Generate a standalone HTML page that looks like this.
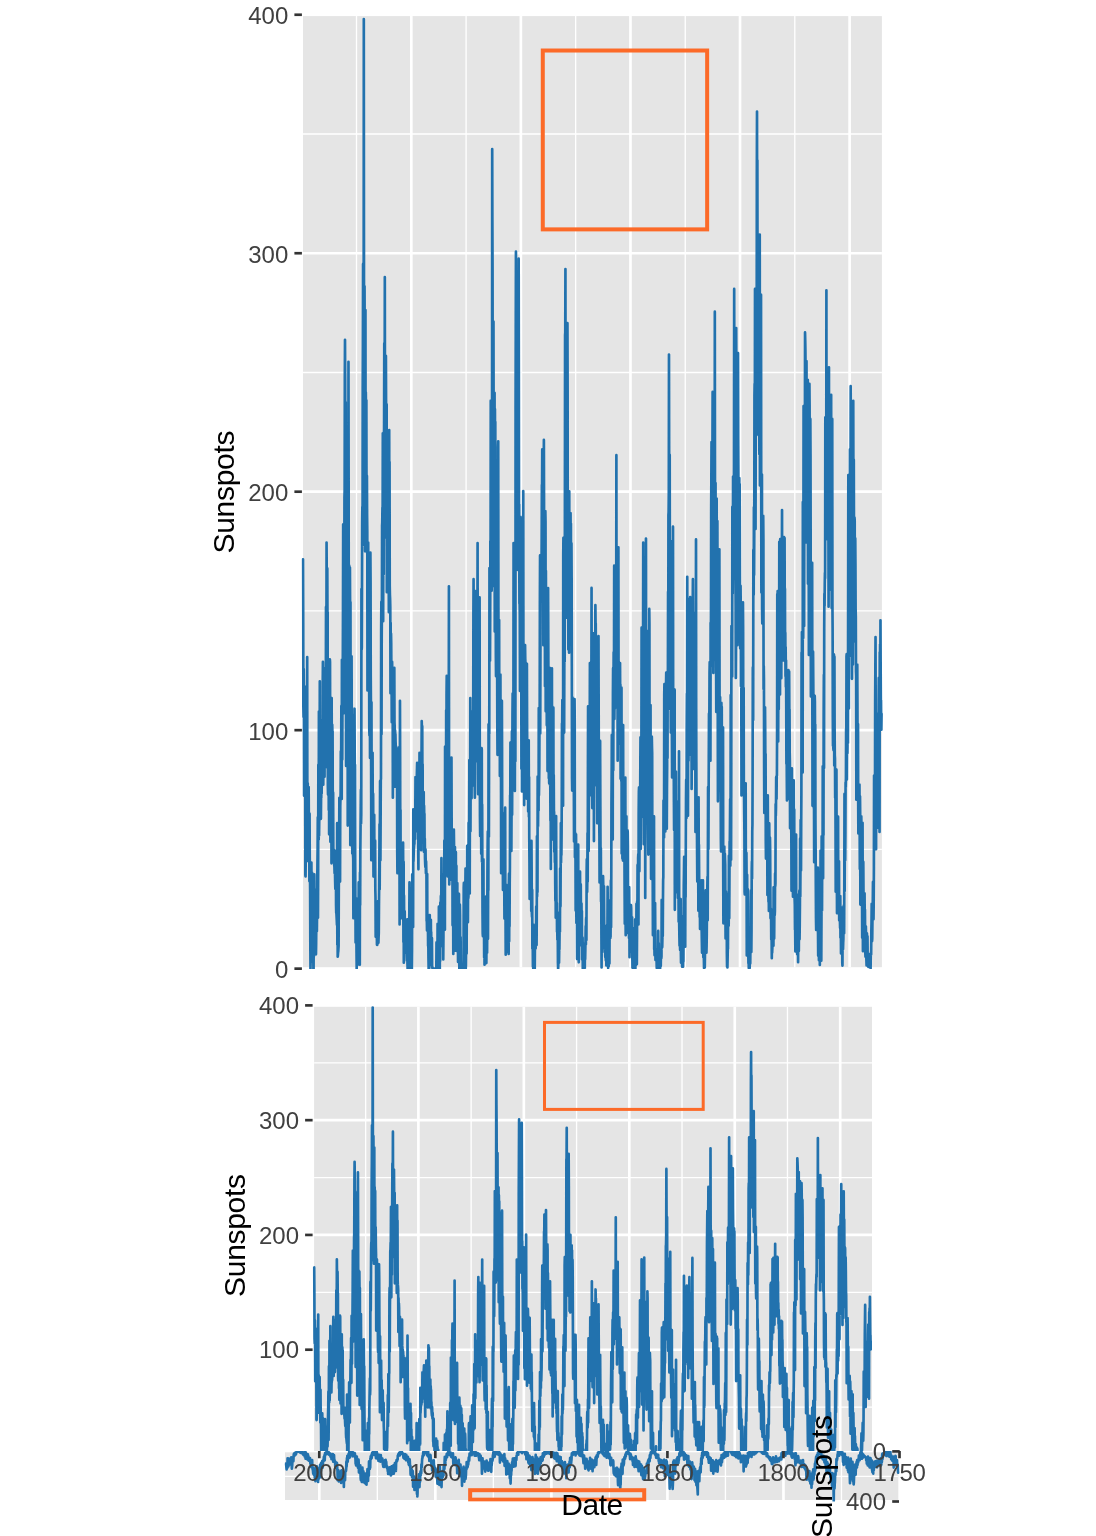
<!DOCTYPE html>
<html lang="en"><head><meta charset="utf-8"><title>Sunspots</title>
<style>
html,body{margin:0;padding:0;background:#fff}
svg{display:block}
text{font-family:"Liberation Sans",sans-serif}
.t{letter-spacing:-0.35px}
</style></head>
<body>
<svg width="1096" height="1536" viewBox="0 0 1096 1536">
<rect width="1096" height="1536" fill="#fff"/>
<clipPath id="ca"><rect x="301.5" y="14.75" width="581.9" height="954.2"/></clipPath>
<rect x="303" y="16.1" width="578.9" height="951.1" fill="#E5E5E5"/>
<path d="M356.51 16.1V967.2M466.08 16.1V967.2M575.66 16.1V967.2M685.23 16.1V967.2M794.81 16.1V967.2M303 849.41H881.9M303 610.94H881.9M303 372.46H881.9M303 133.99H881.9" stroke="#fff" stroke-width="1.33" fill="none"/>
<path d="M411.3 16.1V967.2M520.87 16.1V967.2M630.45 16.1V967.2M740.02 16.1V967.2M849.6 16.1V967.2M303 730.17H881.9M303 491.7H881.9M303 253.23H881.9" stroke="#fff" stroke-width="2.67" fill="none"/>
<g clip-path="url(#ca)">
<polyline points="303,559.27 303.18,606.17 303.37,707.52 303.55,717.06 303.73,668.97 303.91,690.43 304.1,795.76 304.28,788.6 304.46,744.48 304.64,727.39 304.83,767.14 305.01,705.14 305.19,730.97 305.37,875.25 305.56,876.44 305.74,855.37 305.92,793.77 306.1,829.54 306.29,769.92 306.47,686.45 306.65,732.96 306.84,731.37 307.02,811.26 307.2,657.04 307.38,852.19 307.57,860.94 307.75,783.43 307.93,819.21 308.11,809.67 308.3,793.77 308.48,841.46 308.66,787.01 308.84,817.62 309.03,825.56 309.21,842.66 309.39,881.21 309.57,813.64 309.76,857.36 309.94,869.29 310.12,889.16 310.31,942.02 310.49,968.65 310.67,956.73 310.85,961.89 311.04,914.2 311.22,886.38 311.4,862.53 311.58,893.93 311.77,919.76 311.95,936.06 312.13,872.86 312.31,916.19 312.5,951.96 312.68,928.11 312.86,924.13 313.04,941.62 313.23,942.82 313.41,968.65 313.59,968.65 313.77,934.47 313.96,955.93 314.14,897.9 314.32,874.45 314.51,941.62 314.69,889.16 314.87,918.97 315.05,940.43 315.24,947.19 315.42,931.29 315.6,918.97 315.78,917.38 315.97,954.34 316.15,943.21 316.33,921.75 316.51,911.81 316.7,901.08 316.88,931.29 317.06,912.61 317.24,884.39 317.43,864.52 317.61,849.41 317.79,817.22 317.98,917.78 318.16,869.29 318.34,764.75 318.52,810.86 318.71,839.48 318.89,711.49 319.07,835.5 319.25,819.21 319.44,761.97 319.62,773.9 319.8,681.29 319.98,784.23 320.17,789.79 320.35,793.77 320.53,814.83 320.71,720.24 320.9,818.81 321.08,797.74 321.26,797.74 321.45,776.68 321.63,793.77 321.81,782.64 321.99,781.84 322.18,773.9 322.36,769.92 322.54,765.95 322.72,685.26 322.91,661.81 323.09,731.37 323.27,784.63 323.45,742.1 323.64,701.16 323.82,732.16 324,671.75 324.18,736.93 324.37,682.48 324.55,776.68 324.73,706.33 324.92,668.17 325.1,725.01 325.28,767.54 325.46,731.37 325.65,726.2 325.83,690.43 326.01,606.96 326.19,647.9 326.38,683.67 326.56,542.57 326.74,573.97 326.92,594.64 327.11,606.57 327.29,568.41 327.47,616.1 327.65,612.13 327.84,785.82 328.02,794.56 328.2,679.3 328.38,787.01 328.57,729.38 328.75,810.06 328.93,662.21 329.12,834.31 329.3,699.57 329.48,696.39 329.66,693.21 329.85,659.43 330.03,661.81 330.21,744.09 330.39,841.86 330.58,832.72 330.76,837.89 330.94,838.68 331.12,826.36 331.31,753.23 331.49,863.32 331.67,697.98 331.85,784.63 332.04,726.6 332.22,724.61 332.4,731.37 332.59,731.37 332.77,808.87 332.95,831.92 333.13,792.58 333.32,849.41 333.5,849.41 333.68,849.41 333.86,856.57 334.05,857.36 334.23,865.31 334.41,866.5 334.59,873.26 334.78,865.31 334.96,869.29 335.14,881.21 335.32,888.36 335.51,889.16 335.69,861.34 335.87,850.6 336.06,905.06 336.24,913.01 336.42,913.01 336.6,916.98 336.79,920.95 336.97,924.93 337.15,823.18 337.33,944.8 337.52,862.13 337.7,956.73 337.88,955.53 338.06,952.75 338.25,951.56 338.43,948.78 338.61,945.99 338.79,892.34 338.98,859.75 339.16,849.41 339.34,797.74 339.53,837.89 339.71,850.21 339.89,836.3 340.07,881.61 340.26,806.49 340.44,798.94 340.62,793.37 340.8,751.24 340.99,756.8 341.17,756.01 341.35,705.93 341.53,784.63 341.72,798.94 341.9,659.82 342.08,661.02 342.26,759.59 342.45,703.15 342.63,671.35 342.81,659.43 342.99,608.55 343.18,524.29 343.36,674.93 343.54,713.48 343.73,713.08 343.91,584.31 344.09,676.12 344.27,593.45 344.46,497.26 344.64,490.51 344.82,377.23 345,339.87 345.19,380.01 345.37,523.5 345.55,555.29 345.73,402.27 345.92,650.29 346.1,765.95 346.28,690.03 346.46,637.57 346.65,532.24 346.83,466.66 347.01,553.7 347.2,556.88 347.38,443.21 347.56,562.05 347.74,825.56 347.93,785.02 348.11,783.04 348.29,710.7 348.47,361.73 348.66,493.69 348.84,699.57 349.02,736.14 349.2,565.63 349.39,610.94 349.57,572.38 349.75,588.28 349.93,567.61 350.12,607.76 350.3,845.04 350.48,602.19 350.67,817.62 350.85,742.1 351.03,661.41 351.21,745.28 351.4,767.93 351.58,656.25 351.76,725.01 351.94,714.28 352.13,751.64 352.31,853.39 352.49,765.15 352.67,837.89 352.86,805.29 353.04,855.77 353.22,858.55 353.4,918.17 353.59,852.19 353.77,864.12 353.95,806.09 354.14,796.95 354.32,782.64 354.5,708.71 354.68,747.27 354.87,794.56 355.05,764.75 355.23,855.37 355.41,899.09 355.6,942.42 355.78,937.25 355.96,913.01 356.14,898.3 356.33,920.16 356.51,951.16 356.69,968.65 356.87,922.54 357.06,924.13 357.24,953.15 357.42,919.76 357.6,964.68 357.79,937.25 357.97,955.93 358.15,946.39 358.34,908.63 358.52,937.25 358.7,882.4 358.88,922.54 359.07,943.61 359.25,882 359.43,924.13 359.61,893.13 359.8,964.68 359.98,872.47 360.16,905.06 360.34,849.41 360.53,829.54 360.71,809.67 360.89,789.79 361.07,823.58 361.26,813.64 361.44,589.08 361.62,649.49 361.81,647.9 361.99,591.06 362.17,523.5 362.35,506.8 362.54,545.36 362.72,388.36 362.9,343.45 363.08,263.96 363.27,534.23 363.45,436.06 363.63,392.34 363.81,19.12 364,286.61 364.18,360.54 364.36,412.21 364.54,286.21 364.73,347.42 364.91,371.27 365.09,551.32 365.28,512.77 365.46,310.06 365.64,499.65 365.82,392.34 366.01,412.21 366.19,516.74 366.37,400.28 366.55,523.5 366.74,527.47 366.92,475.8 367.1,515.55 367.28,531.45 367.47,690.43 367.65,579.14 367.83,579.14 368.01,591.06 368.2,542.57 368.38,618.89 368.56,626.84 368.75,626.84 368.93,596.23 369.11,662.61 369.29,730.17 369.48,735.34 369.66,576.36 369.84,671.75 370.02,758 370.21,697.19 370.39,552.51 370.57,580.33 370.75,676.52 370.94,706.33 371.12,765.95 371.3,860.14 371.48,702.35 371.67,828.74 371.85,754.02 372.03,819.6 372.21,821.59 372.4,805.69 372.58,752.83 372.76,817.62 372.95,821.59 373.13,793.77 373.31,833.51 373.49,876.44 373.68,843.45 373.86,849.41 374.04,857.36 374.22,814.83 374.41,862.53 374.59,856.17 374.77,877.23 374.95,868.49 375.14,840.67 375.32,889.16 375.5,897.11 375.68,936.85 375.87,909.03 376.05,926.92 376.23,916.98 376.42,936.85 376.6,924.93 376.78,928.9 376.96,944.8 377.15,932.88 377.33,944.8 377.51,928.9 377.69,928.9 377.88,936.85 378.06,901.08 378.24,913.01 378.42,942.82 378.61,936.85 378.79,932.88 378.97,906.25 379.15,886.38 379.34,864.12 379.52,824.37 379.7,889.16 379.89,841.46 380.07,781.05 380.25,808.87 380.43,860.14 380.62,820.8 380.8,779.46 380.98,779.06 381.16,629.22 381.35,601.8 381.53,734.15 381.71,638.76 381.89,612.13 382.08,525.48 382.26,522.3 382.44,507.6 382.62,520.71 382.81,433.27 382.99,547.34 383.17,621.27 383.36,463.08 383.54,432.88 383.72,574.37 383.9,459.9 384.09,423.34 384.27,343.45 384.45,344.64 384.63,406.25 384.82,277.07 385,420.16 385.18,455.13 385.36,399.09 385.55,537.41 385.73,519.52 385.91,355.77 386.09,406.25 386.28,428.11 386.46,408.23 386.64,404.26 386.82,592.26 387.01,453.94 387.19,515.55 387.37,470.63 387.56,491.7 387.74,478.58 387.92,477.79 388.1,491.7 388.29,503.62 388.47,559.27 388.65,523.5 388.83,612.13 389.02,436.06 389.2,430.09 389.38,559.27 389.56,461.89 389.75,585.9 389.93,595.04 390.11,599.01 390.29,606.96 390.48,693.21 390.66,622.86 390.84,661.41 391.03,633.59 391.21,642.73 391.39,674.53 391.57,679.7 391.76,722.23 391.94,674.53 392.12,661.81 392.3,675.72 392.49,713.48 392.67,686.45 392.85,797.74 393.03,704.34 393.22,723.42 393.4,702.35 393.58,706.33 393.76,738.12 393.95,714.28 394.13,718.25 394.31,667.77 394.5,722.23 394.68,726.2 394.86,786.61 395.04,730.17 395.23,734.15 395.41,734.15 395.59,742.1 395.77,746.07 395.96,746.07 396.14,750.05 396.32,748.06 396.5,758 396.69,760.78 396.87,765.95 397.05,769.92 397.23,852.19 397.42,873.26 397.6,781.84 397.78,793.77 397.97,787.01 398.15,789.79 398.33,793.77 398.51,817.62 398.7,855.77 398.88,747.27 399.06,803.7 399.24,805.69 399.43,809.67 399.61,924.53 399.79,855.37 399.97,700.76 400.16,764.36 400.34,883.59 400.52,810.06 400.7,918.57 400.89,894.72 401.07,845.44 401.25,900.68 401.43,917.38 401.62,866.5 401.8,914.99 401.98,891.15 402.17,869.29 402.35,897.11 402.53,881.21 402.71,874.05 402.9,906.25 403.08,842.66 403.26,885.18 403.44,942.02 403.63,861.73 403.81,962.69 403.99,895.52 404.17,924.93 404.36,935.26 404.54,948.38 404.72,911.42 404.9,951.96 405.09,952.75 405.27,952.75 405.45,939.64 405.64,924.53 405.82,951.56 406,944.8 406.18,945.99 406.37,941.23 406.55,945.6 406.73,956.73 406.91,960.7 407.1,952.75 407.28,919.37 407.46,964.28 407.64,968.65 407.83,968.65 408.01,968.65 408.19,956.73 408.37,959.11 408.56,962.69 408.74,918.97 408.92,929.3 409.11,962.29 409.29,918.57 409.47,882.4 409.65,935.26 409.84,936.06 410.02,926.52 410.2,960.3 410.38,968.65 410.57,968.65 410.75,950.37 410.93,957.92 411.11,934.47 411.3,941.23 411.48,931.69 411.66,913.4 411.84,968.65 412.03,948.78 412.21,874.45 412.39,885.18 412.57,891.15 412.76,922.94 412.94,919.76 413.12,926.92 413.31,809.27 413.49,861.34 413.67,853.39 413.85,849.41 414.04,845.44 414.22,841.46 414.4,844.64 414.58,829.54 414.77,814.83 414.95,835.5 415.13,839.08 415.31,810.46 415.5,777.08 415.68,778.66 415.86,781.84 416.04,806.49 416.23,801.72 416.41,793.77 416.59,785.82 416.78,777.87 416.96,769.92 417.14,762.77 417.32,815.63 417.51,831.53 417.69,769.92 417.87,769.92 418.05,766.74 418.24,851.4 418.42,869.29 418.6,792.58 418.78,825.56 418.97,776.68 419.15,833.12 419.33,788.6 419.51,752.83 419.7,765.95 419.88,777.87 420.06,788.6 420.25,776.68 420.43,777.87 420.61,767.54 420.79,835.9 420.98,830.33 421.16,850.21 421.34,797.35 421.52,758 421.71,721.03 421.89,726.2 422.07,730.17 422.25,726.2 422.44,793.37 422.62,764.36 422.8,819.6 422.98,813.64 423.17,807.68 423.35,819.21 423.53,798.94 423.72,792.18 423.9,851.8 424.08,805.69 424.26,816.42 424.45,813.64 424.63,851 424.81,838.68 424.99,858.55 425.18,863.72 425.36,866.9 425.54,849.41 425.72,864.12 425.91,873.26 426.09,861.34 426.27,869.29 426.45,873.26 426.64,920.95 426.82,920.16 427,930.49 427.19,874.05 427.37,928.9 427.55,920.95 427.73,918.17 427.92,920.95 428.1,945.99 428.28,936.85 428.46,958.32 428.65,968.65 428.83,968.65 429.01,950.76 429.19,968.65 429.38,919.76 429.56,914.99 429.74,914.99 429.92,942.02 430.11,936.85 430.29,922.15 430.47,949.97 430.65,926.92 430.84,919.76 431.02,940.03 431.2,932.08 431.39,965.07 431.57,958.71 431.75,960.7 431.93,938.05 432.12,967.46 432.3,967.86 432.48,967.06 432.66,968.65 432.85,968.65 433.03,968.65 433.21,968.65 433.39,968.65 433.58,968.65 433.76,968.65 433.94,968.65 434.12,968.65 434.31,968.65 434.49,968.65 434.67,968.65 434.86,968.65 435.04,968.65 435.22,968.65 435.4,968.65 435.59,968.65 435.77,968.65 435.95,968.65 436.13,968.65 436.32,968.65 436.5,942.42 436.68,968.65 436.86,959.11 437.05,944.41 437.23,965.47 437.41,964.28 437.59,923.74 437.78,961.1 437.96,965.87 438.14,968.65 438.33,964.68 438.51,963.48 438.69,966.66 438.87,906.65 439.06,947.98 439.24,953.15 439.42,937.25 439.6,928.51 439.79,968.65 439.97,927.71 440.15,961.1 440.33,902.67 440.52,946.79 440.7,924.13 440.88,895.92 441.06,935.26 441.25,907.84 441.43,858.16 441.61,902.27 441.8,911.81 441.98,880.41 442.16,920.95 442.34,945.99 442.53,874.05 442.71,945.6 442.89,909.43 443.07,895.12 443.26,959.51 443.44,936.46 443.62,891.94 443.8,911.02 443.99,888.76 444.17,892.34 444.35,840.67 444.53,864.52 444.72,843.05 444.9,929.7 445.08,746.47 445.26,827.55 445.45,781.05 445.63,843.45 445.81,835.5 446,820.8 446.18,710.3 446.36,864.12 446.54,695.2 446.73,675.72 446.91,734.94 447.09,792.58 447.27,795.36 447.46,814.44 447.64,876.44 447.82,778.66 448,744.48 448.19,817.22 448.37,849.81 448.55,823.98 448.73,738.52 448.92,586.3 449.1,863.72 449.28,884.39 449.47,809.67 449.65,769.92 449.83,789.79 450.01,822.78 450.2,866.9 450.38,853.78 450.56,855.77 450.74,829.94 450.93,879.62 451.11,867.7 451.29,831.53 451.47,757.6 451.66,823.98 451.84,857.36 452.02,843.45 452.2,864.91 452.39,842.66 452.57,925.33 452.75,866.11 452.94,839.48 453.12,886.38 453.3,953.94 453.48,888.36 453.67,890.75 453.85,829.54 454.03,843.85 454.21,864.91 454.4,909.43 454.58,859.35 454.76,868.89 454.94,847.03 455.13,892.34 455.31,862.93 455.49,950.76 455.67,891.54 455.86,852.19 456.04,925.72 456.22,886.77 456.4,865.71 456.59,947.98 456.77,932.88 456.95,937.25 457.14,930.1 457.32,883.2 457.5,951.56 457.68,945.99 457.87,932.08 458.05,961.89 458.23,961.5 458.41,958.71 458.6,949.57 458.78,951.16 458.96,893.93 459.14,951.16 459.33,968.65 459.51,968.65 459.69,965.07 459.87,904.66 460.06,914.99 460.24,962.69 460.42,946.39 460.61,937.25 460.79,960.3 460.97,968.65 461.15,967.06 461.34,968.65 461.52,968.65 461.7,968.65 461.88,968.65 462.07,966.27 462.25,968.65 462.43,968.65 462.61,968.65 462.8,966.66 462.98,968.65 463.16,968.65 463.34,968.65 463.53,968.65 463.71,887.57 463.89,882.8 464.08,925.72 464.26,968.65 464.44,891.54 464.62,957.52 464.81,968.65 464.99,968.65 465.17,963.09 465.35,887.17 465.54,868.49 465.72,968.65 465.9,965.47 466.08,948.78 466.27,907.04 466.45,879.62 466.63,953.55 466.81,907.44 467,907.44 467.18,845.84 467.36,867.7 467.55,906.25 467.73,906.65 467.91,922.15 468.09,881.21 468.28,898.3 468.46,896.31 468.64,822.78 468.82,873.26 469.01,839.87 469.19,821.19 469.37,759.98 469.55,811.26 469.74,893.53 469.92,767.54 470.1,811.65 470.28,697.98 470.47,831.13 470.65,780.25 470.83,738.92 471.02,785.82 471.2,744.88 471.38,743.29 471.56,798.14 471.75,755.21 471.93,771.51 472.11,741.3 472.29,777.08 472.48,785.42 472.66,758.79 472.84,712.69 473.02,710.3 473.21,725.8 473.39,614.51 473.57,579.14 473.75,752.83 473.94,664.99 474.12,768.33 474.3,751.24 474.48,742.1 474.67,783.43 474.85,797.74 475.03,772.31 475.22,681.29 475.4,591.06 475.58,700.37 475.76,674.93 475.95,607.76 476.13,657.44 476.31,758.79 476.49,741.3 476.68,699.97 476.86,744.09 477.04,761.18 477.22,682.08 477.41,632.4 477.59,542.97 477.77,705.14 477.95,709.9 478.14,794.17 478.32,767.14 478.5,721.83 478.69,633.2 478.87,645.91 479.05,642.34 479.23,779.86 479.42,769.52 479.6,597.42 479.78,751.64 479.96,817.22 480.15,835.9 480.33,789 480.51,750.45 480.69,818.01 480.88,785.02 481.06,795.76 481.24,853.78 481.42,845.84 481.61,748.06 481.79,749.65 481.97,861.73 482.16,804.5 482.34,862.53 482.52,913.4 482.7,933.28 482.89,936.06 483.07,884.79 483.25,911.81 483.43,859.35 483.62,923.74 483.8,909.43 483.98,921.75 484.16,957.52 484.35,917.38 484.53,964.68 484.71,940.83 484.89,945.99 485.08,922.54 485.26,938.84 485.44,945.2 485.63,929.3 485.81,949.17 485.99,896.71 486.17,953.15 486.36,963.09 486.54,933.67 486.72,937.65 486.9,934.07 487.09,952.75 487.27,922.94 487.45,870.08 487.63,847.43 487.82,831.53 488,938.84 488.18,871.27 488.36,890.35 488.55,724.21 488.73,795.36 488.91,836.69 489.09,730.97 489.28,734.15 489.46,568.01 489.64,590.27 489.83,571.19 490.01,660.62 490.19,616.5 490.37,540.98 490.56,578.74 490.74,400.68 490.92,525.88 491.1,473.02 491.29,504.82 491.47,540.19 491.65,590.67 491.83,422.54 492.02,488.12 492.2,149.09 492.38,221.43 492.56,270.71 492.75,433.67 492.93,419.36 493.11,526.28 493.3,340.67 493.48,321.59 493.66,436.06 493.84,585.9 494.03,476.99 494.21,543.37 494.39,452.75 494.57,392.73 494.76,631.61 494.94,409.03 495.12,465.47 495.3,421.75 495.49,593.05 495.67,538.6 495.85,655.45 496.03,676.12 496.22,607.76 496.4,661.02 496.58,651.48 496.77,540.98 496.95,561.26 497.13,659.82 497.31,723.02 497.5,754.82 497.68,751.64 497.86,632 498.04,447.18 498.23,441.22 498.41,607.76 498.59,695.2 498.77,715.87 498.96,645.91 499.14,620.08 499.32,748.06 499.5,706.72 499.69,693.61 499.87,775.88 500.05,727.39 500.24,738.92 500.42,674.53 500.6,770.72 500.78,752.83 500.97,755.21 501.15,873.26 501.33,849.81 501.51,850.6 501.7,799.33 501.88,700.76 502.06,747.27 502.24,846.23 502.43,812.45 502.61,829.14 502.79,855.37 502.97,889.95 503.16,814.44 503.34,887.57 503.52,880.81 503.7,882.4 503.89,861.73 504.07,869.68 504.25,887.17 504.44,918.57 504.62,863.32 504.8,895.12 504.98,817.22 505.17,807.68 505.35,898.7 505.53,915.79 505.71,954.74 505.9,935.66 506.08,933.67 506.26,884.79 506.44,926.92 506.63,930.89 506.81,921.75 506.99,951.96 507.17,947.58 507.36,892.74 507.54,918.17 507.72,931.29 507.91,910.22 508.09,914.6 508.27,885.98 508.45,920.95 508.64,953.94 508.82,884.39 509,873.66 509.18,941.23 509.37,883.2 509.55,926.12 509.73,882.8 509.91,866.5 510.1,795.36 510.28,796.55 510.46,742.5 510.64,778.66 510.83,845.04 511.01,847.03 511.19,840.27 511.38,851 511.56,806.88 511.74,812.05 511.92,731.37 512.11,814.83 512.29,765.95 512.47,714.67 512.65,693.61 512.84,730.57 513.02,709.9 513.2,783.83 513.38,750.84 513.57,542.97 513.75,746.47 513.93,728.59 514.11,708.31 514.3,719.84 514.48,790.19 514.66,628.03 514.85,790.99 515.03,668.97 515.21,629.62 515.39,761.18 515.58,409.82 515.76,327.95 515.94,251.64 516.12,416.58 516.31,533.04 516.49,336.29 516.67,524.29 516.85,535.82 517.04,542.97 517.22,562.45 517.4,476.6 517.58,415.39 517.77,442.02 517.95,570 518.13,442.42 518.31,513.16 518.5,333.11 518.68,258.64 518.86,371.91 519.05,531.41 519.23,504.22 519.41,603.45 519.59,600.73 519.78,615.23 519.96,690.9 520.14,544.09 520.32,644.68 520.51,516.91 520.69,529.14 520.87,615.23 521.05,563.58 521.24,594.39 521.42,768.83 521.6,689.54 521.78,651.48 521.97,791.49 522.15,689.54 522.33,578.08 522.52,646.95 522.7,720.35 522.88,696.79 523.06,626.56 523.25,491.08 523.43,675.95 523.61,712.65 523.79,685.01 523.98,682.29 524.16,805.08 524.34,708.57 524.52,660.99 524.71,685.46 524.89,738.02 525.07,645.13 525.25,658.73 525.44,662.81 525.62,691.35 525.8,672.32 525.99,719.9 526.17,756.14 526.35,778.35 526.53,788.77 526.72,798.74 526.9,663.71 527.08,722.62 527.26,762.94 527.45,782.42 527.63,774.27 527.81,797.83 527.99,752.97 528.18,811.42 528.36,787.41 528.54,760.68 528.72,740.29 528.91,816.86 529.09,776.99 529.27,838.16 529.46,862.62 529.64,898.87 529.82,878.03 530,874.86 530.19,849.03 530.37,859.91 530.55,873.05 530.73,883.92 530.92,897.06 531.1,867.16 531.28,911.11 531.46,840.88 531.65,871.69 531.83,912.92 532.01,917 532.19,889.81 532.38,948.71 532.56,927.42 532.74,944.64 532.92,966.84 533.11,954.6 533.29,968.65 533.47,924.7 533.66,949.17 533.84,954.6 534.02,966.38 534.2,946.45 534.39,966.84 534.57,939.2 534.75,968.65 534.93,945.99 535.12,947.81 535.3,941.92 535.48,948.71 535.66,948.26 535.85,933.76 536.03,936.03 536.21,906.57 536.39,935.12 536.58,945.09 536.76,918.36 536.94,836.34 537.13,896.15 537.31,868.06 537.49,892.08 537.67,776.53 537.86,784.69 538.04,826.38 538.22,800.1 538.4,791.94 538.59,810.52 538.77,708.12 538.95,795.11 539.13,781.07 539.32,767.02 539.5,711.74 539.68,718.08 539.86,605.71 540.05,555.42 540.23,733.49 540.41,665.52 540.6,589.4 540.78,571.73 540.96,559.5 541.14,580.34 541.33,556.33 541.51,574 541.69,537.3 541.87,484.74 542.06,489.27 542.24,449.39 542.42,528.23 542.6,601.64 542.79,599.37 542.97,569.92 543.15,520.53 543.33,645.13 543.52,483.38 543.7,476.58 543.88,439.88 544.07,514.19 544.25,550.89 544.43,560.4 544.61,525.06 544.8,535.48 544.98,686.37 545.16,616.14 545.34,511.02 545.53,522.34 545.71,711.29 545.89,570.83 546.07,615.23 546.26,594.84 546.44,606.62 546.62,664.17 546.8,725.33 546.99,603.9 547.17,682.74 547.35,676.4 547.53,771.1 547.72,725.33 547.9,676.85 548.08,588.04 548.27,636.07 548.45,685.46 548.63,666.88 548.81,778.35 549,739.38 549.18,783.33 549.36,749.8 549.54,711.74 549.73,667.79 549.91,784.69 550.09,724.88 550.27,783.78 550.46,820.49 550.64,750.71 550.82,868.97 551,787.86 551.19,797.83 551.37,781.97 551.55,707.21 551.74,755.24 551.92,668.24 552.1,806.44 552.28,784.69 552.47,706.76 552.65,720.8 552.83,720.35 553.01,839.52 553.2,815.05 553.38,707.66 553.56,839.06 553.74,775.09 553.93,812.45 554.11,811.65 554.29,851.8 554.47,831.53 554.66,835.1 554.84,862.13 555.02,818.41 555.21,882.8 555.39,900.68 555.57,870.88 555.75,917.78 555.94,843.05 556.12,816.03 556.3,870.88 556.48,898.7 556.67,917.38 556.85,903.07 557.03,931.69 557.21,918.17 557.4,939.64 557.58,912.61 557.76,932.88 557.94,962.69 558.13,968.65 558.31,965.87 558.49,932.08 558.68,948.38 558.86,957.12 559.04,962.69 559.22,948.78 559.41,949.17 559.59,929.7 559.77,914.99 559.95,931.69 560.14,868.49 560.32,906.65 560.5,905.85 560.68,863.32 560.87,823.18 561.05,862.53 561.23,845.04 561.41,854.98 561.6,831.92 561.78,794.56 561.96,723.42 562.14,733.75 562.33,699.97 562.51,726.6 562.69,732.96 562.88,759.19 563.06,805.69 563.24,555.29 563.42,537.81 563.61,733.35 563.79,652.27 563.97,648.3 564.15,732.56 564.34,661.02 564.52,554.1 564.7,661.41 564.88,511.97 565.07,335.1 565.25,332.72 565.43,269.12 565.61,429.7 565.8,442.42 565.98,357.36 566.16,428.11 566.35,386.77 566.53,382.4 566.71,451.95 566.89,617.69 567.08,470.63 567.26,399.49 567.44,323.18 567.62,390.35 567.81,604.18 567.99,559.27 568.17,531.45 568.35,649.49 568.54,614.91 568.72,549.73 568.9,609.75 569.08,652.67 569.27,491.3 569.45,617.3 569.63,562.85 569.82,540.98 570,531.84 570.18,549.33 570.36,599.41 570.55,513.16 570.73,557.28 570.91,523.5 571.09,635.18 571.28,624.05 571.46,543.37 571.64,577.95 571.82,665.79 572.01,778.27 572.19,790.59 572.37,702.75 572.55,697.58 572.74,779.86 572.92,780.25 573.1,748.46 573.29,773.1 573.47,727 573.65,713.48 573.83,784.23 574.02,841.46 574.2,791.38 574.38,816.82 574.56,699.17 574.75,725.01 574.93,857.36 575.11,832.32 575.29,853.78 575.48,852.19 575.66,910.62 575.84,880.41 576.02,834.31 576.21,852.99 576.39,922.94 576.57,873.66 576.75,918.97 576.94,910.62 577.12,959.11 577.3,918.17 577.49,898.3 577.67,929.3 577.85,911.81 578.03,909.03 578.22,844.64 578.4,959.51 578.58,948.38 578.76,962.29 578.95,908.24 579.13,933.67 579.31,929.3 579.49,911.81 579.68,929.3 579.86,936.06 580.04,871.67 580.22,934.07 580.41,922.15 580.59,905.85 580.77,884.39 580.96,915.39 581.14,945.2 581.32,943.61 581.5,903.47 581.69,942.02 581.87,911.02 582.05,959.51 582.23,955.53 582.42,944.8 582.6,937.65 582.78,968.25 582.96,945.6 583.15,943.21 583.33,968.25 583.51,968.65 583.69,947.58 583.88,964.28 584.06,952.35 584.24,966.66 584.43,965.47 584.61,966.27 584.79,968.65 584.97,944.01 585.16,959.11 585.34,949.57 585.52,938.84 585.7,926.12 585.89,944.41 586.07,919.76 586.25,917.38 586.43,940.03 586.62,873.26 586.8,859.35 586.98,891.15 587.16,891.94 587.35,875.25 587.53,833.12 587.71,881.61 587.89,777.47 588.08,706.33 588.26,797.74 588.44,846.63 588.63,851 588.81,823.98 588.99,757.2 589.17,763.96 589.36,763.16 589.54,795.76 589.72,728.19 589.9,663 590.09,738.12 590.27,757.2 590.45,714.28 590.63,750.84 590.82,780.65 591,789.79 591.18,693.21 591.36,700.37 591.55,587.88 591.73,713.88 591.91,789 592.1,788.2 592.28,808.08 592.46,739.32 592.64,733.35 592.83,633.2 593.01,802.51 593.19,727.79 593.37,782.24 593.56,798.54 593.74,642.34 593.92,841.07 594.1,664.59 594.29,648.3 594.47,785.82 594.65,759.59 594.83,635.58 595.02,632.8 595.2,666.98 595.38,604.98 595.57,623.26 595.75,623.66 595.93,666.18 596.11,704.34 596.3,765.15 596.48,757.6 596.66,746.87 596.84,722.62 597.03,778.66 597.21,823.18 597.39,781.05 597.57,798.54 597.76,683.27 597.94,770.72 598.12,750.05 598.3,678.51 598.49,635.98 598.67,704.34 598.85,769.92 599.04,811.26 599.22,814.83 599.4,836.3 599.58,882.4 599.77,849.81 599.95,865.71 600.13,740.91 600.31,794.96 600.5,846.63 600.68,860.94 600.86,848.22 601.04,901.48 601.23,883.59 601.41,934.47 601.59,967.46 601.77,919.37 601.96,927.71 602.14,916.19 602.32,951.96 602.51,941.23 602.69,889.16 602.87,906.25 603.05,876.04 603.24,883.59 603.42,939.24 603.6,942.42 603.78,941.23 603.97,886.38 604.15,918.17 604.33,940.43 604.51,937.65 604.7,948.38 604.88,940.83 605.06,940.43 605.24,956.33 605.43,957.52 605.61,933.67 605.79,960.3 605.97,926.12 606.16,942.02 606.34,965.47 606.52,934.87 606.71,942.02 606.89,951.56 607.07,959.11 607.25,943.21 607.44,931.29 607.62,886.77 607.8,942.82 607.98,960.3 608.17,967.86 608.35,942.02 608.53,947.58 608.71,966.27 608.9,948.38 609.08,962.29 609.26,949.57 609.44,963.48 609.63,922.54 609.81,934.87 609.99,900.29 610.18,924.13 610.36,930.49 610.54,937.65 610.72,914.99 610.91,880.41 611.09,927.31 611.27,887.17 611.45,805.29 611.64,776.68 611.82,734.94 612,837.49 612.18,754.82 612.37,763.96 612.55,802.11 612.73,839.48 612.91,694.01 613.1,668.17 613.28,770.32 613.46,692.02 613.65,652.27 613.83,665.39 614.01,664.59 614.19,565.63 614.38,719.05 614.56,688.44 614.74,708.71 614.92,656.25 615.11,670.56 615.29,678.51 615.47,707.52 615.65,618.49 615.84,632 616.02,611.33 616.2,616.5 616.38,455.13 616.57,659.03 616.75,650.68 616.93,670.16 617.12,595.83 617.3,637.96 617.48,632.4 617.66,760.78 617.85,644.32 618.03,566.42 618.21,575.56 618.39,547.34 618.58,689.24 618.76,706.72 618.94,668.57 619.12,743.69 619.31,730.17 619.49,717.06 619.67,701.56 619.85,726.2 620.04,663 620.22,700.37 620.4,684.47 620.58,778.66 620.77,694.8 620.95,739.32 621.13,698.78 621.32,781.05 621.5,687.65 621.68,853.39 621.86,740.51 622.05,761.97 622.23,794.56 622.41,858.55 622.59,773.9 622.78,789.79 622.96,860.54 623.14,725.01 623.32,854.58 623.51,817.62 623.69,799.33 623.87,807.28 624.05,851.8 624.24,852.99 624.42,845.44 624.6,889.16 624.79,923.74 624.97,858.95 625.15,882 625.33,777.47 625.52,911.81 625.7,935.26 625.88,836.3 626.06,848.62 626.25,823.98 626.43,816.42 626.61,911.02 626.79,866.11 626.98,880.02 627.16,932.88 627.34,843.85 627.52,830.33 627.71,831.92 627.89,845.84 628.07,918.57 628.26,891.15 628.44,932.08 628.62,896.71 628.8,912.21 628.99,938.05 629.17,887.17 629.35,914.99 629.53,957.12 629.72,935.26 629.9,916.98 630.08,937.65 630.26,926.92 630.45,931.29 630.63,914.6 630.81,934.47 630.99,905.06 631.18,908.24 631.36,920.56 631.54,935.66 631.73,951.56 631.91,935.66 632.09,917.38 632.27,950.76 632.46,967.46 632.64,967.86 632.82,959.11 633,950.76 633.19,968.65 633.37,928.11 633.55,945.6 633.73,965.87 633.92,964.68 634.1,966.27 634.28,953.94 634.46,953.55 634.65,968.65 634.83,946.79 635.01,968.65 635.19,919.37 635.38,968.65 635.56,957.52 635.74,963.09 635.93,965.07 636.11,959.51 636.29,938.44 636.47,903.86 636.66,927.71 636.84,964.28 637.02,935.66 637.2,901.08 637.39,914.99 637.57,864.91 637.75,910.62 637.93,903.86 638.12,857.76 638.3,854.18 638.48,924.53 638.66,814.04 638.85,791.78 639.03,787.41 639.21,843.05 639.4,871.27 639.58,820.8 639.76,797.74 639.94,811.65 640.13,802.11 640.31,767.54 640.49,737.33 640.67,849.02 640.86,753.23 641.04,817.62 641.22,751.64 641.4,750.84 641.59,627.63 641.77,744.09 641.95,812.45 642.13,777.87 642.32,773.9 642.5,678.51 642.68,734.94 642.87,750.05 643.05,655.85 643.23,542.57 643.41,748.06 643.6,787.81 643.78,844.25 643.96,712.29 644.14,748.86 644.33,739.32 644.51,717.46 644.69,556.88 644.87,779.06 645.06,745.68 645.24,897.9 645.42,814.04 645.6,711.49 645.79,664.99 645.97,538.6 646.15,727.39 646.34,759.59 646.52,798.14 646.7,808.08 646.88,771.11 647.07,752.83 647.25,630.81 647.43,708.71 647.61,724.21 647.8,780.65 647.98,812.85 648.16,833.91 648.34,854.58 648.53,739.71 648.71,806.49 648.89,777.47 649.07,811.65 649.26,608.95 649.44,623.26 649.62,840.27 649.8,787.81 649.99,811.65 650.17,743.29 650.35,783.43 650.54,705.14 650.72,840.27 650.9,825.56 651.08,878.82 651.27,826.36 651.45,876.84 651.63,814.44 651.81,736.53 652,746.87 652.18,753.23 652.36,863.72 652.54,843.45 652.73,883.59 652.91,935.26 653.09,880.41 653.27,919.76 653.46,912.61 653.64,922.94 653.82,864.52 654.01,816.42 654.19,949.17 654.37,945.6 654.55,955.14 654.74,932.88 654.92,937.65 655.1,903.07 655.28,932.88 655.47,959.91 655.65,954.74 655.83,952.75 656.01,952.75 656.2,958.32 656.38,951.96 656.56,959.91 656.74,967.46 656.93,968.65 657.11,949.17 657.29,950.76 657.48,951.16 657.66,952.35 657.84,956.73 658.02,967.46 658.21,930.89 658.39,950.37 658.57,964.28 658.75,943.21 658.94,959.51 659.12,957.12 659.3,966.66 659.48,965.07 659.67,968.65 659.85,968.65 660.03,961.89 660.21,967.86 660.4,963.88 660.58,956.33 660.76,965.87 660.95,953.55 661.13,957.52 661.31,958.32 661.49,956.33 661.68,899.89 661.86,947.98 662.04,923.34 662.22,947.19 662.41,938.05 662.59,918.17 662.77,936.06 662.95,903.47 663.14,880.02 663.32,877.23 663.5,800.53 663.68,814.44 663.87,804.5 664.05,837.49 664.23,695.2 664.41,684.07 664.6,692.02 664.78,771.91 664.96,756.01 665.15,799.73 665.33,831.53 665.51,788.6 665.69,748.46 665.88,702.35 666.06,683.27 666.24,672.54 666.42,699.57 666.61,756.01 666.79,828.74 666.97,789.4 667.15,767.14 667.34,707.92 667.52,758 667.7,671.75 667.88,682.88 668.07,591.86 668.25,671.75 668.43,515.15 668.62,511.97 668.8,492.49 668.98,354.58 669.16,454.34 669.35,681.69 669.53,585.5 669.71,454.74 669.89,587.09 670.08,709.11 670.26,681.69 670.44,648.7 670.62,663.8 670.81,732.56 670.99,540.98 671.17,564.43 671.35,651.08 671.54,630.81 671.72,637.17 671.9,733.35 672.09,777.47 672.27,652.67 672.45,704.34 672.63,762.77 672.82,618.49 673,526.68 673.18,711.49 673.36,694.4 673.55,751.24 673.73,758.79 673.91,801.72 674.09,829.94 674.28,765.55 674.46,754.42 674.64,689.63 674.82,909.83 675.01,836.3 675.19,814.83 675.37,859.35 675.56,892.34 675.74,824.37 675.92,771.51 676.1,860.54 676.29,849.81 676.47,843.45 676.65,856.17 676.83,862.53 677.02,839.87 677.2,880.41 677.38,834.71 677.56,802.11 677.75,878.03 677.93,897.9 678.11,896.31 678.29,897.9 678.48,887.97 678.66,921.75 678.84,863.72 679.02,751.24 679.21,924.93 679.39,936.85 679.57,945.6 679.76,925.33 679.94,942.82 680.12,949.97 680.3,944.01 680.49,939.24 680.67,899.09 680.85,950.76 681.03,962.69 681.22,955.53 681.4,944.41 681.58,955.93 681.76,932.48 681.95,954.74 682.13,966.66 682.31,916.19 682.49,922.54 682.68,928.9 682.86,957.52 683.04,966.66 683.23,948.38 683.41,961.5 683.59,923.74 683.77,885.98 683.96,873.26 684.14,856.96 684.32,891.94 684.5,868.89 684.69,866.9 684.87,879.22 685.05,903.07 685.23,946.79 685.42,876.44 685.6,897.11 685.78,842.66 685.96,798.54 686.15,779.86 686.33,815.63 686.51,818.01 686.7,729.38 686.88,693.61 687.06,735.74 687.24,576.76 687.43,683.27 687.61,690.43 687.79,720.24 687.97,815.63 688.16,713.08 688.34,676.52 688.52,760.78 688.7,723.82 688.89,727 689.07,684.47 689.25,728.19 689.43,653.07 689.62,644.32 689.8,599.01 689.98,692.02 690.17,597.03 690.35,654.26 690.53,733.75 690.71,750.45 690.9,754.82 691.08,696.79 691.26,717.85 691.44,701.56 691.63,789 691.81,636.77 691.99,676.52 692.17,629.22 692.36,648.3 692.54,663 692.72,605.37 692.9,579.14 693.09,635.58 693.27,612.13 693.45,724.61 693.63,768.73 693.82,734.15 694,694.8 694.18,713.88 694.37,769.13 694.55,758.79 694.73,737.33 694.91,682.88 695.1,689.63 695.28,707.12 695.46,831.92 695.64,754.02 695.83,646.31 696.01,539.39 696.19,709.11 696.37,773.1 696.56,829.54 696.74,816.82 696.92,822.39 697.1,854.18 697.29,881.61 697.47,869.68 697.65,841.07 697.84,831.92 698.02,827.15 698.2,866.11 698.38,910.62 698.57,797.35 698.75,849.41 698.93,844.64 699.11,870.88 699.3,907.84 699.48,899.49 699.66,916.98 699.84,893.13 700.03,928.9 700.21,894.33 700.39,897.9 700.57,920.56 700.76,926.52 700.94,924.13 701.12,924.13 701.31,897.5 701.49,880.41 701.67,930.49 701.85,941.62 702.04,952.75 702.22,933.28 702.4,936.06 702.58,924.93 702.77,919.76 702.95,880.41 703.13,928.51 703.31,957.12 703.5,955.93 703.68,947.98 703.86,957.52 704.04,967.86 704.23,948.38 704.41,956.73 704.59,966.27 704.78,967.46 704.96,955.14 705.14,937.65 705.32,951.56 705.51,923.74 705.69,890.35 705.87,942.02 706.05,931.69 706.24,935.66 706.42,952.75 706.6,945.99 706.78,934.07 706.97,907.44 707.15,893.53 707.33,887.17 707.51,876.84 707.7,920.16 707.88,860.14 708.06,787.01 708.24,833.91 708.43,849.02 708.61,801.32 708.79,757.2 708.98,713.48 709.16,724.21 709.34,719.05 709.52,673.34 709.71,662.21 709.89,670.95 710.07,751.64 710.25,690.43 710.44,760.78 710.62,622.86 710.8,666.58 710.98,614.91 711.17,509.98 711.35,478.19 711.53,442.02 711.71,457.92 711.9,635.18 712.08,534.23 712.26,504.82 712.45,450.76 712.63,391.94 712.81,421.35 712.99,568.41 713.18,472.22 713.36,672.94 713.54,615.71 713.72,577.55 713.91,494.88 714.09,624.85 714.27,567.22 714.45,462.29 714.64,581.13 714.82,311.65 715,508.79 715.18,612.53 715.37,574.77 715.55,482.96 715.73,600.21 715.92,649.49 716.1,661.02 716.28,711.89 716.46,535.02 716.65,498.46 716.83,567.22 717.01,580.73 717.19,548.14 717.38,521.11 717.56,618.49 717.74,697.98 717.92,801.32 718.11,767.93 718.29,732.56 718.47,637.57 718.65,727.39 718.84,752.43 719.02,635.18 719.2,700.37 719.38,549.33 719.57,704.34 719.75,750.05 719.93,736.53 720.12,697.19 720.3,787.41 720.48,791.78 720.66,784.23 720.85,838.28 721.03,851.4 721.21,730.97 721.39,702.75 721.58,730.17 721.76,706.72 721.94,784.63 722.12,816.03 722.31,834.71 722.49,827.15 722.67,758.79 722.85,753.23 723.04,727.39 723.22,869.29 723.4,923.34 723.59,898.3 723.77,888.36 723.95,900.29 724.13,892.34 724.32,846.63 724.5,879.22 724.68,919.37 724.86,853.78 725.05,859.75 725.23,864.91 725.41,912.61 725.59,938.44 725.78,916.19 725.96,891.54 726.14,928.9 726.32,937.65 726.51,928.11 726.69,893.93 726.87,953.94 727.06,966.66 727.24,924.93 727.42,967.46 727.6,958.71 727.79,948.78 727.97,948.78 728.15,902.27 728.33,911.81 728.52,901.48 728.7,925.72 728.88,855.77 729.06,895.12 729.25,918.17 729.43,883.2 729.61,841.46 729.79,847.03 729.98,824.77 730.16,799.33 730.34,865.71 730.53,829.94 730.71,695.2 730.89,785.82 731.07,859.75 731.26,779.46 731.44,626.04 731.62,664.2 731.8,667.77 731.99,631.21 732.17,676.52 732.35,506.8 732.53,542.57 732.72,593.45 732.9,562.05 733.08,476.6 733.26,484.94 733.45,577.95 733.63,518.17 733.81,530.33 734,462.79 734.18,288.88 734.36,415.18 734.54,435.44 734.73,331.1 734.91,396.61 735.09,416.19 735.27,536.41 735.46,575.24 735.64,602.26 735.82,677.9 736,648.52 736.19,328.06 736.37,381.07 736.55,402.01 736.73,488.46 736.92,435.44 737.1,484.74 737.28,508.38 737.46,645.15 737.65,502.64 737.83,566.46 738.01,353.05 738.2,436.79 738.38,472.25 738.56,610.03 738.74,557.68 738.93,543.84 739.11,550.59 739.29,477.99 739.47,524.25 739.66,484.07 739.84,571.53 740.02,625.56 740.2,648.52 740.39,598.21 740.57,585.71 740.75,610.03 740.93,686.34 741.12,661.35 741.3,680.94 741.48,795.42 741.67,761.31 741.85,783.6 742.03,785.96 742.21,766.38 742.4,766.38 742.58,779.88 742.76,654.94 742.94,602.26 743.13,628.94 743.31,760.97 743.49,762.66 743.67,688.03 743.86,794.4 744.04,791.7 744.22,813.99 744.4,831.21 744.59,891.99 744.77,894.36 744.95,870.38 745.14,889.63 745.32,845.73 745.5,835.94 745.68,783.26 745.87,873.42 746.05,888.28 746.23,894.02 746.41,852.82 746.6,879.16 746.78,955.48 746.96,934.88 747.14,874.77 747.33,926.44 747.51,895.03 747.69,939.61 747.87,889.29 748.06,903.48 748.24,940.96 748.42,963.25 748.61,960.21 748.79,967.97 748.97,966.96 749.15,931.84 749.34,962.57 749.52,965.95 749.7,967.97 749.88,952.44 750.07,940.28 750.25,963.58 750.43,945.01 750.61,937.58 750.8,942.99 750.98,890.64 751.16,898.41 751.34,952.1 751.53,930.49 751.71,871.06 751.89,861.6 752.07,878.49 752.26,831.21 752.44,824.46 752.62,771.1 752.81,667.43 752.99,708.97 753.17,720.11 753.35,549.92 753.54,568.83 753.72,594.83 753.9,507.37 754.08,574.91 754.27,532.7 754.45,395.93 754.63,383.78 754.81,444.22 755,288.88 755.18,319.95 755.36,411.47 755.54,528.98 755.73,437.13 755.91,377.02 756.09,412.82 756.28,290.91 756.46,336.5 756.64,435.1 756.82,172.38 757.01,111.6 757.19,256.47 757.37,160.23 757.55,284.83 757.74,411.8 757.92,324.68 758.1,306.78 758.28,376.68 758.47,389.52 758.65,322.32 758.83,292.6 759.01,289.22 759.2,355.75 759.38,454.35 759.56,335.15 759.75,234.52 759.93,485.42 760.11,341.56 760.29,417.21 760.48,387.83 760.66,398.97 760.84,463.47 761.02,294.63 761.21,478.33 761.39,592.47 761.57,549.92 761.75,546.54 761.94,474.61 762.12,610.7 762.3,623.53 762.48,556.67 762.67,564.78 762.85,596.52 763.03,557.68 763.21,515.81 763.4,539.11 763.58,689.04 763.76,666.08 763.95,679.59 764.13,773.13 764.31,812.98 764.49,789.68 764.68,761.31 764.86,796.43 765.04,707.28 765.22,731.59 765.41,780.22 765.59,753.88 765.77,841.34 765.95,858.56 766.14,833.91 766.32,837.96 766.5,798.79 766.68,814.66 766.87,811.96 767.05,821.08 767.23,826.82 767.42,895.03 767.6,895.03 767.78,795.42 767.96,835.26 768.15,877.81 768.33,890.31 768.51,901.79 768.69,886.25 768.88,910.91 769.06,869.71 769.24,823.44 769.42,847.42 769.61,902.46 769.79,856.54 769.97,837.63 770.15,849.45 770.34,889.63 770.52,918.33 770.7,916.98 770.89,908.88 771.07,912.93 771.25,939.61 771.43,936.57 771.62,937.92 771.8,958.18 771.98,937.25 772.16,952.78 772.35,948.05 772.53,943.66 772.71,917.66 772.89,909.55 773.08,920.7 773.26,929.14 773.44,945.69 773.62,887.27 773.81,914.96 773.99,928.47 774.17,938.6 774.36,911.92 774.54,900.77 774.72,915.3 774.9,911.24 775.09,873.42 775.27,886.25 775.45,883.22 775.63,804.2 775.82,815.68 776,807.57 776.18,777.18 776.36,795.75 776.55,799.13 776.73,775.49 776.91,775.49 777.09,730.92 777.28,594.15 777.46,652.57 777.64,591.12 777.83,733.96 778.01,676.55 778.19,741.39 778.37,659.67 778.56,606.65 778.74,709.31 778.92,670.81 779.1,650.21 779.29,541.81 779.47,557.35 779.65,590.78 779.83,657.3 780.02,694.45 780.2,539.11 780.38,596.18 780.56,644.13 780.75,599.56 780.93,572.88 781.11,604.96 781.29,678.24 781.48,597.87 781.66,616.1 781.84,561.74 782.03,510.07 782.21,608 782.39,563.42 782.57,610.7 782.76,641.77 782.94,637.72 783.12,660.34 783.3,645.48 783.49,652.91 783.67,638.05 783.85,592.13 784.03,537.09 784.22,621.17 784.4,598.88 784.58,538.1 784.76,608 784.95,588.75 785.13,654.6 785.31,632.65 785.5,676.21 785.68,647.17 785.86,686.68 786.04,660.34 786.23,701.88 786.41,763.67 786.59,726.19 786.77,774.48 786.96,800.48 787.14,695.12 787.32,761.31 787.5,799.13 787.69,794.07 787.87,755.23 788.05,691.07 788.23,760.97 788.42,670.13 788.6,698.16 788.78,755.23 788.97,696.81 789.15,671.48 789.33,710.32 789.51,709.31 789.7,752.53 789.88,761.65 790.06,828.17 790.24,815.68 790.43,822.09 790.61,823.78 790.79,813.31 790.97,773.8 791.16,825.47 791.34,835.26 791.52,890.64 791.7,882.2 791.89,768.4 792.07,864.98 792.25,887.94 792.44,889.97 792.62,875.45 792.8,880.85 792.98,896.72 793.17,832.56 793.35,835.26 793.53,847.08 793.71,780.22 793.9,855.19 794.08,832.9 794.26,809.6 794.44,884.23 794.63,899.42 794.81,904.83 794.99,929.82 795.17,929.82 795.36,951.43 795.54,938.26 795.72,930.15 795.9,873.42 796.09,834.59 796.27,921.71 796.45,937.92 796.64,903.14 796.82,942.31 797,941.3 797.18,954.13 797.37,894.7 797.55,905.16 797.73,926.78 797.91,927.45 798.1,962.23 798.28,913.27 798.46,923.06 798.64,899.09 798.83,951.09 799.01,916.98 799.19,913.27 799.37,890.64 799.56,939.27 799.74,925.09 799.92,905.84 800.11,838.64 800.29,896.38 800.47,867.01 800.65,820.07 800.84,820.74 801.02,870.38 801.2,822.77 801.38,793.39 801.57,652.57 801.75,710.32 801.93,631.98 802.11,689.38 802.3,647.51 802.48,730.92 802.66,772.45 802.84,501.97 803.03,546.2 803.21,638.05 803.39,554.31 803.58,406.06 803.76,504.33 803.94,502.64 804.12,625.9 804.31,514.8 804.49,463.81 804.67,430.38 804.85,488.46 805.04,332.45 805.22,339.88 805.4,349.67 805.58,373.31 805.77,429.7 805.95,445.23 806.13,542.49 806.31,414.5 806.5,361.15 806.68,437.47 806.86,508.38 807.05,511.42 807.23,445.23 807.41,412.48 807.59,469.21 807.78,379.72 807.96,583.69 808.14,489.4 808.32,507.05 808.51,433.52 808.69,530.51 808.87,654.92 809.05,470.21 809.24,416.19 809.42,383.76 809.6,405.31 809.78,495.42 809.97,456.14 810.15,591.98 810.33,418.94 810.51,454.4 810.7,562.73 810.88,696.51 811.06,604.96 811.25,620.87 811.43,617.73 811.61,583.15 811.79,662.91 811.98,653.55 812.16,562.81 812.34,699.26 812.52,805.68 812.71,756.14 812.89,710.77 813.07,651.65 813.25,677.53 813.44,705.97 813.62,739.21 813.8,807.91 813.98,790.34 814.17,862.24 814.35,861.92 814.53,786.5 814.72,695.75 814.9,701.82 815.08,745.92 815.26,724.51 815.45,821.33 815.63,849.14 815.81,886.96 815.99,918.23 816.18,930.02 816.36,895.07 816.54,908.15 816.72,915.14 816.91,916.96 817.09,912.59 817.27,915.72 817.45,878.59 817.64,889.2 817.82,867.62 818,932.03 818.19,955.75 818.37,906.99 818.55,914.82 818.73,911.03 818.92,960.3 819.1,891.19 819.28,918.24 819.46,906.88 819.65,922.91 819.83,964.98 820.01,908.22 820.19,943.94 820.38,955.96 820.56,850.46 820.74,917.9 820.92,945.95 821.11,933.93 821.29,960.64 821.47,919.57 821.66,836.44 821.84,858.47 822.02,910.56 822.2,858.47 822.39,839.44 822.57,855.47 822.75,766.33 822.93,835.44 823.12,878.17 823.3,771.67 823.48,835.1 823.66,714.24 823.85,674.85 824.03,768 824.21,628.78 824.39,593.69 824.58,605.82 824.76,583.43 824.94,572.86 825.12,578.33 825.31,417.37 825.49,462.18 825.67,439.75 825.86,539.35 826.04,533.66 826.22,498.54 826.4,290.21 826.59,536.91 826.77,403.41 826.95,387.14 827.13,444.07 827.32,399.31 827.5,424 827.68,385.16 827.86,539.18 828.05,501.91 828.23,496.89 828.41,519.4 828.59,606.7 828.78,487.85 828.96,367.27 829.14,590.11 829.33,525.67 829.51,565.83 829.69,568.31 829.87,543.2 830.06,444.58 830.24,521.69 830.42,524.72 830.6,581.46 830.79,423.39 830.97,406.88 831.15,394.76 831.33,557.49 831.52,492.02 831.7,607.92 831.88,483.45 832.06,460.7 832.25,418.88 832.43,604.39 832.61,627.82 832.8,716.52 832.98,745.81 833.16,675.64 833.34,748.04 833.53,750.01 833.71,665.04 833.89,654.31 834.07,685.7 834.26,765.44 834.44,656.69 834.62,729.28 834.8,755.26 834.99,758.27 835.17,797.67 835.35,769.79 835.53,823.66 835.72,891.66 835.9,774.72 836.08,846.19 836.27,800.38 836.45,769.68 836.63,846.4 836.81,859.45 837,913.17 837.18,907.28 837.36,872.08 837.54,847.55 837.73,890.99 837.91,879.92 838.09,816.67 838.27,906.45 838.46,878.09 838.64,884.97 838.82,865.31 839,861.21 839.19,920.31 839.37,918.6 839.55,914.83 839.73,918.65 839.92,919.36 840.1,928 840.28,896 840.47,937.68 840.65,934.25 840.83,929.11 841.01,953.53 841.2,937.05 841.38,952.17 841.56,949.77 841.74,928.17 841.93,940.54 842.11,919.3 842.29,963.17 842.47,965.57 842.66,907.39 842.84,923.16 843.02,949.16 843.2,942.68 843.39,938.93 843.57,915.73 843.75,905.52 843.94,925.33 844.12,933.2 844.3,885.51 844.48,793.93 844.67,891.03 844.85,835.95 845.03,828.53 845.21,860.21 845.4,831.72 845.58,782.54 845.76,787.39 845.94,777.63 846.13,728.89 846.31,742.9 846.49,656.28 846.67,654.06 846.86,779.49 847.04,714.81 847.22,685.9 847.41,753.24 847.59,736.84 847.77,726.59 847.95,743.13 848.14,589.62 848.32,475.09 848.5,559.76 848.68,629.38 848.87,708.45 849.05,541.83 849.23,479.05 849.41,656.14 849.6,634.18 849.78,547.47 849.96,449.44 850.14,508.35 850.33,532.51 850.51,530.8 850.69,386.14 850.88,518.55 851.06,587.6 851.24,620.94 851.42,592.43 851.61,598.33 851.79,627.2 851.97,678.8 852.15,557.7 852.34,576.06 852.52,614.15 852.7,473.61 852.88,664.45 853.07,570.35 853.25,400.83 853.43,492.39 853.61,561.61 853.8,459.81 853.98,532.69 854.16,561.31 854.34,598.22 854.53,517.66 854.71,520.69 854.89,641.57 855.08,600.12 855.26,538.44 855.44,564.02 855.62,609.09 855.81,616.86 855.99,671.34 856.17,675.71 856.35,799.77 856.54,744.58 856.72,748.86 856.9,768.86 857.08,685.75 857.27,664.53 857.45,703.53 857.63,791.25 857.81,730.32 858,724.05 858.18,799.84 858.36,833.39 858.55,802.75 858.73,791 858.91,826.62 859.09,818.84 859.28,812.88 859.46,784.6 859.64,821.51 859.82,869.11 860.01,796.36 860.19,812.69 860.37,904.55 860.55,856.69 860.74,864.27 860.92,881.13 861.1,882.26 861.28,816.33 861.47,828.56 861.65,825.8 861.83,839.08 862.02,890.75 862.2,937.72 862.38,904.71 862.56,822.75 862.75,914.38 862.93,951.28 863.11,931.1 863.29,861.75 863.48,889.77 863.66,919.51 863.84,925.55 864.02,923.11 864.21,917.85 864.39,931.64 864.57,893.27 864.75,920.78 864.94,909.56 865.12,931.04 865.3,952.84 865.49,956.72 865.67,927.61 865.85,926.24 866.03,934.67 866.22,947.65 866.4,960.26 866.58,965.5 866.76,962.71 866.95,933.4 867.13,957.14 867.31,961.33 867.49,936.26 867.68,958.56 867.86,957.52 868.04,956.83 868.22,965.87 868.41,966.91 868.59,964.84 868.77,958.6 868.95,954.45 869.14,965.88 869.32,964.15 869.5,963.81 869.69,966.23 869.87,965.89 870.05,958.63 870.23,958.63 870.42,957.6 870.6,968.65 870.78,953.81 870.96,952.09 871.15,954.51 871.33,931.4 871.51,923.14 871.69,903.85 871.88,915.58 872.06,941.09 872.24,938.68 872.42,921.82 872.61,913.22 872.79,901.19 872.97,881.94 873.16,887.81 873.34,894.7 873.52,919.14 873.7,903.33 873.89,867.61 874.07,775.55 874.25,781.78 874.43,825.78 874.62,841.61 874.8,817.96 874.98,795 875.16,701.04 875.35,666.8 875.53,637.04 875.71,713.44 875.89,760.94 876.08,849.24 876.26,730.97 876.44,764.61 876.63,713.6 876.81,730.23 876.99,722.84 877.17,735.78 877.36,741.69 877.54,771.63 877.72,740.21 877.9,817.84 878.09,736.15 878.27,827.82 878.45,754.63 878.63,701.03 878.82,677.75 879,774.59 879.18,757.96 879.36,724.69 879.55,831.88 879.73,652.24 879.91,681.81 880.1,644.13 880.28,689.63 880.46,620.24 880.64,661.73 880.83,700.37 881.01,700.37 881.19,723.26 881.37,729.7 881.56,713.72" fill="none" stroke="#2272AE" stroke-width="2.67" stroke-linejoin="round" stroke-linecap="round"/>
<rect x="542.79" y="50.52" width="164.36" height="178.86" fill="none" stroke="#FC6A28" stroke-width="4"/>
</g>
<path d="M294.4 968.65H301.9" stroke="#333333" stroke-width="2.67"/><text x="288.3" y="978.05" text-anchor="end" font-size="24" fill="#404040">0</text>
<path d="M294.4 730.17H301.9" stroke="#333333" stroke-width="2.67"/><text x="288.3" y="739.57" text-anchor="end" font-size="24" fill="#404040">100</text>
<path d="M294.4 491.7H301.9" stroke="#333333" stroke-width="2.67"/><text x="288.3" y="501.1" text-anchor="end" font-size="24" fill="#404040">200</text>
<path d="M294.4 253.23H301.9" stroke="#333333" stroke-width="2.67"/><text x="288.3" y="262.62" text-anchor="end" font-size="24" fill="#404040">300</text>
<path d="M294.4 14.75H301.9" stroke="#333333" stroke-width="2.67"/><text x="288.3" y="24.15" text-anchor="end" font-size="24" fill="#404040">400</text>
<text transform="translate(234.4,492.2) rotate(-90)" text-anchor="middle" font-size="30" letter-spacing="-0.3" fill="#000">Sunspots</text>
<clipPath id="cb"><rect x="312.6" y="1005.4" width="559.4" height="445.5"/></clipPath>
<rect x="314.1" y="1006.8" width="557.9" height="444.1" fill="#E5E5E5"/>
<path d="M365.67 1006.8V1450.9M471.12 1006.8V1450.9M576.57 1006.8V1450.9M682.02 1006.8V1450.9M787.47 1006.8V1450.9M314.1 1407.1H872M314.1 1292.33H872M314.1 1177.56H872M314.1 1062.79H872" stroke="#fff" stroke-width="1.33" fill="none"/>
<path d="M418.4 1006.8V1450.9M523.85 1006.8V1450.9M629.3 1006.8V1450.9M734.75 1006.8V1450.9M840.2 1006.8V1450.9M314.1 1349.71H872M314.1 1234.94H872M314.1 1120.17H872" stroke="#fff" stroke-width="2.67" fill="none"/>
<g clip-path="url(#cb)">
<polyline points="314.18,1267.46 314.36,1290.03 314.53,1338.81 314.71,1343.4 314.88,1320.25 315.06,1330.58 315.23,1381.27 315.41,1377.83 315.59,1356.6 315.76,1348.37 315.94,1367.5 316.11,1337.66 316.29,1350.09 316.46,1419.53 316.64,1420.1 316.82,1409.96 316.99,1380.32 317.17,1397.53 317.34,1368.84 317.52,1328.67 317.7,1351.05 317.87,1350.28 318.05,1388.73 318.22,1314.51 318.4,1408.43 318.57,1412.64 318.75,1375.34 318.93,1392.56 319.1,1387.97 319.28,1380.32 319.45,1403.27 319.63,1377.06 319.8,1391.79 319.98,1395.62 320.16,1403.84 320.33,1422.4 320.51,1389.88 320.68,1410.92 320.86,1416.66 321.03,1426.22 321.21,1451.66 321.39,1464.48 321.56,1458.74 321.74,1461.23 321.91,1438.27 322.09,1424.88 322.26,1413.41 322.44,1428.52 322.62,1440.95 322.79,1448.79 322.97,1418.38 323.14,1439.23 323.32,1456.45 323.49,1444.97 323.67,1443.06 323.85,1451.47 324.02,1452.05 324.2,1464.48 324.37,1464.48 324.55,1448.03 324.73,1458.36 324.9,1430.43 325.08,1419.15 325.25,1451.47 325.43,1426.22 325.6,1440.57 325.78,1450.9 325.96,1454.15 326.13,1446.5 326.31,1440.57 326.48,1439.8 326.66,1457.59 326.83,1452.24 327.01,1441.91 327.19,1437.13 327.36,1431.96 327.54,1446.5 327.71,1437.51 327.89,1423.93 328.06,1414.36 328.24,1407.1 328.42,1391.6 328.59,1440 328.77,1416.66 328.94,1366.35 329.12,1388.54 329.29,1402.31 329.47,1340.72 329.65,1400.4 329.82,1392.56 330,1365.01 330.17,1370.75 330.35,1326.18 330.52,1375.72 330.7,1378.4 330.88,1380.32 331.05,1390.45 331.23,1344.93 331.4,1392.37 331.58,1382.23 331.76,1382.23 331.93,1372.09 332.11,1380.32 332.28,1374.96 332.46,1374.58 332.63,1370.75 332.81,1368.84 332.99,1366.93 333.16,1328.09 333.34,1316.81 333.51,1350.28 333.69,1375.92 333.86,1355.45 334.04,1335.75 334.22,1350.67 334.39,1321.59 334.57,1352.96 334.74,1326.76 334.92,1372.09 335.09,1338.23 335.27,1319.87 335.45,1347.22 335.62,1367.69 335.8,1350.28 335.97,1347.8 336.15,1330.58 336.32,1290.41 336.5,1310.11 336.68,1327.33 336.85,1259.42 337.03,1274.54 337.2,1284.48 337.38,1290.22 337.55,1271.86 337.73,1294.81 337.91,1292.9 338.08,1376.49 338.26,1380.7 338.43,1325.23 338.61,1377.06 338.79,1349.33 338.96,1388.16 339.14,1317 339.31,1399.83 339.49,1334.98 339.66,1333.45 339.84,1331.92 340.02,1315.66 340.19,1316.81 340.37,1356.4 340.54,1403.46 340.72,1399.06 340.89,1401.55 341.07,1401.93 341.25,1396 341.42,1360.8 341.6,1413.79 341.77,1334.22 341.95,1375.92 342.12,1347.99 342.3,1347.03 342.48,1350.28 342.65,1350.28 342.83,1387.58 343,1398.68 343.18,1379.74 343.35,1407.1 343.53,1407.1 343.71,1407.1 343.88,1410.54 344.06,1410.92 344.23,1414.75 344.41,1415.32 344.58,1418.57 344.76,1414.75 344.94,1416.66 345.11,1422.4 345.29,1425.84 345.46,1426.22 345.64,1412.83 345.81,1407.67 345.99,1433.87 346.17,1437.7 346.34,1437.7 346.52,1439.61 346.69,1441.53 346.87,1443.44 347.05,1394.47 347.22,1453 347.4,1413.22 347.57,1458.74 347.75,1458.17 347.92,1456.83 348.1,1456.25 348.28,1454.92 348.45,1453.58 348.63,1427.75 348.8,1412.07 348.98,1407.1 349.15,1382.23 349.33,1401.55 349.51,1407.48 349.68,1400.78 349.86,1422.59 350.03,1386.44 350.21,1382.8 350.38,1380.12 350.56,1359.85 350.74,1362.53 350.91,1362.14 351.09,1338.04 351.26,1375.92 351.44,1382.8 351.61,1315.85 351.79,1316.43 351.97,1363.86 352.14,1336.7 352.32,1321.4 352.49,1315.66 352.67,1291.18 352.85,1250.63 353.02,1323.12 353.2,1341.68 353.37,1341.48 353.55,1279.51 353.72,1323.7 353.9,1283.91 354.08,1237.62 354.25,1234.37 354.43,1179.85 354.6,1161.87 354.78,1181.19 354.95,1250.24 355.13,1265.55 355.31,1191.9 355.48,1311.26 355.66,1366.93 355.83,1330.39 356.01,1305.14 356.18,1254.45 356.36,1222.89 356.54,1264.78 356.71,1266.31 356.89,1211.6 357.06,1268.8 357.24,1395.62 357.41,1376.11 357.59,1375.15 357.77,1340.34 357.94,1172.39 358.12,1235.9 358.29,1334.98 358.47,1352.58 358.64,1270.52 358.82,1292.33 359,1273.77 359.17,1281.42 359.35,1271.48 359.52,1290.79 359.7,1404.99 359.88,1288.12 360.05,1391.79 360.23,1355.45 360.4,1316.62 360.58,1356.98 360.75,1367.88 360.93,1314.13 361.11,1347.22 361.28,1342.06 361.46,1360.04 361.63,1409.01 361.81,1366.54 361.98,1401.55 362.16,1385.86 362.34,1410.16 362.51,1411.49 362.69,1440.19 362.86,1408.43 363.04,1414.17 363.21,1386.25 363.39,1381.85 363.57,1374.96 363.74,1339.38 363.92,1357.94 364.09,1380.7 364.27,1366.35 364.44,1409.96 364.62,1431.01 364.8,1451.86 364.97,1449.37 365.15,1437.7 365.32,1430.62 365.5,1441.14 365.67,1456.06 365.85,1464.48 366.03,1442.29 366.2,1443.06 366.38,1457.02 366.55,1440.95 366.73,1462.57 366.91,1449.37 367.08,1458.36 367.26,1453.77 367.43,1435.6 367.61,1449.37 367.78,1422.97 367.96,1442.29 368.14,1452.43 368.31,1422.78 368.49,1443.06 368.66,1428.14 368.84,1462.57 369.01,1418.19 369.19,1433.87 369.37,1407.1 369.54,1397.53 369.72,1387.97 369.89,1378.4 370.07,1394.66 370.24,1389.88 370.42,1281.8 370.6,1310.88 370.77,1310.11 370.95,1282.76 371.12,1250.24 371.3,1242.21 371.47,1260.76 371.65,1185.21 371.83,1163.59 372,1125.33 372.18,1255.41 372.35,1208.16 372.53,1187.12 372.7,1007.5 372.88,1136.24 373.06,1171.82 373.23,1196.68 373.41,1136.05 373.58,1165.5 373.76,1176.98 373.94,1263.63 374.11,1245.08 374.29,1147.52 374.46,1238.77 374.64,1187.12 374.81,1196.68 374.99,1246.99 375.17,1190.94 375.34,1250.24 375.52,1252.16 375.69,1227.29 375.87,1246.42 376.04,1254.07 376.22,1330.58 376.4,1277.02 376.57,1277.02 376.75,1282.76 376.92,1259.42 377.1,1296.15 377.27,1299.98 377.45,1299.98 377.63,1285.25 377.8,1317.19 377.98,1349.71 378.15,1352.2 378.33,1275.68 378.5,1321.59 378.68,1363.1 378.86,1333.83 379.03,1264.21 379.21,1277.6 379.38,1323.89 379.56,1338.23 379.73,1366.93 379.91,1412.26 380.09,1336.32 380.26,1397.15 380.44,1361.19 380.61,1392.75 380.79,1393.71 380.97,1386.05 381.14,1360.61 381.32,1391.79 381.49,1393.71 381.67,1380.32 381.84,1399.44 382.02,1420.1 382.2,1404.23 382.37,1407.1 382.55,1410.92 382.72,1390.45 382.9,1413.41 383.07,1410.35 383.25,1420.48 383.43,1416.28 383.6,1402.89 383.78,1426.22 383.95,1430.05 384.13,1449.18 384.3,1435.79 384.48,1444.4 384.66,1439.61 384.83,1449.18 385.01,1443.44 385.18,1445.35 385.36,1453 385.53,1447.26 385.71,1453 385.89,1445.35 386.06,1445.35 386.24,1449.18 386.41,1431.96 386.59,1437.7 386.76,1452.05 386.94,1449.18 387.12,1447.26 387.29,1434.45 387.47,1424.88 387.64,1414.17 387.82,1395.04 388,1426.22 388.17,1403.27 388.35,1374.19 388.52,1387.58 388.7,1412.26 388.87,1393.32 389.05,1373.43 389.23,1373.24 389.4,1301.12 389.58,1287.93 389.75,1351.62 389.93,1305.71 390.1,1292.9 390.28,1251.2 390.46,1249.67 390.63,1242.59 390.81,1248.9 390.98,1206.82 391.16,1261.72 391.33,1297.3 391.51,1221.17 391.69,1206.63 391.86,1274.73 392.04,1219.64 392.21,1202.04 392.39,1163.59 392.56,1164.17 392.74,1193.81 392.92,1131.65 393.09,1200.51 393.27,1217.34 393.44,1190.37 393.62,1256.94 393.79,1248.33 393.97,1169.52 394.15,1193.81 394.32,1204.33 394.5,1194.77 394.67,1192.86 394.85,1283.33 395.03,1216.77 395.2,1246.42 395.38,1224.8 395.55,1234.94 395.73,1228.63 395.9,1228.25 396.08,1234.94 396.26,1240.68 396.43,1267.46 396.61,1250.24 396.78,1292.9 396.96,1208.16 397.13,1205.29 397.31,1267.46 397.49,1220.59 397.66,1280.27 397.84,1284.67 398.01,1286.59 398.19,1290.41 398.36,1331.92 398.54,1298.06 398.72,1316.62 398.89,1303.23 399.07,1307.63 399.24,1322.93 399.42,1325.42 399.59,1345.88 399.77,1322.93 399.95,1316.81 400.12,1323.5 400.3,1341.68 400.47,1328.67 400.65,1382.23 400.82,1337.28 401,1346.46 401.18,1336.32 401.35,1338.23 401.53,1353.54 401.7,1342.06 401.88,1343.97 402.06,1319.68 402.23,1345.88 402.41,1347.8 402.58,1376.87 402.76,1349.71 402.93,1351.62 403.11,1351.62 403.29,1355.45 403.46,1357.36 403.64,1357.36 403.81,1359.27 403.99,1358.32 404.16,1363.1 404.34,1364.44 404.52,1366.93 404.69,1368.84 404.87,1408.43 405.04,1418.57 405.22,1374.58 405.39,1380.32 405.57,1377.06 405.75,1378.4 405.92,1380.32 406.1,1391.79 406.27,1410.16 406.45,1357.94 406.62,1385.1 406.8,1386.05 406.98,1387.97 407.15,1443.25 407.33,1409.96 407.5,1335.56 407.68,1366.16 407.85,1423.55 408.03,1388.16 408.21,1440.38 408.38,1428.9 408.56,1405.18 408.73,1431.77 408.91,1439.8 409.09,1415.32 409.26,1438.66 409.44,1427.18 409.61,1416.66 409.79,1430.05 409.96,1422.4 410.14,1418.95 410.32,1434.45 410.49,1403.84 410.67,1424.31 410.84,1451.66 411.02,1413.02 411.19,1461.61 411.37,1429.28 411.55,1443.44 411.72,1448.41 411.9,1454.72 412.07,1436.94 412.25,1456.45 412.42,1456.83 412.6,1456.83 412.78,1450.52 412.95,1443.25 413.13,1456.25 413.3,1453 413.48,1453.58 413.65,1451.28 413.83,1453.39 414.01,1458.74 414.18,1460.65 414.36,1456.83 414.53,1440.76 414.71,1462.38 414.88,1464.48 415.06,1464.48 415.24,1464.48 415.41,1458.74 415.59,1459.89 415.76,1461.61 415.94,1440.57 416.12,1445.54 416.29,1461.42 416.47,1440.38 416.64,1422.97 416.82,1448.41 416.99,1448.79 417.17,1444.2 417.35,1460.46 417.52,1464.48 417.7,1464.48 417.87,1455.68 418.05,1459.32 418.22,1448.03 418.4,1451.28 418.58,1446.69 418.75,1437.89 418.93,1464.48 419.1,1454.92 419.28,1419.15 419.45,1424.31 419.63,1427.18 419.81,1442.48 419.98,1440.95 420.16,1444.4 420.33,1387.78 420.51,1412.83 420.68,1409.01 420.86,1407.1 421.04,1405.18 421.21,1403.27 421.39,1404.8 421.56,1397.53 421.74,1390.45 421.91,1400.4 422.09,1402.12 422.27,1388.35 422.44,1372.28 422.62,1373.05 422.79,1374.58 422.97,1386.44 423.15,1384.14 423.32,1380.32 423.5,1376.49 423.67,1372.66 423.85,1368.84 424.02,1365.4 424.2,1390.84 424.38,1398.49 424.55,1368.84 424.73,1368.84 424.9,1367.31 425.08,1408.05 425.25,1416.66 425.43,1379.74 425.61,1395.62 425.78,1372.09 425.96,1399.25 426.13,1377.83 426.31,1360.61 426.48,1366.93 426.66,1372.66 426.84,1377.83 427.01,1372.09 427.19,1372.66 427.36,1367.69 427.54,1400.59 427.71,1397.91 427.89,1407.48 428.07,1382.04 428.24,1363.1 428.42,1345.31 428.59,1347.8 428.77,1349.71 428.94,1347.8 429.12,1380.12 429.3,1366.16 429.47,1392.75 429.65,1389.88 429.82,1387.01 430,1392.56 430.18,1382.8 430.35,1379.55 430.53,1408.24 430.7,1386.05 430.88,1391.22 431.05,1389.88 431.23,1407.86 431.41,1401.93 431.58,1411.49 431.76,1413.98 431.93,1415.51 432.11,1407.1 432.28,1414.17 432.46,1418.57 432.64,1412.83 432.81,1416.66 432.99,1418.57 433.16,1441.53 433.34,1441.14 433.51,1446.12 433.69,1418.95 433.87,1445.35 434.04,1441.53 434.22,1440.19 434.39,1441.53 434.57,1453.58 434.74,1449.18 434.92,1459.51 435.1,1464.48 435.27,1464.48 435.45,1455.87 435.62,1464.48 435.8,1440.95 435.97,1438.66 436.15,1438.66 436.33,1451.66 436.5,1449.18 436.68,1442.1 436.85,1455.49 437.03,1444.4 437.21,1440.95 437.38,1450.71 437.56,1446.88 437.73,1462.76 437.91,1459.7 438.08,1460.65 438.26,1449.75 438.44,1463.91 438.61,1464.1 438.79,1463.71 438.96,1464.48 439.14,1464.48 439.31,1464.48 439.49,1464.48 439.67,1464.48 439.84,1464.48 440.02,1464.48 440.19,1464.48 440.37,1464.48 440.54,1464.48 440.72,1464.48 440.9,1464.48 441.07,1464.48 441.25,1464.48 441.42,1464.48 441.6,1464.48 441.77,1464.48 441.95,1464.48 442.13,1464.48 442.3,1464.48 442.48,1464.48 442.65,1451.86 442.83,1464.48 443,1459.89 443.18,1452.81 443.36,1462.95 443.53,1462.38 443.71,1442.86 443.88,1460.85 444.06,1463.14 444.24,1464.48 444.41,1462.57 444.59,1461.99 444.76,1463.52 444.94,1434.64 445.11,1454.53 445.29,1457.02 445.47,1449.37 445.64,1445.16 445.82,1464.48 445.99,1444.78 446.17,1460.85 446.34,1432.73 446.52,1453.96 446.7,1443.06 446.87,1429.48 447.05,1448.41 447.22,1435.21 447.4,1411.3 447.57,1432.54 447.75,1437.13 447.93,1422.02 448.1,1441.53 448.28,1453.58 448.45,1418.95 448.63,1453.39 448.8,1435.98 448.98,1429.09 449.16,1460.08 449.33,1448.99 449.51,1427.56 449.68,1436.74 449.86,1426.03 450.03,1427.75 450.21,1402.89 450.39,1414.36 450.56,1404.03 450.74,1445.73 450.91,1357.55 451.09,1396.57 451.26,1374.19 451.44,1404.23 451.62,1400.4 451.79,1393.32 451.97,1340.15 452.14,1414.17 452.32,1332.88 452.5,1323.5 452.67,1352.01 452.85,1379.74 453.02,1381.08 453.2,1390.26 453.37,1420.1 453.55,1373.05 453.73,1356.6 453.9,1391.6 454.08,1407.29 454.25,1394.85 454.43,1353.73 454.6,1280.47 454.78,1413.98 454.96,1423.93 455.13,1387.97 455.31,1368.84 455.48,1378.4 455.66,1394.28 455.83,1415.51 456.01,1409.2 456.19,1410.16 456.36,1397.72 456.54,1421.63 456.71,1415.89 456.89,1398.49 457.06,1362.91 457.24,1394.85 457.42,1410.92 457.59,1404.23 457.77,1414.56 457.94,1403.84 458.12,1443.63 458.3,1415.13 458.47,1402.31 458.65,1424.88 458.82,1457.4 459,1425.84 459.17,1426.99 459.35,1397.53 459.53,1404.42 459.7,1414.56 459.88,1435.98 460.05,1411.88 460.23,1416.47 460.4,1405.95 460.58,1427.75 460.76,1413.6 460.93,1455.87 461.11,1427.37 461.28,1408.43 461.46,1443.82 461.63,1425.08 461.81,1414.94 461.99,1454.53 462.16,1447.26 462.34,1449.37 462.51,1445.93 462.69,1423.35 462.86,1456.25 463.04,1453.58 463.22,1446.88 463.39,1461.23 463.57,1461.04 463.74,1459.7 463.92,1455.3 464.09,1456.06 464.27,1428.52 464.45,1456.06 464.62,1464.48 464.8,1464.48 464.97,1462.76 465.15,1433.68 465.33,1438.66 465.5,1461.61 465.68,1453.77 465.85,1449.37 466.03,1460.46 466.2,1464.48 466.38,1463.71 466.56,1464.48 466.73,1464.48 466.91,1464.48 467.08,1464.48 467.26,1463.33 467.43,1464.48 467.61,1464.48 467.79,1464.48 467.96,1463.52 468.14,1464.48 468.31,1464.48 468.49,1464.48 468.66,1464.48 468.84,1425.46 469.02,1423.16 469.19,1443.82 469.37,1464.48 469.54,1427.37 469.72,1459.12 469.89,1464.48 470.07,1464.48 470.25,1461.8 470.42,1425.27 470.6,1416.28 470.77,1464.48 470.95,1462.95 471.12,1454.92 471.3,1434.83 471.48,1421.63 471.65,1457.21 471.83,1435.02 472,1435.02 472.18,1405.37 472.36,1415.89 472.53,1434.45 472.71,1434.64 472.88,1442.1 473.06,1422.4 473.23,1430.62 473.41,1429.67 473.59,1394.28 473.76,1418.57 473.94,1402.5 474.11,1393.51 474.29,1364.06 474.46,1388.73 474.64,1428.33 474.82,1367.69 474.99,1388.92 475.17,1334.22 475.34,1398.3 475.52,1373.81 475.69,1353.92 475.87,1376.49 476.05,1356.79 476.22,1356.02 476.4,1382.42 476.57,1361.76 476.75,1369.6 476.92,1355.07 477.1,1372.28 477.28,1376.3 477.45,1363.48 477.63,1341.29 477.8,1340.15 477.98,1347.61 478.15,1294.05 478.33,1277.02 478.51,1360.61 478.68,1318.34 478.86,1368.07 479.03,1359.85 479.21,1355.45 479.39,1375.34 479.56,1382.23 479.74,1369.99 479.91,1326.18 480.09,1282.76 480.26,1335.36 480.44,1323.12 480.62,1290.79 480.79,1314.71 480.97,1363.48 481.14,1355.07 481.32,1335.17 481.49,1356.4 481.67,1364.63 481.85,1326.56 482.02,1302.65 482.2,1259.62 482.37,1337.66 482.55,1339.95 482.72,1380.51 482.9,1367.5 483.08,1345.69 483.25,1303.04 483.43,1309.16 483.6,1307.44 483.78,1373.62 483.95,1368.65 484.13,1285.82 484.31,1360.04 484.48,1391.6 484.66,1400.59 484.83,1378.02 485.01,1359.47 485.18,1391.98 485.36,1376.11 485.54,1381.27 485.71,1409.2 485.89,1405.37 486.06,1358.32 486.24,1359.08 486.42,1413.02 486.59,1385.48 486.77,1413.41 486.94,1437.89 487.12,1447.46 487.29,1448.79 487.47,1424.12 487.65,1437.13 487.82,1411.88 488,1442.86 488.17,1435.98 488.35,1441.91 488.52,1459.12 488.7,1439.8 488.88,1462.57 489.05,1451.09 489.23,1453.58 489.4,1442.29 489.58,1450.13 489.75,1453.19 489.93,1445.54 490.11,1455.11 490.28,1429.86 490.46,1457.02 490.63,1461.8 490.81,1447.65 490.98,1449.56 491.16,1447.84 491.34,1456.83 491.51,1442.48 491.69,1417.04 491.86,1406.14 492.04,1398.49 492.21,1450.13 492.39,1417.62 492.57,1426.8 492.74,1346.84 492.92,1381.08 493.09,1400.97 493.27,1350.09 493.44,1351.62 493.62,1271.67 493.8,1282.38 493.97,1273.2 494.15,1316.24 494.32,1295 494.5,1258.66 494.68,1276.83 494.85,1191.14 495.03,1251.39 495.2,1225.95 495.38,1241.25 495.55,1258.28 495.73,1282.57 495.91,1201.66 496.08,1233.22 496.26,1070.05 496.43,1104.87 496.61,1128.59 496.78,1207.01 496.96,1200.13 497.14,1251.58 497.31,1162.25 497.49,1153.07 497.66,1208.16 497.84,1280.27 498.01,1227.86 498.19,1259.81 498.37,1216.19 498.54,1187.31 498.72,1302.27 498.89,1195.15 499.07,1222.32 499.24,1201.27 499.42,1283.72 499.6,1257.51 499.77,1313.75 499.95,1323.7 500.12,1290.79 500.3,1316.43 500.48,1311.84 500.65,1258.66 500.83,1268.41 501,1315.85 501.18,1346.27 501.35,1361.57 501.53,1360.04 501.71,1302.46 501.88,1213.52 502.06,1210.65 502.23,1290.79 502.41,1332.88 502.58,1342.82 502.76,1309.16 502.94,1296.72 503.11,1358.32 503.29,1338.42 503.46,1332.11 503.64,1371.71 503.81,1348.37 503.99,1353.92 504.17,1322.93 504.34,1369.22 504.52,1360.61 504.69,1361.76 504.87,1418.57 505.04,1407.29 505.22,1407.67 505.4,1382.99 505.57,1335.56 505.75,1357.94 505.92,1405.56 506.1,1389.31 506.27,1397.34 506.45,1409.96 506.63,1426.61 506.8,1390.26 506.98,1425.46 507.15,1422.21 507.33,1422.97 507.51,1413.02 507.68,1416.85 507.86,1425.27 508.03,1440.38 508.21,1413.79 508.38,1429.09 508.56,1391.6 508.74,1387.01 508.91,1430.81 509.09,1439.04 509.26,1457.79 509.44,1448.6 509.61,1447.65 509.79,1424.12 509.97,1444.4 510.14,1446.31 510.32,1441.91 510.49,1456.45 510.67,1454.34 510.84,1427.94 511.02,1440.19 511.2,1446.5 511.37,1436.36 511.55,1438.47 511.72,1424.69 511.9,1441.53 512.07,1457.4 512.25,1423.93 512.43,1418.76 512.6,1451.28 512.78,1423.35 512.95,1444.01 513.13,1423.16 513.3,1415.32 513.48,1381.08 513.66,1381.65 513.83,1355.64 514.01,1373.05 514.18,1404.99 514.36,1405.95 514.53,1402.7 514.71,1407.86 514.89,1386.63 515.06,1389.11 515.24,1350.28 515.41,1390.45 515.59,1366.93 515.77,1342.25 515.94,1332.11 516.12,1349.9 516.29,1339.95 516.47,1375.53 516.64,1359.66 516.82,1259.62 517,1357.55 517.17,1348.94 517.35,1339.19 517.52,1344.74 517.7,1378.59 517.87,1300.55 518.05,1378.98 518.23,1320.25 518.4,1301.32 518.58,1364.63 518.75,1195.54 518.93,1156.13 519.1,1119.4 519.28,1198.79 519.46,1254.83 519.63,1160.15 519.81,1250.63 519.98,1256.17 520.16,1259.62 520.33,1268.99 520.51,1227.67 520.69,1198.21 520.86,1211.03 521.04,1272.62 521.21,1211.22 521.39,1245.27 521.57,1158.62 521.74,1122.78 521.92,1177.29 522.09,1254.05 522.27,1240.97 522.44,1288.72 522.62,1287.41 522.8,1294.39 522.97,1330.81 523.15,1260.15 523.32,1308.56 523.5,1247.07 523.67,1252.96 523.85,1294.39 524.03,1269.53 524.2,1284.36 524.38,1368.31 524.55,1330.15 524.73,1311.84 524.9,1379.22 525.08,1330.15 525.26,1276.51 525.43,1309.66 525.61,1344.98 525.78,1333.64 525.96,1299.84 526.13,1234.64 526.31,1323.61 526.49,1341.27 526.66,1327.97 526.84,1326.66 527.01,1385.76 527.19,1339.31 527.36,1316.42 527.54,1328.19 527.72,1353.49 527.89,1308.78 528.07,1315.32 528.24,1317.29 528.42,1331.03 528.6,1321.87 528.77,1344.76 528.95,1362.21 529.12,1372.89 529.3,1377.91 529.47,1382.71 529.65,1317.72 529.83,1346.07 530,1365.48 530.18,1374.86 530.35,1370.93 530.53,1382.27 530.7,1360.68 530.88,1388.81 531.06,1377.25 531.23,1364.39 531.41,1354.58 531.58,1391.43 531.76,1372.24 531.93,1401.68 532.11,1413.45 532.29,1430.9 532.46,1420.87 532.64,1419.34 532.81,1406.91 532.99,1412.14 533.16,1418.47 533.34,1423.7 533.52,1430.03 533.69,1415.63 533.87,1436.79 534.04,1402.99 534.22,1417.81 534.39,1437.66 534.57,1439.62 534.75,1426.54 534.92,1454.89 535.1,1444.64 535.27,1452.92 535.45,1463.61 535.62,1457.72 535.8,1464.48 535.98,1443.33 536.15,1455.1 536.33,1457.72 536.5,1463.39 536.68,1453.79 536.86,1463.61 537.03,1450.31 537.21,1464.48 537.38,1453.58 537.56,1454.45 537.73,1451.61 537.91,1454.89 538.09,1454.67 538.26,1447.69 538.44,1448.78 538.61,1434.61 538.79,1448.34 538.96,1453.14 539.14,1440.28 539.32,1400.81 539.49,1429.59 539.67,1416.07 539.84,1427.63 540.02,1372.02 540.19,1375.95 540.37,1396.01 540.55,1383.36 540.72,1379.44 540.9,1388.38 541.07,1339.09 541.25,1380.96 541.42,1374.2 541.6,1367.44 541.78,1340.84 541.95,1343.89 542.13,1289.81 542.3,1265.61 542.48,1351.31 542.66,1318.6 542.83,1281.96 543.01,1273.46 543.18,1267.57 543.36,1277.6 543.53,1266.04 543.71,1274.55 543.89,1256.88 544.06,1231.59 544.24,1233.77 544.41,1214.58 544.59,1252.52 544.76,1287.85 544.94,1286.76 545.12,1272.58 545.29,1248.82 545.47,1308.78 545.64,1230.93 545.82,1227.66 545.99,1210 546.17,1245.76 546.35,1263.43 546.52,1268.01 546.7,1251 546.87,1256.01 547.05,1328.63 547.22,1294.83 547.4,1244.24 547.58,1249.69 547.75,1340.62 547.93,1273.02 548.1,1294.39 548.28,1284.58 548.45,1290.25 548.63,1317.94 548.81,1347.38 548.98,1288.94 549.16,1326.88 549.33,1323.83 549.51,1369.4 549.69,1347.38 549.86,1324.05 550.04,1281.31 550.21,1304.42 550.39,1328.19 550.56,1319.25 550.74,1372.89 550.92,1354.14 551.09,1375.29 551.27,1359.16 551.44,1340.84 551.62,1319.69 551.79,1375.95 551.97,1347.16 552.15,1375.51 552.32,1393.17 552.5,1359.59 552.67,1416.51 552.85,1377.47 553.02,1382.27 553.2,1374.64 553.38,1338.66 553.55,1361.77 553.73,1319.9 553.9,1386.41 554.08,1375.95 554.25,1338.44 554.43,1345.2 554.61,1344.98 554.78,1402.33 554.96,1390.56 555.13,1338.88 555.31,1402.11 555.48,1371.33 555.66,1389.31 555.84,1388.92 556.01,1408.24 556.19,1398.49 556.36,1400.21 556.54,1413.22 556.72,1392.17 556.89,1423.16 557.07,1431.77 557.24,1417.42 557.42,1440 557.59,1404.03 557.77,1391.03 557.95,1417.42 558.12,1430.81 558.3,1439.8 558.47,1432.92 558.65,1446.69 558.82,1440.19 559,1450.52 559.18,1437.51 559.35,1447.26 559.53,1461.61 559.7,1464.48 559.88,1463.14 560.05,1446.88 560.23,1454.72 560.41,1458.93 560.58,1461.61 560.76,1454.92 560.93,1455.11 561.11,1445.73 561.28,1438.66 561.46,1446.69 561.64,1416.28 561.81,1434.64 561.99,1434.26 562.16,1413.79 562.34,1394.47 562.51,1413.41 562.69,1404.99 562.87,1409.77 563.04,1398.68 563.22,1380.7 563.39,1346.46 563.57,1351.43 563.75,1335.17 563.92,1347.99 564.1,1351.05 564.27,1363.67 564.45,1386.05 564.62,1265.55 564.8,1257.13 564.98,1351.24 565.15,1312.22 565.33,1310.31 565.5,1350.86 565.68,1316.43 565.85,1264.97 566.03,1316.62 566.21,1244.7 566.38,1159.57 566.56,1158.43 566.73,1127.82 566.91,1205.1 567.08,1211.22 567.26,1170.29 567.44,1204.33 567.61,1184.44 567.79,1182.34 567.96,1215.81 568.14,1295.58 568.31,1224.8 568.49,1190.56 568.67,1153.84 568.84,1186.16 569.02,1289.07 569.19,1267.46 569.37,1254.07 569.54,1310.88 569.72,1294.24 569.9,1262.87 570.07,1291.75 570.25,1312.41 570.42,1234.75 570.6,1295.39 570.78,1269.18 570.95,1258.66 571.13,1254.26 571.3,1262.68 571.48,1286.78 571.65,1245.27 571.83,1266.5 572.01,1250.24 572.18,1303.99 572.36,1298.64 572.53,1259.81 572.71,1276.45 572.88,1318.72 573.06,1372.86 573.24,1378.79 573.41,1336.51 573.59,1334.02 573.76,1373.62 573.94,1373.81 574.11,1358.51 574.29,1370.37 574.47,1348.18 574.64,1341.68 574.82,1375.72 574.99,1403.27 575.17,1379.17 575.34,1391.41 575.52,1334.79 575.7,1347.22 575.87,1410.92 576.05,1398.87 576.22,1409.2 576.4,1408.43 576.57,1436.55 576.75,1422.02 576.93,1399.83 577.1,1408.82 577.28,1442.48 577.45,1418.76 577.63,1440.57 577.81,1436.55 577.98,1459.89 578.16,1440.19 578.33,1430.62 578.51,1445.54 578.68,1437.13 578.86,1435.79 579.04,1404.8 579.21,1460.08 579.39,1454.72 579.56,1461.42 579.74,1435.4 579.91,1447.65 580.09,1445.54 580.27,1437.13 580.44,1445.54 580.62,1448.79 580.79,1417.81 580.97,1447.84 581.14,1442.1 581.32,1434.26 581.5,1423.93 581.67,1438.85 581.85,1453.19 582.02,1452.43 582.2,1433.11 582.37,1451.66 582.55,1436.74 582.73,1460.08 582.9,1458.17 583.08,1453 583.25,1449.56 583.43,1464.29 583.6,1453.39 583.78,1452.24 583.96,1464.29 584.13,1464.48 584.31,1454.34 584.48,1462.38 584.66,1456.64 584.84,1463.52 585.01,1462.95 585.19,1463.33 585.36,1464.48 585.54,1452.62 585.71,1459.89 585.89,1455.3 586.07,1450.13 586.24,1444.01 586.42,1452.81 586.59,1440.95 586.77,1439.8 586.94,1450.71 587.12,1418.57 587.3,1411.88 587.47,1427.18 587.65,1427.56 587.82,1419.53 588,1399.25 588.17,1422.59 588.35,1372.47 588.53,1338.23 588.7,1382.23 588.88,1405.76 589.05,1407.86 589.23,1394.85 589.4,1362.72 589.58,1365.97 589.76,1365.59 589.93,1381.27 590.11,1348.75 590.28,1317.38 590.46,1353.54 590.63,1362.72 590.81,1342.06 590.99,1359.66 591.16,1374 591.34,1378.4 591.51,1331.92 591.69,1335.36 591.87,1281.23 592.04,1341.87 592.22,1378.02 592.39,1377.64 592.57,1387.2 592.74,1354.11 592.92,1351.24 593.1,1303.04 593.27,1384.52 593.45,1348.56 593.62,1374.77 593.8,1382.61 593.97,1307.44 594.15,1403.08 594.33,1318.15 594.5,1310.31 594.68,1376.49 594.85,1363.86 595.03,1304.18 595.2,1302.85 595.38,1319.3 595.56,1289.46 595.73,1298.25 595.91,1298.45 596.08,1318.91 596.26,1337.28 596.43,1366.54 596.61,1362.91 596.79,1357.74 596.96,1346.08 597.14,1373.05 597.31,1394.47 597.49,1374.19 597.66,1382.61 597.84,1327.14 598.02,1369.22 598.19,1359.27 598.37,1324.84 598.54,1304.38 598.72,1337.28 598.89,1368.84 599.07,1388.73 599.25,1390.45 599.42,1400.78 599.6,1422.97 599.77,1407.29 599.95,1414.94 600.13,1354.87 600.3,1380.89 600.48,1405.76 600.65,1412.64 600.83,1406.52 601,1432.15 601.18,1423.55 601.36,1448.03 601.53,1463.91 601.71,1440.76 601.88,1444.78 602.06,1439.23 602.23,1456.45 602.41,1451.28 602.59,1426.22 602.76,1434.45 602.94,1419.91 603.11,1423.55 603.29,1450.33 603.46,1451.86 603.64,1451.28 603.82,1424.88 603.99,1440.19 604.17,1450.9 604.34,1449.56 604.52,1454.72 604.69,1451.09 604.87,1450.9 605.05,1458.55 605.22,1459.12 605.4,1447.65 605.57,1460.46 605.75,1444.01 605.93,1451.66 606.1,1462.95 606.28,1448.22 606.45,1451.66 606.63,1456.25 606.8,1459.89 606.98,1452.24 607.16,1446.5 607.33,1425.08 607.51,1452.05 607.68,1460.46 607.86,1464.1 608.03,1451.66 608.21,1454.34 608.39,1463.33 608.56,1454.72 608.74,1461.42 608.91,1455.3 609.09,1461.99 609.26,1442.29 609.44,1448.22 609.62,1431.58 609.79,1443.06 609.97,1446.12 610.14,1449.56 610.32,1438.66 610.49,1422.02 610.67,1444.59 610.85,1425.27 611.02,1385.86 611.2,1372.09 611.37,1352.01 611.55,1401.36 611.72,1361.57 611.9,1365.97 612.08,1384.33 612.25,1402.31 612.43,1332.3 612.6,1319.87 612.78,1369.03 612.96,1331.35 613.13,1312.22 613.31,1318.53 613.48,1318.15 613.66,1270.52 613.83,1344.35 614.01,1329.63 614.19,1339.38 614.36,1314.13 614.54,1321.02 614.71,1324.84 614.89,1338.81 615.06,1295.96 615.24,1302.46 615.42,1292.52 615.59,1295 615.77,1217.34 615.94,1315.47 616.12,1311.45 616.29,1320.83 616.47,1285.06 616.65,1305.33 616.82,1302.65 617,1364.44 617.17,1308.39 617.35,1270.9 617.52,1275.3 617.7,1261.72 617.88,1330.01 618.05,1338.42 618.23,1320.06 618.4,1356.21 618.58,1349.71 618.75,1343.4 618.93,1335.94 619.11,1347.8 619.28,1317.38 619.46,1335.36 619.63,1327.71 619.81,1373.05 619.99,1332.69 620.16,1354.11 620.34,1334.6 620.51,1374.19 620.69,1329.24 620.86,1409.01 621.04,1354.68 621.22,1365.01 621.39,1380.7 621.57,1411.49 621.74,1370.75 621.92,1378.4 622.09,1412.45 622.27,1347.22 622.45,1409.58 622.62,1391.79 622.8,1382.99 622.97,1386.82 623.15,1408.24 623.32,1408.82 623.5,1405.18 623.68,1426.22 623.85,1442.86 624.03,1411.69 624.2,1422.78 624.38,1372.47 624.55,1437.13 624.73,1448.41 624.91,1400.78 625.08,1406.71 625.26,1394.85 625.43,1391.22 625.61,1436.74 625.78,1415.13 625.96,1421.82 626.14,1447.26 626.31,1404.42 626.49,1397.91 626.66,1398.68 626.84,1405.37 627.02,1440.38 627.19,1427.18 627.37,1446.88 627.54,1429.86 627.72,1437.32 627.89,1449.75 628.07,1425.27 628.25,1438.66 628.42,1458.93 628.6,1448.41 628.77,1439.61 628.95,1449.56 629.12,1444.4 629.3,1446.5 629.48,1438.47 629.65,1448.03 629.83,1433.87 630,1435.4 630.18,1441.33 630.35,1448.6 630.53,1456.25 630.71,1448.6 630.88,1439.8 631.06,1455.87 631.23,1463.91 631.41,1464.1 631.58,1459.89 631.76,1455.87 631.94,1464.48 632.11,1444.97 632.29,1453.39 632.46,1463.14 632.64,1462.57 632.81,1463.33 632.99,1457.4 633.17,1457.21 633.34,1464.48 633.52,1453.96 633.69,1464.48 633.87,1440.76 634.05,1464.48 634.22,1459.12 634.4,1461.8 634.57,1462.76 634.75,1460.08 634.92,1449.94 635.1,1433.3 635.28,1444.78 635.45,1462.38 635.63,1448.6 635.8,1431.96 635.98,1438.66 636.15,1414.56 636.33,1436.55 636.51,1433.3 636.68,1411.11 636.86,1409.39 637.03,1443.25 637.21,1390.07 637.38,1379.36 637.56,1377.25 637.74,1404.03 637.91,1417.62 638.09,1393.32 638.26,1382.23 638.44,1388.92 638.61,1384.33 638.79,1367.69 638.97,1353.15 639.14,1406.9 639.32,1360.8 639.49,1391.79 639.67,1360.04 639.84,1359.66 640.02,1300.36 640.2,1356.4 640.37,1389.31 640.55,1372.66 640.72,1370.75 640.9,1324.84 641.08,1352.01 641.25,1359.27 641.43,1313.94 641.6,1259.42 641.78,1358.32 641.95,1377.45 642.13,1404.61 642.31,1341.1 642.48,1358.7 642.66,1354.11 642.83,1343.59 643.01,1266.31 643.18,1373.24 643.36,1357.17 643.54,1430.43 643.71,1390.07 643.89,1340.72 644.06,1318.34 644.24,1257.51 644.41,1348.37 644.59,1363.86 644.77,1382.42 644.94,1387.2 645.12,1369.41 645.29,1360.61 645.47,1301.89 645.64,1339.38 645.82,1346.84 646,1374 646.17,1389.5 646.35,1399.63 646.52,1409.58 646.7,1354.3 646.87,1386.44 647.05,1372.47 647.23,1388.92 647.4,1291.37 647.58,1298.25 647.75,1402.7 647.93,1377.45 648.11,1388.92 648.28,1356.02 648.46,1375.34 648.63,1337.66 648.81,1402.7 648.98,1395.62 649.16,1421.25 649.34,1396 649.51,1420.29 649.69,1390.26 649.86,1352.77 650.04,1357.74 650.21,1360.8 650.39,1413.98 650.57,1404.23 650.74,1423.55 650.92,1448.41 651.09,1422.02 651.27,1440.95 651.44,1437.51 651.62,1442.48 651.8,1414.36 651.97,1391.22 652.15,1455.11 652.32,1453.39 652.5,1457.98 652.67,1447.26 652.85,1449.56 653.03,1432.92 653.2,1447.26 653.38,1460.27 653.55,1457.79 653.73,1456.83 653.9,1456.83 654.08,1459.51 654.26,1456.45 654.43,1460.27 654.61,1463.91 654.78,1464.48 654.96,1455.11 655.14,1455.87 655.31,1456.06 655.49,1456.64 655.66,1458.74 655.84,1463.91 656.01,1446.31 656.19,1455.68 656.37,1462.38 656.54,1452.24 656.72,1460.08 656.89,1458.93 657.07,1463.52 657.24,1462.76 657.42,1464.48 657.6,1464.48 657.77,1461.23 657.95,1464.1 658.12,1462.18 658.3,1458.55 658.47,1463.14 658.65,1457.21 658.83,1459.12 659,1459.51 659.18,1458.55 659.35,1431.39 659.53,1454.53 659.7,1442.67 659.88,1454.15 660.06,1449.75 660.23,1440.19 660.41,1448.79 660.58,1433.11 660.76,1421.82 660.93,1420.48 661.11,1383.57 661.29,1390.26 661.46,1385.48 661.64,1401.36 661.81,1332.88 661.99,1327.52 662.16,1331.35 662.34,1369.79 662.52,1362.14 662.69,1383.18 662.87,1398.49 663.04,1377.83 663.22,1358.51 663.4,1336.32 663.57,1327.14 663.75,1321.97 663.92,1334.98 664.1,1362.14 664.27,1397.15 664.45,1378.21 664.63,1367.5 664.8,1339 664.98,1363.1 665.15,1321.59 665.33,1326.95 665.5,1283.14 665.68,1321.59 665.86,1246.23 666.03,1244.7 666.21,1235.32 666.38,1168.95 666.56,1216.96 666.73,1326.37 666.91,1280.08 667.09,1217.15 667.26,1280.85 667.44,1339.57 667.61,1326.37 667.79,1310.5 667.96,1317.77 668.14,1350.86 668.32,1258.66 668.49,1269.94 668.67,1311.64 668.84,1301.89 669.02,1304.95 669.2,1351.24 669.37,1372.47 669.55,1312.41 669.72,1337.28 669.9,1365.4 670.07,1295.96 670.25,1251.77 670.43,1340.72 670.6,1332.49 670.78,1359.85 670.95,1363.48 671.13,1384.14 671.3,1397.72 671.48,1366.73 671.66,1361.38 671.83,1330.2 672.01,1436.17 672.18,1400.78 672.36,1390.45 672.53,1411.88 672.71,1427.75 672.89,1395.04 673.06,1369.6 673.24,1412.45 673.41,1407.29 673.59,1404.23 673.76,1410.35 673.94,1413.41 674.12,1402.5 674.29,1422.02 674.47,1400.02 674.64,1384.33 674.82,1420.87 674.99,1430.43 675.17,1429.67 675.35,1430.43 675.52,1425.65 675.7,1441.91 675.87,1413.98 676.05,1359.85 676.23,1443.44 676.4,1449.18 676.58,1453.39 676.75,1443.63 676.93,1452.05 677.1,1455.49 677.28,1452.62 677.46,1450.33 677.63,1431.01 677.81,1455.87 677.98,1461.61 678.16,1458.17 678.33,1452.81 678.51,1458.36 678.69,1447.07 678.86,1457.79 679.04,1463.52 679.21,1439.23 679.39,1442.29 679.56,1445.35 679.74,1459.12 679.92,1463.52 680.09,1454.72 680.27,1461.04 680.44,1442.86 680.62,1424.69 680.79,1418.57 680.97,1410.73 681.15,1427.56 681.32,1416.47 681.5,1415.51 681.67,1421.44 681.85,1432.92 682.02,1453.96 682.2,1420.1 682.38,1430.05 682.55,1403.84 682.73,1382.61 682.9,1373.62 683.08,1390.84 683.25,1391.98 683.43,1349.33 683.61,1332.11 683.78,1352.39 683.96,1275.87 684.13,1327.14 684.31,1330.58 684.49,1344.93 684.66,1390.84 684.84,1341.48 685.01,1323.89 685.19,1364.44 685.36,1346.65 685.54,1348.18 685.72,1327.71 685.89,1348.75 686.07,1312.6 686.24,1308.39 686.42,1286.59 686.59,1331.35 686.77,1285.63 686.95,1313.17 687.12,1351.43 687.3,1359.47 687.47,1361.57 687.65,1333.64 687.82,1343.78 688,1335.94 688.18,1378.02 688.35,1304.76 688.53,1323.89 688.7,1301.12 688.88,1310.31 689.05,1317.38 689.23,1289.65 689.41,1277.02 689.58,1304.18 689.76,1292.9 689.93,1347.03 690.11,1368.26 690.29,1351.62 690.46,1332.69 690.64,1341.87 690.81,1368.46 690.99,1363.48 691.16,1353.15 691.34,1326.95 691.52,1330.2 691.69,1338.62 691.87,1398.68 692.04,1361.19 692.22,1309.35 692.39,1257.89 692.57,1339.57 692.75,1370.37 692.92,1397.53 693.1,1391.41 693.27,1394.09 693.45,1409.39 693.62,1422.59 693.8,1416.85 693.98,1403.08 694.15,1398.68 694.33,1396.38 694.5,1415.13 694.68,1436.55 694.85,1382.04 695.03,1407.1 695.21,1404.8 695.38,1417.42 695.56,1435.21 695.73,1431.2 695.91,1439.61 696.08,1428.14 696.26,1445.35 696.44,1428.71 696.61,1430.43 696.79,1441.33 696.96,1444.2 697.14,1443.06 697.32,1443.06 697.49,1430.24 697.67,1422.02 697.84,1446.12 698.02,1451.47 698.19,1456.83 698.37,1447.46 698.55,1448.79 698.72,1443.44 698.9,1440.95 699.07,1422.02 699.25,1445.16 699.42,1458.93 699.6,1458.36 699.78,1454.53 699.95,1459.12 700.13,1464.1 700.3,1454.72 700.48,1458.74 700.65,1463.33 700.83,1463.91 701.01,1457.98 701.18,1449.56 701.36,1456.25 701.53,1442.86 701.71,1426.8 701.88,1451.66 702.06,1446.69 702.24,1448.6 702.41,1456.83 702.59,1453.58 702.76,1447.84 702.94,1435.02 703.11,1428.33 703.29,1425.27 703.47,1420.29 703.64,1441.14 703.82,1412.26 703.99,1377.06 704.17,1399.63 704.35,1406.9 704.52,1383.95 704.7,1362.72 704.87,1341.68 705.05,1346.84 705.22,1344.35 705.4,1322.36 705.58,1317 705.75,1321.21 705.93,1360.04 706.1,1330.58 706.28,1364.44 706.45,1298.06 706.63,1319.1 706.81,1294.24 706.98,1243.74 707.16,1228.44 707.33,1211.03 707.51,1218.68 707.68,1303.99 707.86,1255.41 708.04,1241.25 708.21,1215.24 708.39,1186.93 708.56,1201.08 708.74,1271.86 708.91,1225.57 709.09,1322.17 709.27,1294.62 709.44,1276.26 709.62,1236.47 709.79,1299.02 709.97,1271.28 710.14,1220.79 710.32,1277.98 710.5,1148.29 710.67,1243.17 710.85,1293.09 711.02,1274.92 711.2,1230.73 711.38,1287.16 711.55,1310.88 711.73,1316.43 711.9,1340.91 712.08,1255.79 712.25,1238.19 712.43,1271.28 712.61,1277.79 712.78,1262.1 712.96,1249.09 713.13,1295.96 713.31,1334.22 713.48,1383.95 713.66,1367.88 713.84,1350.86 714.01,1305.14 714.19,1348.37 714.36,1360.42 714.54,1303.99 714.71,1335.36 714.89,1262.68 715.07,1337.28 715.24,1359.27 715.42,1352.77 715.59,1333.83 715.77,1377.25 715.94,1379.36 716.12,1375.72 716.3,1401.74 716.47,1408.05 716.65,1350.09 716.82,1336.51 717,1349.71 717.17,1338.42 717.35,1375.92 717.53,1391.03 717.7,1400.02 717.88,1396.38 718.05,1363.48 718.23,1360.8 718.41,1348.37 718.58,1416.66 718.76,1442.67 718.93,1430.62 719.11,1425.84 719.28,1431.58 719.46,1427.75 719.64,1405.76 719.81,1421.44 719.99,1440.76 720.16,1409.2 720.34,1412.07 720.51,1414.56 720.69,1437.51 720.87,1449.94 721.04,1439.23 721.22,1427.37 721.39,1445.35 721.57,1449.56 721.74,1444.97 721.92,1428.52 722.1,1457.4 722.27,1463.52 722.45,1443.44 722.62,1463.91 722.8,1459.7 722.97,1454.92 723.15,1454.92 723.33,1432.54 723.5,1437.13 723.68,1432.15 723.85,1443.82 724.03,1410.16 724.2,1429.09 724.38,1440.19 724.56,1423.35 724.73,1403.27 724.91,1405.95 725.08,1395.24 725.26,1382.99 725.43,1414.94 725.61,1397.72 725.79,1332.88 725.96,1376.49 726.14,1412.07 726.31,1373.43 726.49,1299.59 726.67,1317.96 726.84,1319.68 727.02,1302.08 727.19,1323.89 727.37,1242.21 727.54,1259.42 727.72,1283.91 727.9,1268.8 728.07,1227.67 728.25,1231.69 728.42,1276.45 728.6,1247.68 728.77,1253.53 728.95,1221.03 729.13,1137.33 729.3,1198.11 729.48,1207.86 729.65,1157.65 729.83,1189.18 730,1198.6 730.18,1256.46 730.36,1275.15 730.53,1288.15 730.71,1324.55 730.88,1310.41 731.06,1156.18 731.23,1181.7 731.41,1191.78 731.59,1233.38 731.76,1207.86 731.94,1231.59 732.11,1242.97 732.29,1308.79 732.47,1240.21 732.64,1270.92 732.82,1168.21 732.99,1208.51 733.17,1225.58 733.34,1291.89 733.52,1266.7 733.7,1260.03 733.87,1263.28 734.05,1228.34 734.22,1250.61 734.4,1231.27 734.57,1273.36 734.75,1299.36 734.93,1310.41 735.1,1286.2 735.28,1280.18 735.45,1291.89 735.63,1328.62 735.8,1316.59 735.98,1326.01 736.16,1381.11 736.33,1364.69 736.51,1375.42 736.68,1376.56 736.86,1367.13 737.03,1367.13 737.21,1373.63 737.39,1313.5 737.56,1288.15 737.74,1300.99 737.91,1364.53 738.09,1365.34 738.26,1329.43 738.44,1380.62 738.62,1379.32 738.79,1390.05 738.97,1398.34 739.14,1427.59 739.32,1428.73 739.5,1417.19 739.67,1426.45 739.85,1405.32 740.02,1400.61 740.2,1375.26 740.37,1418.65 740.55,1425.8 740.73,1428.56 740.9,1408.74 741.08,1421.41 741.25,1458.14 741.43,1448.23 741.6,1419.3 741.78,1444.17 741.96,1429.05 742.13,1450.5 742.31,1426.29 742.48,1433.11 742.66,1451.15 742.83,1461.88 743.01,1460.42 743.19,1464.15 743.36,1463.67 743.54,1446.77 743.71,1461.55 743.89,1463.18 744.06,1464.15 744.24,1456.68 744.42,1450.83 744.59,1462.04 744.77,1453.1 744.94,1449.53 745.12,1452.13 745.29,1426.94 745.47,1430.68 745.65,1456.52 745.82,1446.12 746,1417.51 746.17,1412.96 746.35,1421.09 746.52,1398.34 746.7,1395.08 746.88,1369.41 747.05,1319.51 747.23,1339.5 747.4,1344.87 747.58,1262.96 747.76,1272.06 747.93,1284.57 748.11,1242.48 748.28,1274.98 748.46,1254.67 748.63,1188.85 748.81,1183 748.99,1212.09 749.16,1137.33 749.34,1152.28 749.51,1196.33 749.69,1252.88 749.86,1208.68 750.04,1179.75 750.22,1196.98 750.39,1138.31 750.57,1160.25 750.74,1207.7 750.92,1081.26 751.09,1052.01 751.27,1121.73 751.45,1075.41 751.62,1135.38 751.8,1196.49 751.97,1154.56 752.15,1145.95 752.32,1179.59 752.5,1185.76 752.68,1153.42 752.85,1139.12 753.03,1137.49 753.2,1169.51 753.38,1216.97 753.56,1159.6 753.73,1111.17 753.91,1231.92 754.08,1162.68 754.26,1199.09 754.43,1184.95 754.61,1190.31 754.79,1221.35 754.96,1140.09 755.14,1228.5 755.31,1283.44 755.49,1262.96 755.66,1261.33 755.84,1226.72 756.02,1292.21 756.19,1298.39 756.37,1266.21 756.54,1270.11 756.72,1285.39 756.89,1266.7 757.07,1246.54 757.25,1257.76 757.42,1329.92 757.6,1318.86 757.77,1325.36 757.95,1370.38 758.12,1389.56 758.3,1378.35 758.48,1364.69 758.65,1381.6 758.83,1338.69 759,1350.39 759.18,1373.8 759.35,1361.12 759.53,1403.21 759.71,1411.5 759.88,1399.64 760.06,1401.59 760.23,1382.73 760.41,1390.37 760.59,1389.07 760.76,1393.46 760.94,1396.22 761.11,1429.05 761.29,1429.05 761.46,1381.11 761.64,1400.29 761.82,1420.76 761.99,1426.78 762.17,1432.3 762.34,1424.83 762.52,1436.69 762.69,1416.86 762.87,1394.6 763.05,1406.14 763.22,1432.63 763.4,1410.52 763.57,1401.42 763.75,1407.11 763.92,1426.45 764.1,1440.26 764.28,1439.61 764.45,1435.71 764.63,1437.66 764.8,1450.5 764.98,1449.04 765.15,1449.69 765.33,1459.44 765.51,1449.37 765.68,1456.84 765.86,1454.57 766.03,1452.45 766.21,1439.94 766.38,1436.04 766.56,1441.4 766.74,1445.47 766.91,1453.43 767.09,1425.31 767.26,1438.64 767.44,1445.14 767.62,1450.02 767.79,1437.18 767.97,1431.81 768.14,1438.8 768.32,1436.85 768.49,1418.65 768.67,1424.83 768.85,1423.36 769.02,1385.33 769.2,1390.86 769.37,1386.96 769.55,1372.33 769.72,1381.27 769.9,1382.9 770.08,1371.52 770.25,1371.52 770.43,1350.07 770.6,1284.25 770.78,1312.36 770.95,1282.79 771.13,1351.53 771.31,1323.9 771.48,1355.11 771.66,1315.78 771.83,1290.26 772.01,1339.67 772.18,1321.14 772.36,1311.23 772.54,1259.06 772.71,1266.53 772.89,1282.62 773.06,1314.64 773.24,1332.52 773.41,1257.76 773.59,1285.22 773.77,1308.3 773.94,1286.85 774.12,1274.01 774.29,1289.45 774.47,1324.71 774.65,1286.04 774.82,1294.81 775,1268.65 775.17,1243.78 775.35,1290.91 775.52,1269.46 775.7,1292.21 775.88,1307.16 776.05,1305.21 776.23,1316.1 776.4,1308.95 776.58,1312.53 776.75,1305.38 776.93,1283.27 777.11,1256.78 777.28,1297.25 777.46,1286.52 777.63,1257.27 777.81,1290.91 777.98,1281.65 778.16,1313.34 778.34,1302.77 778.51,1323.74 778.69,1309.76 778.86,1328.78 779.04,1316.1 779.21,1336.09 779.39,1365.83 779.57,1347.79 779.74,1371.03 779.92,1383.55 780.09,1332.84 780.27,1364.69 780.44,1382.9 780.62,1380.46 780.8,1361.77 780.97,1330.89 781.15,1364.53 781.32,1320.81 781.5,1334.3 781.68,1361.77 781.85,1333.65 782.03,1321.46 782.2,1340.15 782.38,1339.67 782.55,1360.47 782.73,1364.86 782.91,1396.87 783.08,1390.86 783.26,1393.95 783.43,1394.76 783.61,1389.72 783.78,1370.71 783.96,1395.57 784.14,1400.29 784.31,1426.94 784.49,1422.88 784.66,1368.11 784.84,1414.59 785.01,1425.64 785.19,1426.61 785.37,1419.63 785.54,1422.23 785.72,1429.86 785.89,1398.99 786.07,1400.29 786.24,1405.97 786.42,1373.8 786.6,1409.87 786.77,1399.15 786.95,1387.93 787.12,1423.85 787.3,1431.16 787.47,1433.76 787.65,1445.79 787.83,1445.79 788,1456.19 788.18,1449.85 788.35,1445.95 788.53,1418.65 788.7,1399.96 788.88,1441.89 789.06,1449.69 789.23,1432.95 789.41,1451.8 789.58,1451.32 789.76,1457.49 789.94,1428.89 790.11,1433.93 790.29,1444.33 790.46,1444.65 790.64,1461.39 790.81,1437.83 790.99,1442.54 791.17,1431 791.34,1456.03 791.52,1439.61 791.69,1437.83 791.87,1426.94 792.04,1450.34 792.22,1443.52 792.4,1434.25 792.57,1401.91 792.75,1429.7 792.92,1415.56 793.1,1392.97 793.27,1393.3 793.45,1417.19 793.63,1394.27 793.8,1380.13 793.98,1312.36 794.15,1340.15 794.33,1302.45 794.5,1330.08 794.68,1309.93 794.86,1350.07 795.03,1370.06 795.21,1239.88 795.38,1261.17 795.56,1305.38 795.74,1265.07 795.91,1193.73 796.09,1241.02 796.26,1240.21 796.44,1299.52 796.61,1246.06 796.79,1221.52 796.97,1205.43 797.14,1233.38 797.32,1158.3 797.49,1161.87 797.67,1166.59 797.84,1177.96 798.02,1205.1 798.2,1212.58 798.37,1259.38 798.55,1197.79 798.72,1172.11 798.9,1208.84 799.07,1242.97 799.25,1244.43 799.43,1212.58 799.6,1196.81 799.78,1224.12 799.95,1181.05 800.13,1279.21 800.3,1233.83 800.48,1242.33 800.66,1206.94 800.83,1253.62 801.01,1313.49 801.18,1224.6 801.36,1198.6 801.53,1182.99 801.71,1193.36 801.89,1236.73 802.06,1217.82 802.24,1283.2 802.41,1199.92 802.59,1216.99 802.77,1269.12 802.94,1333.51 803.12,1289.45 803.29,1297.11 803.47,1295.59 803.64,1278.95 803.82,1317.34 804,1312.83 804.17,1269.16 804.35,1334.83 804.52,1386.05 804.7,1362.21 804.87,1340.37 805.05,1311.92 805.23,1324.38 805.4,1338.06 805.58,1354.06 805.75,1387.12 805.93,1378.66 806.1,1413.27 806.28,1413.11 806.46,1376.82 806.63,1333.14 806.81,1336.06 806.98,1357.29 807.16,1346.98 807.33,1393.58 807.51,1406.96 807.69,1425.17 807.86,1440.21 808.04,1445.89 808.21,1429.07 808.39,1435.36 808.56,1438.73 808.74,1439.6 808.92,1437.5 809.09,1439.01 809.27,1421.14 809.44,1426.24 809.62,1415.86 809.8,1446.86 809.97,1458.27 810.15,1434.81 810.32,1438.57 810.5,1436.75 810.67,1460.46 810.85,1427.2 811.03,1440.22 811.2,1434.75 811.38,1442.47 811.55,1462.71 811.73,1435.4 811.9,1452.59 812.08,1458.37 812.26,1407.6 812.43,1440.06 812.61,1453.55 812.78,1447.77 812.96,1460.62 813.13,1440.86 813.31,1400.85 813.49,1411.46 813.66,1436.52 813.84,1411.46 814.01,1402.3 814.19,1410.01 814.36,1367.11 814.54,1400.37 814.72,1420.94 814.89,1369.68 815.07,1400.21 815.24,1342.04 815.42,1323.08 815.59,1367.91 815.77,1300.91 815.95,1284.02 816.12,1289.86 816.3,1279.09 816.47,1274 816.65,1276.63 816.83,1199.17 817,1220.73 817.18,1209.94 817.35,1257.87 817.53,1255.13 817.7,1238.23 817.88,1137.97 818.06,1256.7 818.23,1192.45 818.41,1184.62 818.58,1212.02 818.76,1190.48 818.93,1202.36 819.11,1183.67 819.29,1257.79 819.46,1239.85 819.64,1237.44 819.81,1248.27 819.99,1290.29 820.16,1233.09 820.34,1175.06 820.52,1282.3 820.69,1251.29 820.87,1270.62 821.04,1271.81 821.22,1259.73 821.39,1212.26 821.57,1249.37 821.75,1250.83 821.92,1278.14 822.1,1202.07 822.27,1194.12 822.45,1188.29 822.62,1266.6 822.8,1235.09 822.98,1290.87 823.15,1230.97 823.33,1220.02 823.5,1199.9 823.68,1289.17 823.86,1300.45 824.03,1343.14 824.21,1357.24 824.38,1323.46 824.56,1358.31 824.73,1359.25 824.91,1318.36 825.09,1313.2 825.26,1328.31 825.44,1366.68 825.61,1314.35 825.79,1349.28 825.96,1361.78 826.14,1363.23 826.32,1382.19 826.49,1368.77 826.67,1394.7 826.84,1427.43 827.02,1371.15 827.19,1405.55 827.37,1383.5 827.55,1368.72 827.72,1405.65 827.9,1411.92 828.07,1437.78 828.25,1434.95 828.42,1418.01 828.6,1406.2 828.78,1427.11 828.95,1421.78 829.13,1391.34 829.3,1434.55 829.48,1420.9 829.65,1424.21 829.83,1414.74 830.01,1412.77 830.18,1441.21 830.36,1440.39 830.53,1438.58 830.71,1440.42 830.88,1440.76 831.06,1444.92 831.24,1429.51 831.41,1449.57 831.59,1447.92 831.76,1445.45 831.94,1457.2 832.12,1449.27 832.29,1456.55 832.47,1455.4 832.64,1445 832.82,1450.95 832.99,1440.73 833.17,1461.84 833.35,1463 833.52,1435 833.7,1442.59 833.87,1455.1 834.05,1451.98 834.22,1450.18 834.4,1439.01 834.58,1434.1 834.75,1443.63 834.93,1447.42 835.1,1424.47 835.28,1380.39 835.45,1427.13 835.63,1400.62 835.81,1397.04 835.98,1412.29 836.16,1398.58 836.33,1374.91 836.51,1377.24 836.68,1372.55 836.86,1349.09 837.04,1355.84 837.21,1314.15 837.39,1313.08 837.56,1373.44 837.74,1342.31 837.92,1328.4 838.09,1360.81 838.27,1352.92 838.44,1347.99 838.62,1355.95 838.79,1282.07 838.97,1226.95 839.15,1267.69 839.32,1301.2 839.5,1339.26 839.67,1259.07 839.85,1228.85 840.02,1314.08 840.2,1303.51 840.38,1261.78 840.55,1214.6 840.73,1242.95 840.9,1254.58 841.08,1253.76 841.25,1184.14 841.43,1247.86 841.61,1281.09 841.78,1297.14 841.96,1283.42 842.13,1286.26 842.31,1300.15 842.48,1324.98 842.66,1266.7 842.84,1275.54 843.01,1293.87 843.19,1226.23 843.36,1318.08 843.54,1272.79 843.71,1191.21 843.89,1235.27 844.07,1268.59 844.24,1219.59 844.42,1254.67 844.59,1268.44 844.77,1286.2 844.95,1247.44 845.12,1248.89 845.3,1307.07 845.47,1287.12 845.65,1257.43 845.82,1269.74 846,1291.44 846.18,1295.17 846.35,1321.39 846.53,1323.5 846.7,1383.2 846.88,1356.64 847.05,1358.7 847.23,1368.33 847.41,1328.33 847.58,1318.12 847.76,1336.89 847.93,1379.1 848.11,1349.78 848.28,1346.76 848.46,1383.24 848.64,1399.38 848.81,1384.64 848.99,1378.98 849.16,1396.13 849.34,1392.38 849.51,1389.51 849.69,1375.9 849.87,1393.67 850.04,1416.57 850.22,1381.56 850.39,1389.42 850.57,1433.63 850.74,1410.6 850.92,1414.25 851.1,1422.36 851.27,1422.91 851.45,1391.17 851.62,1397.06 851.8,1395.73 851.97,1402.12 852.15,1426.99 852.33,1449.6 852.5,1433.71 852.68,1394.26 852.85,1438.36 853.03,1456.12 853.21,1446.41 853.38,1413.03 853.56,1426.52 853.73,1440.83 853.91,1443.74 854.08,1442.57 854.26,1440.03 854.44,1446.67 854.61,1428.2 854.79,1441.44 854.96,1436.04 855.14,1446.38 855.31,1456.87 855.49,1458.74 855.67,1444.73 855.84,1444.07 856.02,1448.13 856.19,1454.37 856.37,1460.44 856.54,1462.97 856.72,1461.62 856.9,1447.51 857.07,1458.94 857.25,1460.96 857.42,1448.89 857.6,1459.62 857.77,1459.12 857.95,1458.79 858.13,1463.14 858.3,1463.64 858.48,1462.64 858.65,1459.64 858.83,1457.65 859.01,1463.15 859.18,1462.32 859.36,1462.15 859.53,1463.32 859.71,1463.15 859.88,1459.66 860.06,1459.66 860.24,1459.16 860.41,1464.48 860.59,1457.34 860.76,1456.51 860.94,1457.67 861.11,1446.56 861.29,1442.58 861.47,1433.29 861.64,1438.94 861.82,1451.22 861.99,1450.06 862.17,1441.94 862.34,1437.8 862.52,1432.01 862.7,1422.75 862.87,1425.57 863.05,1428.89 863.22,1440.65 863.4,1433.05 863.57,1415.85 863.75,1371.55 863.93,1374.54 864.1,1395.72 864.28,1403.34 864.45,1391.96 864.63,1380.91 864.8,1335.69 864.98,1319.21 865.16,1304.89 865.33,1341.66 865.51,1364.52 865.68,1407.01 865.86,1350.09 866.04,1366.28 866.21,1341.73 866.39,1349.74 866.56,1346.18 866.74,1352.41 866.91,1355.25 867.09,1369.66 867.27,1354.54 867.44,1391.9 867.62,1352.58 867.79,1396.7 867.97,1361.48 868.14,1335.69 868.32,1324.48 868.5,1371.09 868.67,1363.08 868.85,1347.07 869.02,1398.66 869.2,1312.2 869.37,1326.43 869.55,1308.3 869.73,1330.2 869.9,1296.8 870.08,1316.77 870.25,1335.36 870.43,1335.36 870.6,1346.38 870.78,1349.48 870.96,1341.79" fill="none" stroke="#2272AE" stroke-width="2.67" stroke-linejoin="round" stroke-linecap="round"/>
<rect x="544.5" y="1022.4" width="158.7" height="87" fill="none" stroke="#FC6A28" stroke-width="3"/>
</g>
<path d="M305.1 1349.71H312.6" stroke="#333333" stroke-width="2.67"/><text x="299" y="1358.41" text-anchor="end" font-size="24" fill="#404040">100</text>
<path d="M305.1 1234.94H312.6" stroke="#333333" stroke-width="2.67"/><text x="299" y="1243.64" text-anchor="end" font-size="24" fill="#404040">200</text>
<path d="M305.1 1120.17H312.6" stroke="#333333" stroke-width="2.67"/><text x="299" y="1128.87" text-anchor="end" font-size="24" fill="#404040">300</text>
<path d="M305.1 1005.4H312.6" stroke="#333333" stroke-width="2.67"/><text x="299" y="1014.1" text-anchor="end" font-size="24" fill="#404040">400</text>
<text transform="translate(245,1235.6) rotate(-90)" text-anchor="middle" font-size="30" letter-spacing="-0.3" fill="#000">Sunspots</text>
<clipPath id="cc"><rect x="284.8" y="1450.9" width="615" height="50.7"/></clipPath>
<rect x="285" y="1452.3" width="613.3" height="47.7" fill="#E5E5E5"/>
<path d="M841.48 1452.3V1500M725.44 1452.3V1500M609.4 1452.3V1500M493.36 1452.3V1500M377.32 1452.3V1500M285 1476.31H898.3" stroke="#fff" stroke-width="1.33" fill="none"/>
<path d="M783.46 1452.3V1500M667.42 1452.3V1500M551.38 1452.3V1500M435.34 1452.3V1500M319.3 1452.3V1500" stroke="#fff" stroke-width="2.67" fill="none"/>
<g clip-path="url(#cc)">
<polyline points="898.15,1472.73 897.95,1470.25 897.76,1464.88 897.57,1464.37 897.37,1466.92 897.18,1465.78 896.99,1460.21 896.79,1460.59 896.6,1462.92 896.41,1463.83 896.21,1461.72 896.02,1465.01 895.83,1463.64 895.63,1456 895.44,1455.93 895.25,1457.05 895.05,1460.31 894.86,1458.42 894.67,1461.58 894.47,1466 894.28,1463.53 894.08,1463.62 893.89,1459.39 893.7,1467.55 893.5,1457.22 893.31,1456.75 893.12,1460.86 892.92,1458.96 892.73,1459.47 892.54,1460.31 892.34,1457.79 892.15,1460.67 891.96,1459.05 891.76,1458.63 891.57,1457.72 891.38,1455.68 891.18,1459.26 890.99,1456.94 890.8,1456.31 890.6,1455.26 890.41,1452.46 890.22,1451.05 890.02,1451.68 889.83,1451.41 889.64,1453.93 889.44,1455.41 889.25,1456.67 889.06,1455.01 888.86,1453.64 888.67,1452.78 888.48,1456.12 888.28,1453.83 888.09,1451.93 887.9,1453.2 887.7,1453.41 887.51,1452.48 887.32,1452.42 887.12,1451.05 886.93,1451.05 886.74,1452.86 886.54,1451.72 886.35,1454.8 886.16,1456.04 885.96,1452.48 885.77,1455.26 885.58,1453.68 885.38,1452.54 885.19,1452.19 885,1453.03 884.8,1453.68 884.61,1453.77 884.41,1451.81 884.22,1452.4 884.03,1453.53 883.83,1454.06 883.64,1454.63 883.45,1453.03 883.25,1454.02 883.06,1455.51 882.87,1456.57 882.67,1457.37 882.48,1459.07 882.29,1453.74 882.09,1456.31 881.9,1461.85 881.71,1459.41 881.51,1457.89 881.32,1464.67 881.13,1458.1 880.93,1458.96 880.74,1462 880.55,1461.36 880.35,1466.27 880.16,1460.82 879.97,1460.52 879.77,1460.31 879.58,1459.2 879.39,1464.21 879.19,1458.99 879,1460.1 878.81,1460.1 878.61,1461.22 878.42,1460.31 878.23,1460.9 878.03,1460.94 877.84,1461.36 877.65,1461.58 877.45,1461.79 877.26,1466.06 877.07,1467.3 876.87,1463.62 876.68,1460.8 876.49,1463.05 876.29,1465.22 876.1,1463.57 875.91,1466.77 875.71,1463.32 875.52,1466.21 875.32,1461.22 875.13,1464.94 874.94,1466.96 874.74,1463.95 874.55,1461.7 874.36,1463.62 874.16,1463.89 873.97,1465.78 873.78,1470.21 873.58,1468.04 873.39,1466.14 873.2,1473.62 873,1471.95 872.81,1470.86 872.62,1470.23 872.42,1472.25 872.23,1469.72 872.04,1469.93 871.84,1460.73 871.65,1460.27 871.46,1466.37 871.26,1460.67 871.07,1463.72 870.88,1459.45 870.68,1467.28 870.49,1458.16 870.3,1465.3 870.1,1465.47 869.91,1465.64 869.72,1467.43 869.52,1467.3 869.33,1462.94 869.14,1457.76 868.94,1458.25 868.75,1457.98 868.56,1457.93 868.36,1458.59 868.17,1462.46 867.98,1456.63 867.78,1465.39 867.59,1460.8 867.4,1463.87 867.2,1463.97 867.01,1463.62 866.82,1463.62 866.62,1459.51 866.43,1458.29 866.24,1460.38 866.04,1457.37 865.85,1457.37 865.66,1457.37 865.46,1456.99 865.27,1456.94 865.07,1456.52 864.88,1456.46 864.69,1456.1 864.49,1456.52 864.3,1456.31 864.11,1455.68 863.91,1455.3 863.72,1455.26 863.53,1456.73 863.33,1457.3 863.14,1454.42 862.95,1454 862.75,1454 862.56,1453.79 862.37,1453.58 862.17,1453.37 861.98,1458.75 861.79,1452.31 861.59,1456.69 861.4,1451.68 861.21,1451.74 861.01,1451.89 860.82,1451.96 860.63,1452.1 860.43,1452.25 860.24,1455.09 860.05,1456.82 859.85,1457.37 859.66,1460.1 859.47,1457.98 859.27,1457.32 859.08,1458.06 858.89,1455.66 858.69,1459.64 858.5,1460.04 858.31,1460.33 858.11,1462.56 857.92,1462.27 857.73,1462.31 857.53,1464.96 857.34,1460.8 857.15,1460.04 856.95,1467.41 856.76,1467.34 856.57,1462.12 856.37,1465.11 856.18,1466.8 855.99,1467.43 855.79,1470.12 855.6,1474.58 855.4,1466.61 855.21,1464.56 855.02,1464.59 854.82,1471.41 854.63,1466.54 854.44,1470.92 854.24,1476.02 854.05,1476.37 853.86,1482.37 853.66,1484.35 853.47,1482.23 853.28,1474.63 853.08,1472.94 852.89,1481.05 852.7,1467.91 852.5,1461.79 852.31,1465.81 852.12,1468.58 851.92,1474.16 851.73,1477.64 851.54,1473.03 851.34,1472.86 851.15,1478.88 850.96,1472.58 850.76,1458.63 850.57,1460.78 850.38,1460.88 850.18,1464.71 849.99,1483.19 849.8,1476.2 849.6,1465.3 849.41,1463.36 849.22,1472.39 849.02,1469.99 848.83,1472.04 848.64,1471.19 848.44,1472.29 848.25,1470.16 848.06,1457.6 847.86,1470.46 847.67,1459.05 847.48,1463.05 847.28,1467.32 847.09,1462.88 846.9,1461.68 846.7,1467.6 846.51,1463.95 846.31,1464.52 846.12,1462.54 845.93,1457.15 845.73,1461.83 845.54,1457.98 845.35,1459.7 845.15,1457.03 844.96,1456.88 844.77,1453.72 844.57,1457.22 844.38,1456.59 844.19,1459.66 843.99,1460.14 843.8,1460.9 843.61,1464.82 843.41,1462.77 843.22,1460.27 843.03,1461.85 842.83,1457.05 842.64,1454.73 842.45,1452.44 842.25,1452.71 842.06,1454 841.87,1454.78 841.67,1453.62 841.48,1451.98 841.29,1451.05 841.09,1453.49 840.9,1453.41 840.71,1451.87 840.51,1453.64 840.32,1451.26 840.13,1452.71 839.93,1451.72 839.74,1452.23 839.55,1454.23 839.35,1452.71 839.16,1455.62 838.97,1453.49 838.77,1452.38 838.58,1455.64 838.39,1453.41 838.19,1455.05 838,1451.26 837.81,1456.14 837.61,1454.42 837.42,1457.37 837.23,1458.42 837.03,1459.47 836.84,1460.52 836.65,1458.73 836.45,1459.26 836.26,1471.15 836.06,1467.95 835.87,1468.04 835.68,1471.05 835.48,1474.63 835.29,1475.51 835.1,1473.47 834.9,1481.78 834.71,1484.16 834.52,1488.37 834.32,1474.06 834.13,1479.26 833.94,1481.57 833.74,1501.34 833.55,1487.17 833.36,1483.26 833.16,1480.52 832.97,1487.19 832.78,1483.95 832.58,1482.69 832.39,1473.15 832.2,1475.19 832,1485.93 831.81,1475.89 831.62,1481.57 831.42,1480.52 831.23,1474.98 831.04,1481.15 830.84,1474.63 830.65,1474.42 830.46,1477.15 830.26,1475.05 830.07,1474.2 829.88,1465.78 829.68,1471.68 829.49,1471.68 829.3,1471.05 829.1,1473.62 828.91,1469.57 828.72,1469.15 828.52,1469.15 828.33,1470.77 828.14,1467.26 827.94,1463.68 827.75,1463.41 827.56,1471.83 827.36,1466.77 827.17,1462.21 826.98,1465.43 826.78,1473.09 826.59,1471.62 826.39,1466.52 826.2,1464.94 826.01,1461.79 825.81,1456.8 825.62,1465.15 825.43,1458.46 825.23,1462.42 825.04,1458.94 824.85,1458.84 824.65,1459.68 824.46,1462.48 824.27,1459.05 824.07,1458.84 823.88,1460.31 823.69,1458.21 823.49,1455.93 823.3,1457.68 823.11,1457.37 822.91,1456.94 822.72,1459.2 822.53,1456.67 822.33,1457.01 822.14,1455.89 821.95,1456.35 821.75,1457.83 821.56,1455.26 821.37,1454.84 821.17,1452.73 820.98,1454.21 820.79,1453.26 820.59,1453.79 820.4,1452.73 820.21,1453.37 820.01,1453.15 819.82,1452.31 819.63,1452.94 819.43,1452.31 819.24,1453.15 819.05,1453.15 818.85,1452.73 818.66,1454.63 818.47,1454 818.27,1452.42 818.08,1452.73 817.89,1452.94 817.69,1454.35 817.5,1455.41 817.3,1456.59 817.11,1458.69 816.92,1455.26 816.72,1457.79 816.53,1460.99 816.34,1459.51 816.14,1456.8 815.95,1458.88 815.76,1461.07 815.56,1461.09 815.37,1469.03 815.18,1470.48 814.98,1463.47 814.79,1468.52 814.6,1469.93 814.4,1474.52 814.21,1474.69 814.02,1475.47 813.82,1474.77 813.63,1479.4 813.44,1473.36 813.24,1469.45 813.05,1477.83 812.86,1479.43 812.66,1471.93 812.47,1477.99 812.28,1479.93 812.08,1484.16 811.89,1484.1 811.7,1480.84 811.5,1487.68 811.31,1480.1 811.12,1478.25 810.92,1481.21 810.73,1473.89 810.54,1474.84 810.34,1483.51 810.15,1480.84 809.96,1479.68 809.76,1480.73 809.57,1480.94 809.38,1470.98 809.18,1478.31 808.99,1475.05 808.8,1477.43 808.6,1476.31 808.41,1477 808.22,1477.05 808.02,1476.31 807.83,1475.68 807.64,1472.73 807.44,1474.63 807.25,1469.93 807.05,1479.26 806.86,1479.57 806.67,1472.73 806.47,1477.89 806.28,1471.32 806.09,1470.84 805.89,1470.63 805.7,1470.21 805.51,1465.64 805.31,1469.36 805.12,1467.32 804.93,1468.8 804.73,1468.31 804.54,1466.63 804.35,1466.35 804.15,1464.1 803.96,1466.63 803.77,1467.3 803.57,1466.56 803.38,1464.56 803.19,1466 802.99,1460.1 802.8,1465.05 802.61,1464.04 802.41,1465.15 802.22,1464.94 802.03,1463.26 801.83,1464.52 801.64,1464.31 801.45,1466.98 801.25,1464.1 801.06,1463.89 800.87,1460.69 800.67,1463.68 800.48,1463.47 800.29,1463.47 800.09,1463.05 799.9,1462.84 799.71,1462.84 799.51,1462.63 799.32,1462.73 799.13,1462.21 798.93,1462.06 798.74,1461.79 798.55,1461.58 798.35,1457.22 798.16,1456.1 797.97,1460.94 797.77,1460.31 797.58,1460.67 797.38,1460.52 797.19,1460.31 797,1459.05 796.8,1457.03 796.61,1462.77 796.42,1459.79 796.22,1459.68 796.03,1459.47 795.84,1453.39 795.64,1457.05 795.45,1465.24 795.26,1461.87 795.06,1455.55 794.87,1459.45 794.68,1453.7 794.48,1454.97 794.29,1457.58 794.1,1454.65 793.9,1453.77 793.71,1456.46 793.52,1453.89 793.32,1455.15 793.13,1456.31 792.94,1454.84 792.74,1455.68 792.55,1456.06 792.36,1454.35 792.16,1457.72 791.97,1455.47 791.78,1452.46 791.58,1456.71 791.39,1451.37 791.2,1454.92 791,1453.37 790.81,1452.82 790.62,1452.12 790.42,1454.08 790.23,1451.93 790.04,1451.89 789.84,1451.89 789.65,1452.59 789.46,1453.39 789.26,1451.96 789.07,1452.31 788.88,1452.25 788.68,1452.5 788.49,1452.27 788.29,1451.68 788.1,1451.47 787.91,1451.89 787.71,1453.66 787.52,1451.28 787.33,1451.05 787.13,1451.05 786.94,1451.05 786.75,1451.68 786.55,1451.56 786.36,1451.37 786.17,1453.68 785.97,1453.13 785.78,1451.39 785.59,1453.7 785.39,1455.62 785.2,1452.82 785.01,1452.78 784.81,1453.28 784.62,1451.49 784.43,1451.05 784.23,1451.05 784.04,1452.02 783.85,1451.62 783.65,1452.86 783.46,1452.5 783.27,1453.01 783.07,1453.98 782.88,1451.05 782.69,1452.1 782.49,1456.04 782.3,1455.47 782.11,1455.15 781.91,1453.47 781.72,1453.64 781.53,1453.26 781.33,1459.49 781.14,1456.73 780.95,1457.15 780.75,1457.37 780.56,1457.58 780.37,1457.79 780.17,1457.62 779.98,1458.42 779.79,1459.2 779.59,1458.1 779.4,1457.91 779.21,1459.43 779.01,1461.2 778.82,1461.11 778.63,1460.94 778.43,1459.64 778.24,1459.89 778.04,1460.31 777.85,1460.73 777.66,1461.15 777.46,1461.58 777.27,1461.95 777.08,1459.15 776.88,1458.31 776.69,1461.58 776.5,1461.58 776.3,1461.74 776.11,1457.26 775.92,1456.31 775.72,1460.38 775.53,1458.63 775.34,1461.22 775.14,1458.23 774.95,1460.59 774.76,1462.48 774.56,1461.79 774.37,1461.15 774.18,1460.59 773.98,1461.22 773.79,1461.15 773.6,1461.7 773.4,1458.08 773.21,1458.38 773.02,1457.32 772.82,1460.12 772.63,1462.21 772.44,1464.16 772.24,1463.89 772.05,1463.68 771.86,1463.89 771.66,1460.33 771.47,1461.87 771.28,1458.94 771.08,1459.26 770.89,1459.58 770.7,1458.96 770.5,1460.04 770.31,1460.4 770.12,1457.24 769.92,1459.68 769.73,1459.11 769.54,1459.26 769.34,1457.28 769.15,1457.93 768.96,1456.88 768.76,1456.61 768.57,1456.44 768.37,1457.37 768.18,1456.59 767.99,1456.1 767.79,1456.73 767.6,1456.31 767.41,1456.1 767.21,1453.58 767.02,1453.62 766.83,1453.07 766.63,1456.06 766.44,1453.15 766.25,1453.58 766.05,1453.72 765.86,1453.58 765.67,1452.25 765.47,1452.73 765.28,1451.6 765.09,1451.05 764.89,1451.05 764.7,1452 764.51,1451.05 764.31,1453.64 764.12,1453.89 763.93,1453.89 763.73,1452.46 763.54,1452.73 763.35,1453.51 763.15,1452.04 762.96,1453.26 762.77,1453.64 762.57,1452.57 762.38,1452.99 762.19,1451.24 761.99,1451.58 761.8,1451.47 761.61,1452.67 761.41,1451.11 761.22,1451.09 761.03,1451.13 760.83,1451.05 760.64,1451.05 760.45,1451.05 760.25,1451.05 760.06,1451.05 759.87,1451.05 759.67,1451.05 759.48,1451.05 759.28,1451.05 759.09,1451.05 758.9,1451.05 758.7,1451.05 758.51,1451.05 758.32,1451.05 758.12,1451.05 757.93,1451.05 757.74,1451.05 757.54,1451.05 757.35,1451.05 757.16,1451.05 756.96,1451.05 756.77,1452.44 756.58,1451.05 756.38,1451.56 756.19,1452.33 756,1451.22 755.8,1451.28 755.61,1453.43 755.42,1451.45 755.22,1451.2 755.03,1451.05 754.84,1451.26 754.64,1451.32 754.45,1451.16 754.26,1454.33 754.06,1452.14 753.87,1451.87 753.68,1452.71 753.48,1453.18 753.29,1451.05 753.1,1453.22 752.9,1451.45 752.71,1454.54 752.52,1452.21 752.32,1453.41 752.13,1454.9 751.94,1452.82 751.74,1454.27 751.55,1456.9 751.36,1454.57 751.16,1454.06 750.97,1455.72 750.78,1453.58 750.58,1452.25 750.39,1456.06 750.2,1452.27 750,1454.19 749.81,1454.94 749.62,1451.53 749.42,1452.76 749.23,1455.11 749.03,1454.1 748.84,1455.28 748.65,1455.09 748.45,1457.83 748.26,1456.57 748.07,1457.7 747.87,1453.11 747.68,1462.82 747.49,1458.52 747.29,1460.99 747.1,1457.68 746.91,1458.1 746.71,1458.88 746.52,1464.73 746.33,1456.59 746.13,1465.53 745.94,1466.56 745.75,1463.43 745.55,1460.38 745.36,1460.23 745.17,1459.22 744.97,1455.93 744.78,1461.11 744.59,1462.92 744.39,1459.07 744.2,1457.34 744.01,1458.71 743.81,1463.24 743.62,1471.3 743.43,1456.61 743.23,1455.51 743.04,1459.47 742.85,1461.58 742.65,1460.52 742.46,1458.78 742.27,1456.44 742.07,1457.13 741.88,1457.03 741.69,1458.4 741.49,1455.77 741.3,1456.4 741.11,1458.31 740.91,1462.23 740.72,1458.71 740.53,1456.94 740.33,1457.68 740.14,1456.54 739.95,1457.72 739.75,1453.34 739.56,1456.48 739.36,1457.89 739.17,1455.41 738.98,1451.83 738.78,1455.3 738.59,1455.18 738.4,1458.42 738.2,1457.66 738.01,1456.54 737.82,1454.19 737.62,1456.84 737.43,1456.33 737.24,1457.49 737.04,1455.09 736.85,1456.65 736.66,1452 736.46,1455.13 736.27,1457.22 736.08,1453.32 735.88,1455.39 735.69,1456.5 735.5,1452.14 735.3,1452.94 735.11,1452.71 734.92,1453.09 734.72,1455.58 734.53,1451.96 734.34,1452.25 734.14,1452.99 733.95,1451.41 733.76,1451.43 733.56,1451.58 733.37,1452.06 733.18,1451.98 732.98,1455.01 732.79,1451.98 732.6,1451.05 732.4,1451.05 732.21,1451.24 732.02,1454.44 731.82,1453.89 731.63,1451.37 731.44,1452.23 731.24,1452.71 731.05,1451.49 730.86,1451.05 730.66,1451.13 730.47,1451.05 730.27,1451.05 730.08,1451.05 729.89,1451.05 729.69,1451.18 729.5,1451.05 729.31,1451.05 729.11,1451.05 728.92,1451.16 728.73,1451.05 728.53,1451.05 728.34,1451.05 728.15,1451.05 727.95,1455.34 727.76,1455.6 727.57,1453.32 727.37,1451.05 727.18,1455.13 726.99,1451.64 726.79,1451.05 726.6,1451.05 726.41,1451.34 726.21,1455.37 726.02,1456.35 725.83,1451.05 725.63,1451.22 725.44,1452.1 725.25,1454.31 725.05,1455.77 724.86,1451.85 724.67,1454.29 724.47,1454.29 724.28,1457.55 724.09,1456.4 723.89,1454.35 723.7,1454.33 723.51,1453.51 723.31,1455.68 723.12,1454.78 722.93,1454.88 722.73,1458.78 722.54,1456.1 722.35,1457.87 722.15,1458.86 721.96,1462.1 721.77,1459.39 721.57,1455.03 721.38,1461.7 721.19,1459.36 720.99,1465.39 720.8,1458.33 720.61,1461.03 720.41,1463.22 720.22,1460.73 720.02,1462.9 719.83,1462.99 719.64,1460.08 719.44,1462.35 719.25,1461.49 719.06,1463.09 718.86,1461.2 718.67,1460.75 718.48,1462.16 718.28,1464.61 718.09,1464.73 717.9,1463.91 717.7,1469.81 717.51,1471.68 717.32,1462.48 717.12,1467.13 716.93,1461.66 716.74,1462.56 716.54,1463.05 716.35,1460.86 716.16,1460.1 715.96,1461.45 715.77,1466.27 715.58,1471.05 715.38,1465.26 715.19,1466.61 715,1470.16 714.8,1467.53 714.61,1462.16 714.42,1463.09 714.22,1465.28 714.03,1462.94 713.84,1462.04 713.64,1466.23 713.45,1468.86 713.26,1473.59 713.06,1465.01 712.87,1464.75 712.68,1460.29 712.48,1461.72 712.29,1464.12 712.1,1468.82 711.9,1468.14 711.71,1468.33 711.52,1461.05 711.32,1461.6 711.13,1470.71 710.94,1462.54 710.74,1459.07 710.55,1458.08 710.35,1460.56 710.16,1462.61 709.97,1459.03 709.77,1460.78 709.58,1460.21 709.39,1457.13 709.19,1457.55 709,1462.73 708.81,1462.65 708.61,1456.71 708.42,1459.74 708.23,1456.67 708.03,1453.98 707.84,1452.92 707.65,1452.78 707.45,1455.49 707.26,1454.06 707.07,1456.84 706.87,1453.43 706.68,1454.19 706.49,1453.53 706.29,1451.64 706.1,1453.77 705.91,1451.26 705.71,1452.52 705.52,1452.25 705.33,1453.49 705.13,1452.63 704.94,1452.29 704.75,1453.13 704.55,1452.08 704.36,1454.86 704.17,1451.87 703.97,1451.34 703.78,1452.9 703.59,1452.69 703.39,1452.88 703.2,1451.89 703.01,1453.47 702.81,1456.27 702.62,1457.47 702.43,1458.31 702.23,1452.63 702.04,1456.21 701.85,1455.2 701.65,1464 701.46,1460.23 701.26,1458.04 701.07,1463.64 700.88,1463.47 700.68,1472.27 700.49,1471.09 700.3,1472.1 700.1,1467.36 699.91,1469.7 699.72,1473.7 699.52,1471.7 699.33,1481.13 699.14,1474.5 698.94,1477.3 698.75,1475.62 698.56,1473.74 698.36,1471.07 698.17,1479.97 697.98,1476.5 697.78,1494.46 697.59,1490.62 697.4,1488.01 697.2,1479.38 697.01,1480.14 696.82,1474.48 696.62,1484.31 696.43,1485.32 696.24,1479.26 696.04,1471.32 695.85,1477.09 695.66,1473.57 695.46,1478.37 695.27,1481.55 695.08,1468.9 694.88,1480.69 694.69,1477.7 694.5,1480.01 694.3,1470.94 694.11,1473.83 693.92,1467.64 693.72,1466.54 693.53,1470.16 693.34,1467.34 693.14,1467.85 692.95,1473.7 692.76,1472.63 692.56,1467.41 692.37,1464.06 692.18,1462.37 691.98,1462.54 691.79,1468.88 691.6,1478.67 691.4,1478.98 691.21,1470.16 691.01,1465.53 690.82,1464.44 690.63,1468.14 690.43,1469.51 690.24,1462.73 690.05,1464.92 689.85,1465.62 689.66,1461.26 689.47,1463.83 689.27,1463.22 689.08,1466.63 688.89,1461.53 688.69,1462.48 688.5,1462.35 688.31,1456.1 688.11,1457.34 687.92,1457.3 687.73,1460.02 687.53,1465.24 687.34,1462.77 687.15,1457.53 686.95,1459.32 686.76,1458.44 686.57,1457.05 686.37,1455.22 686.18,1459.22 685.99,1455.34 685.79,1455.7 685.6,1455.62 685.41,1456.71 685.21,1456.29 685.02,1455.37 684.83,1453.7 684.63,1456.63 684.44,1454.94 684.25,1459.07 684.05,1459.58 683.86,1454.75 683.67,1453.85 683.47,1451.79 683.28,1452.8 683.09,1452.9 682.89,1455.49 682.7,1453.26 682.51,1453.05 682.31,1453.53 682.12,1451.93 681.93,1452.17 681.73,1455.07 681.54,1453.72 681.34,1453.03 681.15,1454.14 680.96,1453.91 680.76,1455.43 680.57,1453.58 680.38,1451.83 680.18,1455.51 679.99,1456.08 679.8,1452.5 679.6,1455.58 679.41,1453.3 679.22,1455.6 679.02,1456.46 678.83,1460.23 678.64,1460.16 678.44,1463.03 678.25,1461.11 678.06,1457.6 677.86,1457.49 677.67,1457.85 677.48,1457.28 677.28,1459.62 677.09,1459.34 676.9,1463.62 676.7,1459.2 676.51,1461.79 676.32,1464.5 676.12,1465.62 675.93,1463.66 675.74,1464.75 675.54,1460.84 675.35,1462.59 675.16,1473.59 674.96,1462.82 674.77,1463.76 674.58,1464.84 674.38,1464.23 674.19,1460.5 674,1469.09 673.8,1460.46 673.61,1466.92 673.42,1469.01 673.22,1462.04 673.03,1480.65 672.84,1484.98 672.64,1489.02 672.45,1480.29 672.25,1474.12 672.06,1484.54 671.87,1474.58 671.67,1473.97 671.48,1473.59 671.29,1472.56 671.09,1477.11 670.9,1480.35 670.71,1478.94 670.51,1472.16 670.32,1478.92 670.13,1475.17 669.93,1484.71 669.74,1488.65 669.55,1482.65 669.35,1474.21 669.16,1475.65 668.97,1470.39 668.77,1470.54 668.58,1469.77 668.39,1465.76 668.19,1473.54 668,1468.21 667.81,1474.98 667.61,1474.33 667.42,1469.77 667.23,1472.5 667.03,1470.87 666.84,1461.63 666.65,1465.83 666.45,1467.85 666.26,1460.43 666.07,1465.83 665.87,1471.74 665.68,1468.09 665.49,1464.2 665.29,1465.45 665.1,1469.17 664.91,1476.34 664.71,1466.55 664.52,1464.61 664.33,1466.07 664.13,1466.22 663.94,1459.71 663.75,1464.82 663.55,1467.34 663.36,1466.05 663.17,1463.26 662.97,1468.18 662.78,1467.46 662.59,1467.25 662.39,1465.74 662.2,1466.74 662,1464.22 661.81,1462.3 661.62,1461.13 661.42,1460.58 661.23,1460.05 661.04,1467.2 660.84,1464.08 660.65,1461.94 660.46,1460.91 660.26,1461.34 660.07,1460.1 659.88,1462.47 659.68,1459.38 659.49,1460.65 659.3,1462.06 659.1,1463.14 658.91,1459.09 658.72,1461.2 658.52,1457.96 658.33,1456.67 658.14,1454.75 657.94,1455.85 657.75,1456.02 657.56,1457.39 657.36,1456.81 657.17,1456.11 656.98,1455.54 656.78,1454.84 656.59,1456.43 656.4,1454.1 656.2,1457.82 656.01,1456.19 655.82,1454 655.62,1453.79 655.43,1455.23 655.24,1452.11 655.04,1453.23 654.85,1452.32 654.66,1451.15 654.46,1451.79 654.27,1451.05 654.08,1453.38 653.88,1452.08 653.69,1451.79 653.5,1451.17 653.3,1452.23 653.11,1451.15 652.91,1452.61 652.72,1451.05 652.53,1452.25 652.33,1452.15 652.14,1452.47 651.95,1452.11 651.75,1452.13 651.56,1452.9 651.37,1452.78 651.17,1454.34 650.98,1452.83 650.79,1452.3 650.59,1453.71 650.4,1458.06 650.21,1454.89 650.01,1456.38 649.82,1455.11 649.63,1461.22 649.43,1460.79 649.24,1458.59 649.05,1459.98 648.85,1460.41 648.66,1459.42 648.47,1464.85 648.27,1460.24 648.08,1460.98 647.89,1461.73 647.69,1464.66 647.5,1464.32 647.31,1470.27 647.11,1472.94 646.92,1463.5 646.73,1467.1 646.53,1471.14 646.34,1472.07 646.15,1472.72 645.95,1471.62 645.76,1472.89 645.57,1471.95 645.37,1473.9 645.18,1476.68 644.99,1476.44 644.79,1478.55 644.6,1474.38 644.41,1470.49 644.21,1470.61 644.02,1472.17 643.83,1474.78 643.63,1468.18 643.44,1476.75 643.24,1477.11 643.05,1479.05 642.86,1475.12 642.66,1473.18 642.47,1472.67 642.28,1474.54 642.08,1473.99 641.89,1466 641.7,1469.72 641.5,1475.29 641.31,1474.69 641.12,1464.68 640.92,1472.12 640.73,1469.77 640.54,1470.85 640.34,1470.22 640.15,1467.18 639.96,1463.94 639.76,1470.37 639.57,1466.19 639.38,1466.53 639.18,1461.51 638.99,1463.94 638.8,1466.5 638.6,1471.21 638.41,1468.66 638.22,1466.05 638.02,1467.03 637.83,1461.13 637.64,1463.19 637.44,1460.86 637.25,1462.64 637.06,1464.66 636.86,1466.98 636.67,1460.79 636.48,1463.96 636.28,1460.84 636.09,1458.9 635.9,1462.59 635.7,1456.33 635.51,1460.62 635.32,1460.1 635.12,1460.94 634.93,1464.9 634.74,1462.35 634.54,1466.96 634.35,1459.64 634.16,1460.79 633.96,1464.92 633.77,1464.18 633.58,1464.2 633.38,1457.89 633.19,1459.18 632.99,1464.87 632.8,1457.91 632.61,1461.3 632.41,1459.32 632.22,1459.36 632.03,1457.24 631.83,1458.31 631.64,1458.12 631.45,1456.69 631.25,1459.01 631.06,1455.6 630.87,1454.65 630.67,1456.23 630.48,1453.74 630.29,1457.7 630.09,1459.13 629.9,1456.23 629.71,1454.75 629.51,1453.77 629.32,1454.52 629.13,1453.01 628.93,1453.72 628.74,1452.59 628.55,1454.02 628.35,1452.94 628.16,1451.37 627.97,1451.05 627.77,1451.2 627.58,1452.99 627.39,1452.12 627.19,1451.66 627,1451.37 626.81,1452.1 626.61,1452.08 626.42,1453.11 626.23,1453.89 626.03,1453.01 625.84,1456.35 625.65,1454.33 625.45,1454.38 625.26,1456.63 625.07,1458.75 624.87,1456.67 624.68,1457.6 624.49,1457.07 624.29,1458.29 624.1,1460.27 623.9,1464.04 623.71,1463.49 623.52,1465.28 623.32,1463.87 623.13,1463.53 622.94,1462.14 622.74,1459.68 622.55,1472.94 622.36,1473.87 622.16,1463.51 621.97,1467.81 621.78,1468.02 621.58,1463.55 621.39,1467.34 621.2,1473.01 621,1467.32 620.81,1475.24 620.62,1484.6 620.42,1484.73 620.23,1488.1 620.04,1479.59 619.84,1478.92 619.65,1483.42 619.46,1479.68 619.26,1481.87 619.07,1482.1 618.88,1478.41 618.68,1469.64 618.49,1477.43 618.3,1481.19 618.1,1485.24 617.91,1481.68 617.72,1470.35 617.52,1472.73 617.33,1474.2 617.14,1467.95 616.94,1469.78 616.75,1473.24 616.56,1470.06 616.36,1467.78 616.17,1476.33 615.98,1469.66 615.78,1472.54 615.59,1473.7 615.4,1474.18 615.2,1473.26 615.01,1470.61 614.82,1475.17 614.62,1472.84 614.43,1474.63 614.23,1468.71 614.04,1469.3 613.85,1473.57 613.65,1471.74 613.46,1467.09 613.27,1461.13 613.07,1460.48 612.88,1465.13 612.69,1465.41 612.49,1461.05 612.3,1461.03 612.11,1462.71 611.91,1461.41 611.72,1463.85 611.53,1464.56 611.33,1460.82 611.14,1457.79 610.95,1460.44 610.75,1459.09 610.56,1465.32 610.37,1463.95 610.17,1456.94 609.98,1458.27 609.79,1457.13 609.59,1457.22 609.4,1454.12 609.21,1455.72 609.01,1458.16 608.82,1457.18 608.63,1453.47 608.43,1456.08 608.24,1453.68 608.05,1454.12 607.85,1451.56 607.66,1453.72 607.47,1454.78 607.27,1453.13 607.08,1454.06 606.89,1454.21 606.69,1457.62 606.5,1451.53 606.31,1452.12 606.11,1451.39 605.92,1454.25 605.73,1452.9 605.53,1453.13 605.34,1454.06 605.15,1453.13 604.95,1452.78 604.76,1456.19 604.57,1452.88 604.37,1453.51 604.18,1454.38 603.98,1455.51 603.79,1453.87 603.6,1452.29 603.4,1452.38 603.21,1454.5 603.02,1452.46 602.82,1454.1 602.63,1451.53 602.44,1451.74 602.24,1452.31 602.05,1452.69 601.86,1451.07 601.66,1452.27 601.47,1452.4 601.28,1451.07 601.08,1451.05 600.89,1452.17 600.7,1451.28 600.5,1451.91 600.31,1451.16 600.12,1451.22 599.92,1451.18 599.73,1451.05 599.54,1452.36 599.34,1451.56 599.15,1452.06 598.96,1452.63 598.76,1453.3 598.57,1452.33 598.38,1453.64 598.18,1453.77 597.99,1452.57 597.8,1456.1 597.6,1456.84 597.41,1455.15 597.22,1455.11 597.02,1456 596.83,1458.23 596.64,1455.66 596.44,1461.18 596.25,1464.94 596.06,1460.1 595.86,1457.51 595.67,1457.28 595.48,1458.71 595.28,1462.25 595.09,1461.89 594.89,1461.93 594.7,1460.21 594.51,1463.79 594.31,1467.24 594.12,1463.26 593.93,1462.25 593.73,1464.52 593.54,1462.59 593.35,1461.01 593.15,1460.52 592.96,1465.64 592.77,1465.26 592.57,1471.22 592.38,1464.54 592.19,1460.56 591.99,1460.61 591.8,1459.55 591.61,1463.2 591.41,1463.51 591.22,1468.82 591.03,1459.85 590.83,1463.81 590.64,1460.92 590.45,1460.06 590.25,1468.33 590.06,1457.81 589.87,1467.15 589.67,1468.02 589.48,1460.73 589.29,1462.12 589.09,1468.69 588.9,1468.84 588.71,1467.03 588.51,1470.31 588.32,1469.34 588.13,1469.32 587.93,1467.07 587.74,1465.05 587.55,1461.83 587.35,1462.23 587.16,1462.8 586.97,1464.08 586.77,1461.11 586.58,1458.75 586.39,1460.99 586.19,1460.06 586,1466.16 585.81,1461.53 585.61,1462.63 585.42,1466.42 585.22,1468.67 585.03,1465.05 584.84,1461.58 584.64,1459.39 584.45,1459.2 584.26,1458.06 584.06,1455.62 583.87,1457.34 583.68,1456.5 583.48,1463.11 583.29,1460.25 583.1,1457.51 582.9,1456.75 582.71,1457.43 582.52,1454.61 582.32,1455.55 582.13,1452.86 581.94,1451.11 581.74,1453.66 581.55,1453.22 581.36,1453.83 581.16,1451.93 580.97,1452.5 580.78,1455.26 580.58,1454.35 580.39,1455.95 580.2,1455.55 580,1452.61 579.81,1452.44 579.62,1452.5 579.42,1455.41 579.23,1453.72 579.04,1452.54 578.84,1452.69 578.65,1452.12 578.46,1452.52 578.26,1452.54 578.07,1451.7 577.88,1451.64 577.68,1452.9 577.49,1451.49 577.3,1453.3 577.1,1452.46 576.91,1451.22 576.72,1452.84 576.52,1452.46 576.33,1451.96 576.14,1451.56 575.94,1452.4 575.75,1453.03 575.56,1455.39 575.36,1452.42 575.17,1451.49 574.97,1451.09 574.78,1452.46 574.59,1452.17 574.39,1451.18 574.2,1452.12 574.01,1451.39 573.81,1452.06 573.62,1451.32 573.43,1453.49 573.23,1452.84 573.04,1454.67 572.85,1453.41 572.65,1453.07 572.46,1452.69 572.27,1453.89 572.07,1455.72 571.88,1453.24 571.69,1455.37 571.49,1459.7 571.3,1461.22 571.11,1463.43 570.91,1458 570.72,1462.37 570.53,1461.89 570.33,1459.87 570.14,1457.89 569.95,1465.6 569.75,1466.96 569.56,1461.55 569.37,1465.7 569.17,1467.81 568.98,1467.11 568.79,1467.15 568.59,1472.39 568.4,1464.27 568.21,1465.89 568.01,1464.82 567.82,1467.6 567.63,1466.84 567.43,1466.42 567.24,1464.88 567.05,1469.6 566.85,1468.88 566.66,1469.97 566.47,1469.7 566.27,1478.25 566.08,1467.45 565.88,1467.89 565.69,1466.86 565.5,1470.79 565.3,1468.56 565.11,1468.86 564.92,1462.06 564.72,1468.23 564.53,1472.35 564.34,1471.87 564.14,1473.36 563.95,1465.85 563.76,1464.92 563.56,1466.94 563.37,1462.96 563.18,1463.68 562.98,1464.37 562.79,1465.2 562.6,1463.89 562.4,1467.24 562.21,1465.26 562.02,1466.1 561.82,1461.11 561.63,1465.55 561.44,1463.2 561.24,1465.34 561.05,1460.99 560.86,1465.93 560.66,1457.15 560.47,1463.13 560.28,1462 560.08,1460.27 559.89,1456.88 559.7,1461.36 559.5,1460.52 559.31,1456.78 559.12,1463.95 558.92,1457.09 558.73,1459.05 558.54,1460.02 558.34,1459.6 558.15,1457.24 557.96,1457.18 557.76,1457.58 557.57,1455.26 557.38,1453.43 557.18,1456.86 556.99,1455.64 556.8,1461.18 556.6,1454.06 556.41,1452.82 556.21,1458.06 556.02,1457.41 555.83,1458.71 555.63,1459.11 555.44,1454.1 555.25,1456.48 555.05,1455.74 554.86,1452.94 554.67,1457.66 554.47,1458.38 554.28,1458.29 554.09,1457.55 553.89,1453.7 553.7,1455.15 553.51,1452.99 553.31,1454.86 553.12,1454.04 552.93,1452.67 552.73,1455.37 552.54,1453.89 552.35,1451.66 552.15,1452.82 551.96,1453.79 551.77,1452.69 551.57,1453.26 551.38,1453.03 551.19,1453.91 550.99,1452.86 550.8,1454.42 550.61,1454.25 550.41,1453.6 550.22,1452.8 550.03,1451.96 549.83,1452.8 549.64,1453.77 549.45,1452 549.25,1451.11 549.06,1451.09 548.87,1451.56 548.67,1452 548.48,1451.05 548.29,1453.2 548.09,1452.27 547.9,1451.2 547.71,1451.26 547.51,1451.18 547.32,1451.83 547.13,1451.85 546.93,1451.05 546.74,1452.21 546.55,1451.05 546.35,1453.66 546.16,1451.05 545.96,1451.64 545.77,1451.34 545.58,1451.24 545.38,1451.53 545.19,1452.65 545,1454.48 544.8,1453.22 544.61,1451.28 544.42,1452.8 544.22,1454.63 544.03,1453.89 543.84,1456.54 543.64,1454.12 543.45,1454.48 543.26,1456.92 543.06,1457.11 542.87,1453.39 542.68,1459.24 542.48,1460.42 542.29,1460.65 542.1,1457.7 541.9,1456.21 541.71,1458.88 541.52,1460.1 541.32,1459.36 541.13,1459.87 540.94,1461.7 540.74,1463.3 540.55,1457.39 540.36,1462.46 540.16,1459.05 539.97,1462.54 539.78,1462.59 539.58,1469.11 539.39,1462.94 539.2,1459.32 539,1461.15 538.81,1461.36 538.62,1466.42 538.42,1463.43 538.23,1462.63 538.04,1467.62 537.84,1473.62 537.65,1462.73 537.46,1460.63 537.26,1457.64 537.07,1464.63 536.88,1462.69 536.68,1463.2 536.49,1464.35 536.29,1472.86 536.1,1461.09 535.91,1462.86 535.71,1454.8 535.52,1459.24 535.33,1464.67 535.13,1467.13 534.94,1473.83 534.75,1463.83 534.55,1462.12 534.36,1460.08 534.17,1459.55 533.97,1461.51 533.78,1462.48 533.59,1468.94 533.39,1464.82 533.2,1464 533.01,1461.01 532.81,1459.3 532.62,1458.19 532.43,1457.09 532.23,1463.17 532.04,1459.64 531.85,1461.18 531.65,1459.36 531.46,1470.1 531.27,1469.34 531.07,1457.85 530.88,1460.63 530.69,1459.36 530.49,1462.99 530.3,1460.86 530.11,1465.01 529.91,1457.85 529.72,1458.63 529.53,1455.81 529.33,1458.59 529.14,1455.91 528.95,1459.22 528.75,1463.34 528.56,1462.8 528.37,1462.46 528.17,1456.61 527.98,1457.68 527.79,1455.55 527.59,1452.82 527.4,1455.72 527.2,1453.64 527.01,1454.02 526.82,1453.47 526.62,1456.57 526.43,1459.11 526.24,1452.08 526.04,1452.27 525.85,1451.77 525.66,1452.94 525.46,1452.69 525.27,1454.52 525.08,1452.94 524.88,1451.51 524.69,1451.79 524.5,1451.89 524.3,1451.89 524.11,1451.6 523.92,1451.93 523.72,1451.51 523.53,1451.11 523.34,1451.05 523.14,1452.08 522.95,1452 522.76,1451.98 522.56,1451.91 522.37,1451.68 522.18,1451.11 521.98,1453.05 521.79,1452.02 521.6,1451.28 521.4,1452.4 521.21,1451.53 521.02,1451.66 520.82,1451.16 520.63,1451.24 520.44,1451.05 520.24,1451.05 520.05,1451.41 519.86,1451.09 519.66,1451.3 519.47,1451.7 519.28,1451.2 519.08,1451.85 518.89,1451.64 518.7,1451.6 518.5,1451.7 518.31,1454.69 518.12,1452.14 517.92,1453.45 517.73,1452.19 517.54,1452.67 517.34,1453.72 517.15,1452.78 516.95,1454.5 516.76,1455.74 516.57,1455.89 516.37,1459.95 516.18,1459.22 515.99,1459.74 515.79,1458 515.6,1465.53 515.41,1466.12 515.21,1465.7 515.02,1461.47 514.83,1462.31 514.63,1460 514.44,1458.31 514.25,1460.59 514.05,1462.71 513.86,1465.15 513.67,1466.16 513.47,1466.73 513.28,1465.3 513.09,1462.31 512.89,1458.46 512.7,1460.54 512.51,1461.72 512.31,1464.86 512.12,1462.21 511.93,1466.77 511.73,1466.18 511.54,1471.01 511.35,1466.77 511.15,1475.07 510.96,1475.24 510.77,1476.27 510.57,1483.57 510.38,1478.29 510.19,1466.25 509.99,1471.34 509.8,1478.27 509.61,1471.26 509.41,1464.8 509.22,1466.25 509.03,1468 508.83,1467.2 508.64,1463.55 508.45,1473.7 508.25,1472.46 508.06,1467.87 507.87,1468.94 507.67,1468.61 507.48,1463.51 507.28,1461.18 507.09,1467.78 506.9,1465.05 506.7,1461.95 506.51,1469.6 506.32,1474.46 506.12,1464.67 505.93,1465.57 505.74,1462.56 505.54,1462.16 505.35,1459.89 505.16,1458.4 504.96,1461.81 504.77,1462.4 504.58,1465.83 504.38,1454.17 504.19,1458.06 504,1459.2 503.8,1456.84 503.61,1455.09 503.42,1458.69 503.22,1461.49 503.03,1456.78 502.84,1457.34 502.64,1457.68 502.45,1457.01 502.26,1456.67 502.06,1457.87 501.87,1455.72 501.68,1458.14 501.48,1459.87 501.29,1455.85 501.1,1454.8 500.9,1454.88 500.71,1454.8 500.52,1455.32 500.32,1453.53 500.13,1456.61 499.94,1462.56 499.74,1453.37 499.55,1452.73 499.36,1452.27 499.16,1453.34 498.97,1452.42 498.78,1452.04 498.58,1452.36 498.39,1452.61 498.19,1454.73 498,1452 497.81,1451.37 497.61,1451.74 497.42,1452.33 497.23,1451.72 497.03,1452.97 496.84,1451.79 496.65,1451.16 496.45,1453.83 496.26,1453.49 496.07,1453.15 495.87,1451.64 495.68,1451.16 495.49,1452.12 495.29,1451.43 495.1,1453.43 494.91,1455.43 494.71,1456.1 494.52,1456.97 494.33,1455.11 494.13,1456.33 493.94,1456.44 493.75,1455.79 493.55,1454.52 493.36,1452.21 493.17,1455.93 492.97,1454.84 492.78,1457.72 492.59,1460.06 492.39,1461.05 492.2,1459.15 492.01,1459.03 491.81,1463.72 491.62,1465.62 491.43,1463.39 491.23,1471.81 491.04,1466.16 490.85,1465.78 490.65,1464.21 490.46,1459.15 490.27,1464.59 490.07,1466.52 489.88,1462.06 489.69,1464.02 489.49,1463.85 489.3,1466.1 489.11,1463.79 488.91,1467.76 488.72,1468.23 488.53,1470.63 488.33,1465.7 488.14,1470.73 487.94,1467.7 487.75,1463.49 487.56,1462.61 487.36,1462.37 487.17,1465.45 486.98,1464.33 486.78,1465.2 486.59,1460.56 486.4,1468.63 486.2,1466.52 486.01,1469.03 485.82,1468.02 485.62,1467.24 485.43,1470.29 485.24,1471.68 485.04,1468.69 484.85,1469.93 484.66,1463.97 484.46,1461.64 484.27,1463.47 484.08,1465.55 483.88,1464.54 483.69,1461.62 483.5,1462.16 483.3,1463.3 483.11,1466.18 482.92,1465.83 482.72,1464.9 482.53,1458.29 482.34,1462.42 482.14,1468.12 481.95,1473.78 481.76,1464.8 481.56,1461.41 481.37,1458.42 481.18,1459.09 480.98,1458.8 480.79,1457.11 480.6,1455.66 480.4,1456.29 480.21,1457.81 480.02,1458.29 479.82,1458.54 479.63,1456.48 479.44,1454.12 479.24,1460.12 479.05,1457.37 478.86,1457.62 478.66,1456.23 478.47,1454.27 478.27,1454.71 478.08,1453.79 477.89,1455.05 477.69,1453.15 477.5,1454.99 477.31,1454.8 477.11,1453.6 476.92,1453.28 476.73,1453.41 476.53,1453.41 476.34,1454.82 476.15,1455.72 475.95,1453.07 475.76,1452.48 475.57,1451.89 475.37,1452.92 475.18,1452.78 474.99,1453.37 474.79,1453.64 474.6,1455.72 474.41,1453.18 474.21,1451.66 474.02,1451.72 473.83,1452.14 473.63,1451.64 473.44,1451.09 473.25,1452.12 473.05,1451.68 472.86,1451.18 472.67,1451.11 472.47,1451.77 472.28,1452.69 472.09,1451.96 471.89,1453.43 471.7,1455.2 471.51,1452.46 471.31,1453.01 471.12,1452.8 470.93,1451.89 470.73,1452.25 470.54,1452.88 470.35,1454.29 470.15,1455.03 469.96,1455.37 469.77,1455.91 469.57,1453.62 469.38,1456.8 469.18,1460.67 468.99,1458.19 468.8,1457.39 468.6,1459.91 468.41,1462.25 468.22,1464.56 468.02,1464 467.83,1464.27 467.64,1466.69 467.44,1467.28 467.25,1466.82 467.06,1462.54 466.86,1465.78 466.67,1462.06 466.48,1469.36 466.28,1467.05 466.09,1469.78 465.9,1475.34 465.7,1477.03 465.51,1478.94 465.32,1478.1 465.12,1468.71 464.93,1474.06 464.74,1475.62 464.54,1478.48 464.35,1481.59 464.16,1480.04 463.96,1472.25 463.77,1477.34 463.58,1466.71 463.38,1469.74 463.19,1471.76 463,1476.14 462.8,1469.26 462.61,1472.31 462.42,1477.87 462.22,1471.57 462.03,1485.85 461.84,1475.4 461.64,1469.91 461.45,1471.91 461.26,1476.77 461.06,1470.56 460.87,1467.95 460.68,1467.34 460.48,1464.65 460.29,1474.02 460.1,1475.95 459.9,1472.31 459.71,1471.59 459.52,1473.32 459.32,1474.75 459.13,1469.6 458.93,1465.39 458.74,1459.91 458.55,1461.68 458.35,1463.55 458.16,1468.58 457.97,1463.83 457.77,1462.5 457.58,1468.71 457.39,1465.26 457.19,1473.26 457,1465.05 456.81,1462.63 456.61,1463.34 456.42,1465.43 456.23,1460.65 456.03,1460.42 455.84,1460.82 455.65,1457.95 455.45,1457.26 455.26,1463.64 455.07,1465.13 454.87,1463.68 454.68,1464.92 454.49,1460.8 454.29,1459.13 454.1,1458.14 453.91,1458.54 453.71,1462.16 453.52,1462.46 453.33,1463.83 453.13,1456.31 452.94,1453.45 452.75,1454.78 452.55,1455.3 452.36,1454.67 452.17,1455.09 451.97,1457.51 451.78,1455.79 451.59,1453.66 451.39,1457.13 451.2,1456.82 451.01,1456.54 450.81,1454.02 450.62,1452.65 450.43,1453.83 450.23,1455.13 450.04,1453.15 449.85,1452.69 449.65,1453.2 449.46,1455.01 449.26,1451.83 449.07,1451.16 448.88,1453.37 448.68,1451.11 448.49,1451.58 448.3,1452.1 448.1,1452.1 447.91,1454.57 447.72,1454.06 447.52,1454.61 447.33,1453.32 447.14,1457.03 446.94,1454.94 446.75,1453.72 446.56,1455.58 446.36,1457.79 446.17,1457.49 445.98,1458.67 445.78,1460.02 445.59,1456.5 445.4,1458.4 445.2,1465.53 445.01,1460.73 444.82,1456.82 444.62,1461.07 444.43,1469.2 444.24,1467.17 444.04,1466.98 443.85,1468.92 443.66,1466.52 443.46,1475.51 443.27,1473.62 443.08,1470.92 442.88,1472.58 442.69,1477.11 442.5,1476.67 442.3,1471.74 442.11,1474.91 441.92,1474.26 441.72,1477.84 441.53,1487.05 441.34,1480.36 441.14,1479.29 440.95,1484.82 440.76,1481.35 440.56,1480.31 440.37,1473.94 440.17,1471.89 439.98,1470.45 439.79,1466.45 439.59,1468 439.4,1484.98 439.21,1482.17 439.01,1481.06 438.82,1476.48 438.63,1479.29 438.43,1476.68 438.24,1475.43 438.05,1468.18 437.85,1475.73 437.66,1472.35 437.47,1483.65 437.27,1479.22 437.08,1477.34 436.89,1470.04 436.69,1472.82 436.5,1473.55 436.31,1473.19 436.11,1477.04 435.92,1474.59 435.73,1476.71 435.53,1472.08 435.34,1469.22 435.15,1468 434.95,1470.67 434.76,1471.33 434.57,1470.04 434.37,1466 434.18,1467.32 433.99,1466.29 433.79,1460.22 433.6,1462.03 433.41,1460.85 433.21,1460.73 433.02,1461.76 432.83,1461.76 432.63,1461.05 432.44,1467.66 432.25,1470.45 432.05,1469.04 431.86,1462.05 431.67,1461.96 431.47,1465.91 431.28,1460.28 431.09,1460.42 430.89,1459.24 430.7,1458.33 430.51,1455.11 430.31,1454.98 430.12,1456.25 429.92,1455.23 429.73,1457.56 429.54,1458.08 429.34,1460.87 429.15,1456.09 428.96,1455.31 428.76,1455 428.57,1457.18 428.38,1455.79 428.18,1451.75 427.99,1452.84 427.8,1456.02 427.6,1453.29 427.41,1454.95 427.22,1452.59 427.02,1455.25 426.83,1454.5 426.64,1452.52 426.44,1451.34 426.25,1451.5 426.06,1451.09 425.86,1451.14 425.67,1453 425.48,1451.37 425.28,1451.19 425.09,1451.09 424.9,1451.91 424.7,1452.55 424.51,1451.32 424.32,1452.3 424.12,1452.7 423.93,1452.41 423.74,1455.18 423.54,1454.77 423.35,1451.93 423.16,1453.07 422.96,1456.22 422.77,1456.72 422.58,1455.83 422.38,1458.33 422.19,1458.69 422,1461.51 421.8,1467 421.61,1464.8 421.42,1464.21 421.22,1473.23 421.03,1472.23 420.84,1470.85 420.64,1475.48 420.45,1471.9 420.25,1474.14 420.06,1481.38 419.87,1482.03 419.67,1478.82 419.48,1487.05 419.29,1485.41 419.09,1480.56 418.9,1474.34 418.71,1479.2 418.51,1482.38 418.32,1480.49 418.13,1486.94 417.93,1484.53 417.74,1479.31 417.55,1493.22 417.35,1496.44 417.16,1488.77 416.97,1493.87 416.77,1487.27 416.58,1480.54 416.39,1485.16 416.19,1486.1 416,1482.4 415.81,1481.72 415.61,1485.28 415.42,1486.85 415.23,1487.03 415.03,1483.51 414.84,1478.29 414.65,1484.6 414.45,1489.93 414.26,1476.64 414.07,1484.26 413.87,1480.26 413.68,1481.81 413.49,1481.22 413.29,1477.81 413.1,1486.75 412.91,1477.02 412.71,1470.97 412.52,1473.23 412.33,1473.41 412.13,1477.21 411.94,1470.01 411.75,1469.33 411.55,1472.87 411.36,1472.44 411.16,1470.76 410.97,1472.82 410.78,1475.03 410.58,1473.8 410.39,1465.86 410.2,1467.07 410,1466.36 409.81,1461.41 409.62,1459.29 409.42,1460.53 409.23,1462.03 409.04,1460.17 408.84,1464.89 408.65,1463.6 408.46,1461.03 408.26,1462.42 408.07,1457.79 407.88,1456.88 407.68,1458.19 407.49,1457.97 407.3,1460.05 407.1,1459.21 406.91,1459.35 406.72,1458.87 406.52,1458.56 406.33,1454.95 406.14,1454.95 405.94,1460.22 405.75,1458.11 405.56,1455.86 405.36,1455.2 405.17,1454.59 404.98,1455.41 404.78,1454.11 404.59,1456.29 404.4,1458.74 404.2,1457.47 404.01,1454.56 403.82,1456.99 403.62,1457.99 403.43,1457.36 403.24,1455.23 403.04,1453.71 402.85,1453.79 402.66,1454.22 402.46,1454 402.27,1452.59 402.08,1452.75 401.88,1452.68 401.69,1451.6 401.5,1452.71 401.3,1451.89 401.11,1452.14 400.91,1452.37 400.72,1453.75 400.53,1454.18 400.33,1453.59 400.14,1453.14 399.95,1452.27 399.75,1455.36 399.56,1453.89 399.37,1453.18 399.17,1452.64 398.98,1454.05 398.79,1454.64 398.59,1453.88 398.4,1454.09 398.21,1456.09 398.01,1455.41 397.82,1455.57 397.63,1459.76 397.43,1459.15 397.24,1459.58 397.05,1461.19 396.85,1460.21 396.66,1460.03 396.47,1461.28 396.27,1461.28 396.08,1463.64 395.89,1470.88 395.69,1467.79 395.5,1471.04 395.31,1463.48 395.11,1466.52 394.92,1463.09 394.73,1467.41 394.53,1470.22 394.34,1464.79 394.15,1466.82 393.95,1467.92 393.76,1473.66 393.57,1472.83 393.37,1471.06 393.18,1467.54 392.99,1465.57 392.79,1473.8 392.6,1470.78 392.41,1468.24 392.21,1470.6 392.02,1472.01 391.83,1470.31 391.63,1466.43 391.44,1470.69 391.24,1469.72 391.05,1472.6 390.86,1475.34 390.66,1470.15 390.47,1472.51 390.28,1470.01 390.08,1468.36 389.89,1468.58 389.7,1467.38 389.5,1468.17 389.31,1467.77 389.12,1468.56 388.92,1470.99 388.73,1473.91 388.54,1469.45 388.34,1470.63 388.15,1473.85 387.96,1470.15 387.76,1471.17 387.57,1467.68 387.38,1468.85 387.18,1466.54 386.99,1468.08 386.8,1465.98 386.6,1467.38 386.41,1465.18 386.22,1461.91 386.02,1463.89 385.83,1461.33 385.64,1459.96 385.44,1465.54 385.25,1462.03 385.06,1460.03 384.86,1460.3 384.67,1462.35 384.48,1465.75 384.28,1462.05 384.09,1466.86 383.9,1465.38 383.7,1462.35 383.51,1465.45 383.32,1466.79 383.12,1464.73 382.93,1464.79 382.74,1462.5 382.54,1462.01 382.35,1458.49 382.15,1459.15 381.96,1458.81 381.77,1458.72 381.57,1459.28 381.38,1461.37 381.19,1458.63 380.99,1458.11 380.8,1455.18 380.61,1455.63 380.41,1461.66 380.22,1456.54 380.03,1455.32 379.83,1455.22 379.64,1455.99 379.45,1455.7 379.25,1454.86 379.06,1458.26 378.87,1458.11 378.67,1457.49 378.48,1461.03 378.29,1457.06 378.09,1458.24 377.9,1459.47 377.71,1455.52 377.51,1454.72 377.32,1454.43 377.13,1453.11 376.93,1453.11 376.74,1451.96 376.55,1452.66 376.35,1453.09 376.16,1456.09 375.97,1458.15 375.77,1453.54 375.58,1452.68 375.39,1454.52 375.19,1452.44 375,1452.5 374.81,1451.82 374.61,1454.97 374.42,1454.41 374.23,1453.27 374.03,1453.23 373.84,1451.39 373.65,1453.98 373.45,1453.46 373.26,1454.73 373.07,1451.98 372.87,1453.79 372.68,1453.98 372.49,1455.18 372.29,1452.61 372.1,1453.36 371.9,1454.38 371.71,1457.94 371.52,1454.88 371.32,1456.43 371.13,1458.92 370.94,1458.88 370.74,1456.25 370.55,1458.78 370.36,1460.33 370.16,1467.79 369.97,1464.73 369.78,1468.88 369.58,1465.84 369.39,1468.06 369.2,1463.64 369,1461.44 368.81,1475.77 368.62,1473.42 368.42,1468.56 368.23,1472.99 368.04,1480.85 367.84,1475.64 367.65,1475.73 367.46,1469.2 367.26,1475.09 367.07,1477.79 366.88,1479.56 366.68,1476.48 366.49,1484.74 366.3,1484.35 366.1,1483.83 365.91,1482.58 365.72,1479.59 365.52,1478.77 365.33,1473.62 365.14,1480.4 364.94,1483.22 364.75,1479.18 364.56,1475.43 364.36,1475.27 364.17,1478.77 363.98,1480.51 363.78,1477.5 363.59,1482.24 363.4,1471.44 363.2,1476.43 363.01,1475.5 362.81,1479.39 362.62,1474.25 362.43,1467.67 362.23,1477.45 362.04,1480.31 361.85,1482.03 361.65,1480.89 361.46,1476.11 361.27,1478.19 361.07,1471 360.88,1480.16 360.69,1478.29 360.49,1472.55 360.3,1465.46 360.11,1470.31 359.91,1469.47 359.72,1469.64 359.53,1471.47 359.33,1467.24 359.14,1467.74 358.95,1472.54 358.75,1465.32 358.56,1459.68 358.37,1462.3 358.17,1464.71 357.98,1467.84 357.79,1466.47 357.59,1464.96 357.4,1463.2 357.21,1459.56 357.01,1460.49 356.82,1456.69 356.63,1456.7 356.43,1460.7 356.24,1465.5 356.05,1465.18 355.85,1462.85 355.66,1463.98 355.47,1458.85 355.27,1457.38 355.08,1455.38 354.89,1453.72 354.69,1453.1 354.5,1454.95 354.31,1454.25 354.11,1453.88 353.92,1453.79 353.73,1454.02 353.53,1453.85 353.34,1455.82 353.14,1455.26 352.95,1456.4 352.76,1452.99 352.56,1451.73 352.37,1454.32 352.18,1453.9 351.98,1454.1 351.79,1451.49 351.6,1455.15 351.4,1453.72 351.21,1454.32 351.02,1453.47 350.82,1451.24 350.63,1454.25 350.44,1452.36 350.24,1451.72 350.05,1457.31 349.86,1453.74 349.66,1452.25 349.47,1452.89 349.28,1451.47 349.08,1453.65 348.89,1458.05 348.7,1456.89 348.5,1454.13 348.31,1456.89 348.12,1457.89 347.92,1457.04 347.73,1461.77 347.54,1458.11 347.34,1455.84 347.15,1461.48 346.96,1458.12 346.76,1464.52 346.57,1466.61 346.38,1461.68 346.18,1469.05 345.99,1470.91 345.8,1470.27 345.6,1471.45 345.41,1472.01 345.22,1471.72 345.02,1480.25 344.83,1477.87 344.64,1479.06 344.44,1473.79 344.25,1474.09 344.06,1475.95 343.86,1486.98 343.67,1473.92 343.48,1480.99 343.28,1481.85 343.09,1478.83 342.89,1481.2 342.7,1479.9 342.51,1481.95 342.31,1473.8 342.12,1475.77 341.93,1476.04 341.73,1474.84 341.54,1470.22 341.35,1476.51 341.15,1482.9 340.96,1471.1 340.77,1474.51 340.57,1472.38 340.38,1472.25 340.19,1473.58 339.99,1478.81 339.8,1474.72 339.61,1474.56 339.41,1471.56 339.22,1479.93 339.03,1480.8 338.83,1481.44 338.64,1472.83 338.45,1476.29 338.25,1470.15 338.06,1476.75 337.87,1477.95 337.67,1480.17 337.48,1470.34 337.29,1469.1 337.09,1464.4 336.9,1462.85 336.71,1466.57 336.51,1462.73 336.32,1462.63 336.13,1467.13 335.93,1467.7 335.74,1466.04 335.55,1461.81 335.35,1467.57 335.16,1463.73 334.97,1462.35 334.77,1462.19 334.58,1460.11 334.39,1461.58 334.19,1458.73 334,1455.13 333.81,1461.32 333.61,1457.54 333.42,1459.96 333.22,1461.59 333.03,1457.52 332.84,1456.83 332.64,1453.99 332.45,1454.3 332.26,1456.16 332.06,1457.46 331.87,1455.16 331.68,1455.75 331.48,1459.1 331.29,1454.34 331.1,1455.85 330.9,1455.48 330.71,1456.52 330.52,1456.74 330.32,1453.61 330.13,1453.7 329.94,1453.9 329.74,1453.7 329.55,1453.66 329.36,1453.2 329.16,1454.9 328.97,1452.69 328.78,1452.87 328.58,1453.14 328.39,1451.85 328.2,1452.72 328,1451.92 327.81,1452.05 327.62,1453.19 327.42,1452.54 327.23,1453.66 327.04,1451.34 326.84,1451.21 326.65,1454.29 326.46,1453.46 326.26,1452.08 326.07,1452.43 325.88,1452.62 325.68,1453.85 325.49,1454.39 325.3,1453.34 325.1,1452.93 324.91,1455.45 324.72,1460.3 324.52,1455.16 324.33,1458.08 324.13,1458.47 323.94,1456.79 323.75,1458.3 323.55,1460.91 323.36,1460.65 323.17,1461.17 322.97,1463.75 322.78,1463.01 322.59,1467.59 322.39,1467.71 322.2,1461.07 322.01,1464.49 321.81,1466.02 321.62,1462.46 321.43,1463.33 321.23,1463.87 321.04,1462.99 320.85,1471.12 320.65,1477.19 320.46,1472.71 320.27,1469.02 320.07,1464.83 319.88,1473.66 319.69,1476.98 319.49,1467.6 319.3,1468.76 319.11,1473.36 318.91,1478.55 318.72,1475.43 318.53,1474.15 318.33,1474.24 318.14,1481.9 317.95,1474.89 317.75,1471.23 317.56,1469.47 317.37,1470.97 317.17,1470.66 316.98,1469.13 316.79,1466.4 316.59,1472.81 316.4,1471.84 316.21,1469.82 316.01,1477.27 315.82,1467.16 315.63,1472.14 315.43,1481.12 315.24,1476.27 315.05,1472.61 314.85,1478 314.66,1474.14 314.47,1472.62 314.27,1470.67 314.08,1474.93 313.88,1474.77 313.69,1468.37 313.5,1470.57 313.3,1473.83 313.11,1472.48 312.92,1470.09 312.72,1469.68 312.53,1466.8 312.34,1466.56 312.14,1459.99 311.95,1462.92 311.76,1462.69 311.56,1461.63 311.37,1466.03 311.18,1467.16 310.98,1465.09 310.79,1460.45 310.6,1463.67 310.4,1464 310.21,1459.99 310.02,1458.21 309.82,1459.84 309.63,1460.46 309.44,1458.57 309.24,1458.98 309.05,1459.3 308.86,1460.8 308.66,1458.84 308.47,1456.32 308.28,1460.17 308.08,1459.31 307.89,1454.45 307.7,1456.98 307.5,1456.58 307.31,1455.69 307.12,1455.63 306.92,1459.12 306.73,1458.47 306.54,1458.62 306.34,1457.91 306.15,1455.18 305.96,1452.69 305.76,1454.44 305.57,1458.78 305.38,1453.92 305.18,1451.97 304.99,1453.04 304.8,1456.71 304.6,1455.23 304.41,1453.65 304.21,1453.33 304.02,1453.46 303.83,1453.74 303.63,1453.01 303.44,1455.04 303.25,1453.59 303.05,1454.18 302.86,1453.04 302.67,1451.89 302.47,1451.68 302.28,1453.22 302.09,1453.3 301.89,1452.85 301.7,1452.16 301.51,1451.49 301.31,1451.22 301.12,1451.36 300.93,1452.92 300.73,1451.66 300.54,1451.44 300.35,1452.77 300.15,1451.58 299.96,1451.64 299.77,1451.68 299.57,1451.2 299.38,1451.14 299.19,1451.25 298.99,1451.58 298.8,1451.8 298.61,1451.2 298.41,1451.29 298.22,1451.31 298.03,1451.18 297.83,1451.2 297.64,1451.58 297.45,1451.58 297.25,1451.64 297.06,1451.05 296.87,1451.84 296.67,1451.93 296.48,1451.8 296.29,1453.02 296.09,1453.46 295.9,1454.48 295.71,1453.86 295.51,1452.51 295.32,1452.64 295.12,1453.53 294.93,1453.99 294.74,1454.62 294.54,1455.64 294.35,1455.33 294.16,1454.97 293.96,1453.67 293.77,1454.51 293.58,1456.4 293.38,1461.28 293.19,1460.95 293,1458.62 292.8,1457.78 292.61,1459.03 292.42,1460.25 292.22,1465.22 292.03,1467.04 291.84,1468.61 291.64,1464.57 291.45,1462.05 291.26,1457.37 291.06,1463.64 290.87,1461.86 290.68,1464.56 290.48,1463.68 290.29,1464.07 290.1,1463.38 289.9,1463.07 289.71,1461.48 289.52,1463.15 289.32,1459.04 289.13,1463.36 288.94,1458.51 288.74,1462.38 288.55,1465.22 288.36,1466.46 288.16,1461.33 287.97,1462.21 287.78,1463.97 287.58,1458.29 287.39,1467.81 287.2,1466.24 287,1468.24 286.81,1465.83 286.62,1469.5 286.42,1467.3 286.23,1465.26 286.04,1465.26 285.84,1464.05 285.65,1463.71 285.46,1464.55" fill="none" stroke="#2272AE" stroke-width="2.67" stroke-linejoin="round" stroke-linecap="round"/>
<rect x="470.15" y="1490.2" width="174.06" height="9.47" fill="none" stroke="#FC6A28" stroke-width="4"/>
</g>
<path d="M899.5 1450.9V1458.2M783.46 1450.9V1458.2M667.42 1450.9V1458.2M551.38 1450.9V1458.2M435.34 1450.9V1458.2M319.3 1450.9V1458.2" stroke="#333333" stroke-width="2.67" fill="none"/>
<text class="t" x="899.5" y="1481.2" text-anchor="middle" font-size="24" fill="#404040">1750</text>
<text class="t" x="783.46" y="1481.2" text-anchor="middle" font-size="24" fill="#404040">1800</text>
<text class="t" x="667.42" y="1481.2" text-anchor="middle" font-size="24" fill="#404040">1850</text>
<text class="t" x="551.38" y="1481.2" text-anchor="middle" font-size="24" fill="#404040">1900</text>
<text class="t" x="435.34" y="1481.2" text-anchor="middle" font-size="24" fill="#404040">1950</text>
<text class="t" x="319.3" y="1481.2" text-anchor="middle" font-size="24" fill="#404040">2000</text>
<text x="592" y="1514.5" text-anchor="middle" font-size="30" letter-spacing="-0.5" fill="#000">Date</text>
<text transform="translate(831.5,1476.6) rotate(-90)" text-anchor="middle" font-size="30" letter-spacing="-0.3" fill="#000">Sunspots</text>
<path d="M892.2 1451.4H899.7" stroke="#333333" stroke-width="2.67"/>
<text x="886" y="1460.2" text-anchor="end" font-size="24" fill="#404040">0</text>
<path d="M892.2 1501.5H899" stroke="#333333" stroke-width="2.67"/>
<text x="886" y="1510.3" text-anchor="end" font-size="24" fill="#404040">400</text>
</svg>
</body></html>
